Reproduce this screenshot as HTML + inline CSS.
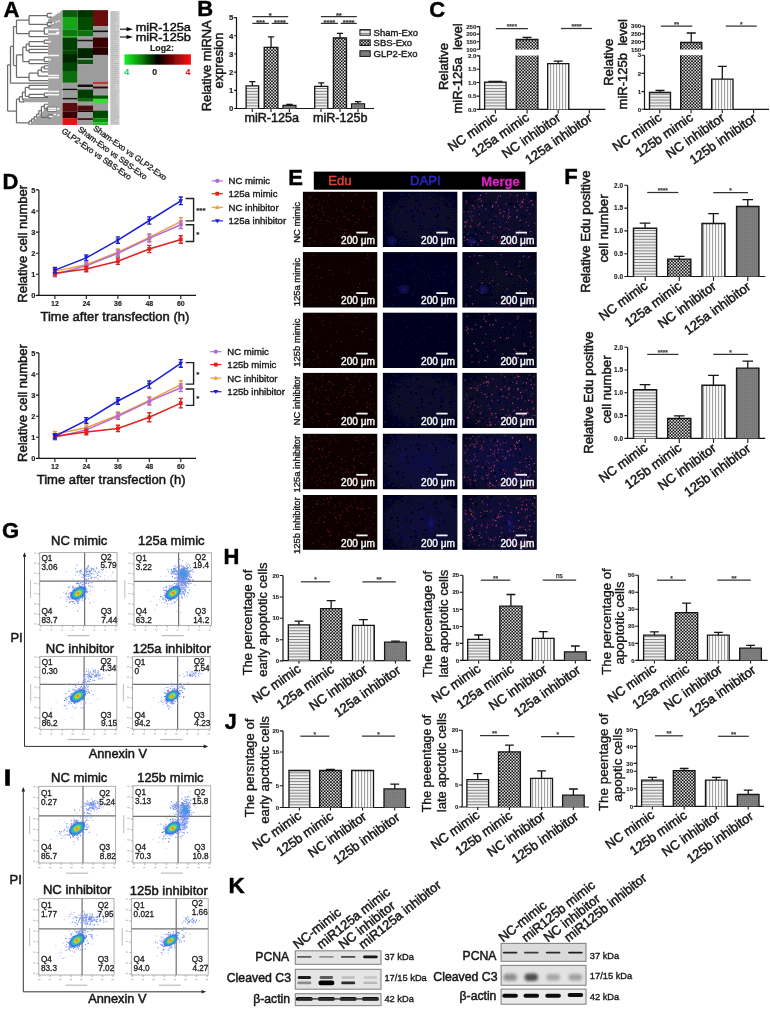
<!DOCTYPE html>
<html><head><meta charset="utf-8"><title>Figure</title>
<style>
html,body{margin:0;padding:0;background:#fff;}
body{width:770px;height:1011px;overflow:hidden;font-family:"Liberation Sans",sans-serif;}
svg{display:block;font-family:"Liberation Sans",sans-serif;}
</style></head><body>
<svg width="770" height="1011" viewBox="0 0 770 1011">
<defs><filter id="soft" x="0" y="0" width="100%" height="100%" filterUnits="userSpaceOnUse"><feGaussianBlur stdDeviation="0.38"/></filter></defs>
<rect width="770" height="1011" fill="#fff"/>
<g filter="url(#soft)">
<defs>
<pattern id="ph" width="4" height="2.9" patternUnits="userSpaceOnUse"><rect width="4" height="2.9" fill="#fafafa"/><rect y="0.9" width="4" height="1.15" fill="#828282"/></pattern>
<pattern id="pv" width="3" height="4" patternUnits="userSpaceOnUse"><rect width="3" height="4" fill="#fafafa"/><rect x="1" width="1.1" height="4" fill="#a2a2a2"/></pattern>
<pattern id="pc" width="3.1" height="3.1" patternUnits="userSpaceOnUse"><rect width="3.1" height="3.1" fill="#151515"/><rect width="1.45" height="1.45" fill="#f6f6f6"/><rect x="1.55" y="1.55" width="1.45" height="1.45" fill="#f6f6f6"/></pattern>
<pattern id="pg" width="2" height="2" patternUnits="userSpaceOnUse"><rect width="2" height="2" fill="#7b7b7b"/><rect width="1" height="1" fill="#747474"/><rect x="1" y="1" width="1" height="1" fill="#828282"/></pattern>
</defs>
<text x="3.6" y="16.5" font-size="22" text-anchor="start" font-weight="bold" fill="#000"  stroke="#000" stroke-width="0.44">A</text>
<path d="M62.5,10.5 L58,12.5 L55,15.5 L48.1,19 L48.1,98.3 L23,98.3 L23,102.2 L48.1,102.2 L48.1,105 L44.5,109.5 L41.5,113 L38,116.5 L35,119.5 L32,122 L29.5,125 L62.5,125 Z" fill="#a3a3a3" stroke="none" stroke-width="1" />
<path d="M7.6,64.9V111.1M7.6,64.9H10.5M7.6,111.1H16.5M10.5,46.4V83.2M10.5,46.4H13.5M10.5,83.2H48.1M13.5,26.5V65.5M13.5,26.5H16.5M13.5,65.5H16.5M16.5,20.0V33.7M16.5,20.0H29.1M16.5,33.7H29.1M29.1,15.5V24.4M29.1,15.5H47.3M29.1,24.4H47.3M47.3,13.4V17.2M47.3,13.4H52.0M47.3,17.2H52.0M47.3,22.3V26.1M47.3,22.3H52.0M47.3,26.1H51.0M29.1,31.2V36.6M29.1,31.2H44.3M29.1,36.6H48.1M44.3,27.8V34.1M44.3,27.8H48.1M44.3,34.1H48.1M16.5,54.8V77.3M16.5,54.8H22.8M16.5,77.3H29.1M22.8,47.2V61.5M22.8,47.2H26.2M22.8,61.5H29.1M26.2,44.2V50.6M26.2,44.2H29.1M26.2,50.6H29.1M29.1,41.7V46.4M29.1,41.7H44.3M29.1,46.4H48.1M44.3,40.0V43.4M44.3,40.0H48.1M44.3,43.4H48.1M29.1,49.3V52.7M29.1,49.3H48.1M29.1,52.7H48.1M29.1,59.9V63.6M29.1,59.9H44.3M29.1,63.6H48.1M44.3,57.3V61.5M44.3,57.3H48.1M44.3,61.5H48.1M29.1,73.1V80.7M29.1,73.1H38.0M29.1,80.7H48.1M38.0,70.1V76.0M38.0,70.1H41.4M38.0,76.0H48.1M41.4,67.2V71.8M41.4,67.2H44.3M41.4,71.8H48.1M44.3,65.9V68.9M44.3,65.9H48.1M44.3,68.9H48.1M16.5,99.2V122.9M16.5,99.2H19.4M16.5,122.9H29.1M19.4,96.7V101.8M19.4,96.7H22.4M19.4,101.8H24.0M22.4,92.1V99.7M22.4,92.1H25.3M22.4,99.7H24.0M25.3,87.4V96.3M25.3,87.4H29.1M25.3,96.3H29.1M29.1,85.3V89.1M29.1,85.3H48.1M29.1,89.1H48.1M29.1,94.2V97.7M29.1,94.4H44.3M29.1,97.7H48.1M44.3,93.2V96.3M44.3,93.2H48.1M44.3,96.3H48.1M29.1,120.9V124.9M29.1,120.9H31.6M31.6,118.8V122.8M31.6,118.8H34.2M34.2,116.6V120.6M34.2,116.6H36.7M36.7,114.1V118.1M36.7,114.1H38.8M38.8,110.7V114.7M38.8,110.7H41.4M41.4,106.4V117.4M41.4,106.4H44.3M41.4,117.4H48.1M44.3,104.3V108.9M44.3,104.3H48.1M44.3,108.9H47.3M47.3,107.3V111.1M47.3,107.3H56.5M47.3,111.1H56.5M48.1,114.9V118.2M48.1,114.9H53.0M48.1,118.2H51.0" fill="none" stroke="#6c6c6c" stroke-width="1.25" />
<path d="M48.2,15.3H51.5M52.5,14.5H54.5M56.0,13.4H57.5M58.5,12.6H60.0M48.2,24.2H51.0M52.0,23.1H54.0M55.5,22.1H57.0M58.0,21.2H59.5M48.2,29.5H59.0M48.2,34.1H59.0M56.0,32.4H59.5M48.2,41.7H51.0M48.2,55.6H59.0M48.2,59.4H51.0M48.2,75.4H59.0M48.2,77.7H59.0M48.2,91.6H59.0M48.2,94.4H51.0M48.2,94.8H59.0M48.2,108.3H56.0M48.2,110.2H56.0M57.0,108.8H59.5M53.5,114.4H56.0M57.5,115.3H59.5M48.8,116.5H52.5M44.9,105.6H47.6M44.9,94.6H47.6M44.9,41.7H47.6M44.9,59.4H47.6M44.9,67.4H47.6" fill="none" stroke="#f6f6f6" stroke-width="1.5" />
<defs><filter id="hb" x="0" y="-2%" width="100%" height="104%"><feGaussianBlur stdDeviation="0 0.7"/></filter><clipPath id="hc"><rect x="62.3" y="10.1" width="45.9" height="115"/></clipPath></defs><g clip-path="url(#hc)"><g filter="url(#hb)">
<rect x="62.3" y="10.13" width="15.3" height="6.9" fill="#0b5a0b" stroke="none" stroke-width="1" />
<rect x="62.3" y="16.88" width="15.3" height="12.81" fill="#12a512" stroke="none" stroke-width="1" />
<rect x="62.3" y="29.55" width="15.3" height="6.73" fill="#0a7a0a" stroke="none" stroke-width="1" />
<rect x="62.3" y="36.13" width="15.3" height="1.5" fill="#18b018" stroke="none" stroke-width="1" />
<rect x="62.3" y="37.48" width="15.3" height="13.32" fill="#063c06" stroke="none" stroke-width="1" />
<rect x="62.3" y="50.65" width="15.3" height="3.53" fill="#064406" stroke="none" stroke-width="1" />
<rect x="62.3" y="54.03" width="15.3" height="8.93" fill="#032803" stroke="none" stroke-width="1" />
<rect x="62.3" y="62.81" width="15.3" height="8.25" fill="#064406" stroke="none" stroke-width="1" />
<rect x="62.3" y="70.91" width="15.3" height="11.97" fill="#0a6c0a" stroke="none" stroke-width="1" />
<rect x="62.3" y="82.73" width="15.3" height="6.06" fill="#9c9c9c" stroke="none" stroke-width="1" />
<rect x="62.3" y="88.64" width="15.3" height="1.84" fill="#111" stroke="none" stroke-width="1" />
<rect x="62.3" y="90.33" width="15.3" height="7.75" fill="#9c9c9c" stroke="none" stroke-width="1" />
<rect x="62.3" y="97.92" width="15.3" height="1.84" fill="#181010" stroke="none" stroke-width="1" />
<rect x="62.3" y="99.61" width="15.3" height="3.53" fill="#9c9c9c" stroke="none" stroke-width="1" />
<rect x="62.3" y="102.99" width="15.3" height="8.59" fill="#5a0909" stroke="none" stroke-width="1" />
<rect x="62.3" y="111.43" width="15.3" height="6.9" fill="#3a0606" stroke="none" stroke-width="1" />
<rect x="62.3" y="118.18" width="15.3" height="6.9" fill="#e21414" stroke="none" stroke-width="1" />
<rect x="77.6" y="10.13" width="15.4" height="6.9" fill="#043004" stroke="none" stroke-width="1" />
<rect x="77.6" y="16.88" width="15.4" height="13.66" fill="#064c06" stroke="none" stroke-width="1" />
<rect x="77.6" y="30.39" width="15.4" height="6.23" fill="#087208" stroke="none" stroke-width="1" />
<rect x="77.6" y="36.47" width="15.4" height="3.36" fill="#9c9c9c" stroke="none" stroke-width="1" />
<rect x="77.6" y="39.68" width="15.4" height="2.01" fill="#141414" stroke="none" stroke-width="1" />
<rect x="77.6" y="41.53" width="15.4" height="6.73" fill="#9c9c9c" stroke="none" stroke-width="1" />
<rect x="77.6" y="48.12" width="15.4" height="10.28" fill="#032803" stroke="none" stroke-width="1" />
<rect x="77.6" y="58.25" width="15.4" height="1.84" fill="#7a907a" stroke="none" stroke-width="1" />
<rect x="77.6" y="59.94" width="15.4" height="4.37" fill="#075207" stroke="none" stroke-width="1" />
<rect x="77.6" y="64.16" width="15.4" height="20.41" fill="#9c9c9c" stroke="none" stroke-width="1" />
<rect x="77.6" y="84.42" width="15.4" height="2.85" fill="#120808" stroke="none" stroke-width="1" />
<rect x="77.6" y="87.12" width="15.4" height="2.51" fill="#9c9c9c" stroke="none" stroke-width="1" />
<rect x="77.6" y="89.48" width="15.4" height="8.59" fill="#043a04" stroke="none" stroke-width="1" />
<rect x="77.6" y="97.92" width="15.4" height="3.86" fill="#0a6a0a" stroke="none" stroke-width="1" />
<rect x="77.6" y="101.64" width="15.4" height="4.03" fill="#9c9c9c" stroke="none" stroke-width="1" />
<rect x="77.6" y="105.52" width="15.4" height="5.22" fill="#4c0707" stroke="none" stroke-width="1" />
<rect x="77.6" y="110.59" width="15.4" height="1.84" fill="#1c0505" stroke="none" stroke-width="1" />
<rect x="77.6" y="112.27" width="15.4" height="6.06" fill="#9c9c9c" stroke="none" stroke-width="1" />
<rect x="77.6" y="118.18" width="15.4" height="1.84" fill="#3a0606" stroke="none" stroke-width="1" />
<rect x="77.6" y="119.87" width="15.4" height="5.22" fill="#9c9c9c" stroke="none" stroke-width="1" />
<rect x="93" y="10.13" width="15.2" height="16.19" fill="#6c0b0b" stroke="none" stroke-width="1" />
<rect x="93" y="26.17" width="15.2" height="4.37" fill="#9c9c9c" stroke="none" stroke-width="1" />
<rect x="93" y="30.39" width="15.2" height="2.18" fill="#141010" stroke="none" stroke-width="1" />
<rect x="93" y="32.42" width="15.2" height="5.22" fill="#9c9c9c" stroke="none" stroke-width="1" />
<rect x="93" y="37.48" width="15.2" height="9.94" fill="#3c0606" stroke="none" stroke-width="1" />
<rect x="93" y="47.27" width="15.2" height="7.75" fill="#2c0404" stroke="none" stroke-width="1" />
<rect x="93" y="54.87" width="15.2" height="27.16" fill="#9c9c9c" stroke="none" stroke-width="1" />
<rect x="93" y="81.88" width="15.2" height="2.68" fill="#c43434" stroke="none" stroke-width="1" />
<rect x="93" y="84.42" width="15.2" height="2.18" fill="#9c9c9c" stroke="none" stroke-width="1" />
<rect x="93" y="86.44" width="15.2" height="2.34" fill="#200808" stroke="none" stroke-width="1" />
<rect x="93" y="88.64" width="15.2" height="6.9" fill="#9c9c9c" stroke="none" stroke-width="1" />
<rect x="93" y="95.39" width="15.2" height="3.53" fill="#085008" stroke="none" stroke-width="1" />
<rect x="93" y="98.77" width="15.2" height="4.37" fill="#34e034" stroke="none" stroke-width="1" />
<rect x="93" y="102.99" width="15.2" height="7.75" fill="#9c9c9c" stroke="none" stroke-width="1" />
<rect x="93" y="110.59" width="15.2" height="7.75" fill="#064a06" stroke="none" stroke-width="1" />
<rect x="93" y="118.18" width="15.2" height="4.37" fill="#109010" stroke="none" stroke-width="1" />
<rect x="93" y="122.4" width="15.2" height="2.68" fill="#20c020" stroke="none" stroke-width="1" />
</g></g>
<rect x="110.2" y="11" width="9.3" height="114" fill="#cdcdcd" stroke="none" stroke-width="1" />
<path d="M111,12.0h4.3M111,14.0h6.0M111,16.0h5.0M111,17.9h6.3M111,19.9h6.4M111,21.9h3.4M111,23.9h3.1M111,25.9h7.6M111,27.8h4.4M111,29.8h4.3M111,31.8h8.5M111,33.8h5.6M111,35.8h7.6M111,37.7h5.6M111,39.7h6.5M111,41.7h3.8M111,43.7h6.5M111,45.7h7.8M111,47.6h5.9M111,49.6h7.1M111,51.6h6.7M111,53.6h3.4M111,55.6h7.2M111,57.5h6.3M111,59.5h4.7M111,61.5h3.2M111,63.5h7.8M111,65.5h5.6M111,67.4h7.0M111,69.4h7.8M111,71.4h6.9M111,73.4h8.1M111,75.4h5.2M111,77.3h7.4M111,79.3h5.4M111,81.3h8.1M111,83.3h7.8M111,85.3h3.5M111,87.2h3.7M111,89.2h4.2M111,91.2h8.3M111,93.2h5.4M111,95.2h6.4M111,97.1h4.7M111,99.1h5.8M111,101.1h5.1M111,103.1h4.9M111,105.1h6.2M111,107.0h6.2M111,109.0h8.0M111,111.0h6.8M111,113.0h8.1M111,115.0h7.7M111,116.9h8.5M111,118.9h6.7M111,120.9h3.9M111,122.9h7.7" fill="none" stroke="#b4b4b4" stroke-width="0.9" />
<line x1="120" y1="29.2" x2="128" y2="29.2" stroke="#111" stroke-width="1.1" />
<path d="M126.5,27.099999999999998 L133,29.2 L126.5,31.3 Z" fill="#111" stroke="none" stroke-width="1" />
<line x1="120" y1="37" x2="128" y2="37" stroke="#111" stroke-width="1.1" />
<path d="M126.5,34.9 L133,37 L126.5,39.1 Z" fill="#111" stroke="none" stroke-width="1" />
<text x="135.7" y="31.4" font-size="11.6" text-anchor="start" font-weight="normal" fill="#111" textLength="55.2" lengthAdjust="spacingAndGlyphs" stroke="#111" stroke-width="0.44">miR-125a</text>
<text x="135.7" y="40.9" font-size="11.6" text-anchor="start" font-weight="normal" fill="#111" textLength="55.2" lengthAdjust="spacingAndGlyphs" stroke="#111" stroke-width="0.44">miR-125b</text>
<text x="150" y="51" font-size="8.8" text-anchor="start" font-weight="bold" fill="#222"  stroke="#222" stroke-width="0.18">Log2:</text>
<defs><linearGradient id="cb"><stop offset="0" stop-color="#18f028"/><stop offset="0.2" stop-color="#0aa00a"/><stop offset="0.5" stop-color="#000"/><stop offset="0.8" stop-color="#a00808"/><stop offset="1" stop-color="#ff1010"/></linearGradient></defs>
<rect x="124.4" y="54.3" width="66.5" height="10.4" fill="url(#cb)" stroke="none" stroke-width="1" />
<text x="126.8" y="75.3" font-size="8.8" text-anchor="middle" font-weight="bold" fill="#2fd85a"  stroke="#2fd85a" stroke-width="0.18">4</text>
<text x="154.8" y="75.3" font-size="8.8" text-anchor="middle" font-weight="bold" fill="#222"  stroke="#222" stroke-width="0.18">0</text>
<text x="188" y="75.3" font-size="8.8" text-anchor="middle" font-weight="bold" fill="#e0202a"  stroke="#e0202a" stroke-width="0.18">4</text>
<text x="61" y="132.2" font-size="8.15" text-anchor="start" font-weight="normal" fill="#1a1a1a" transform="rotate(35.3 61 132.2)"  stroke="#1a1a1a" stroke-width="0.31">GLP2-Exo vs SBS-Exo</text>
<text x="77.2" y="130.4" font-size="8.15" text-anchor="start" font-weight="normal" fill="#1a1a1a" transform="rotate(36.3 77.2 130.4)"  stroke="#1a1a1a" stroke-width="0.31">Sham-Exo vs SBS-Exo</text>
<text x="92.6" y="129.4" font-size="8.15" text-anchor="start" font-weight="normal" fill="#1a1a1a" transform="rotate(35.6 92.6 129.4)"  stroke="#1a1a1a" stroke-width="0.31">Sham-Exo vs GLP2-Exo</text>
<text x="197.3" y="15.6" font-size="22" text-anchor="start" font-weight="bold" fill="#000"  stroke="#000" stroke-width="0.44">B</text>
<path d="M236.5,17.3V108.5" fill="none" stroke="#161616" stroke-width="1.2" />
<path d="M235.9,108.5H374" fill="none" stroke="#161616" stroke-width="1.2" />
<text x="233.4" y="111.31" font-size="7.8" text-anchor="end" font-weight="bold" fill="#222"  stroke="#222" stroke-width="0.16">0</text>
<text x="233.4" y="93.14" font-size="7.8" text-anchor="end" font-weight="bold" fill="#222"  stroke="#222" stroke-width="0.16">1</text>
<text x="233.4" y="74.97" font-size="7.8" text-anchor="end" font-weight="bold" fill="#222"  stroke="#222" stroke-width="0.16">2</text>
<text x="233.4" y="56.8" font-size="7.8" text-anchor="end" font-weight="bold" fill="#222"  stroke="#222" stroke-width="0.16">3</text>
<text x="233.4" y="38.63" font-size="7.8" text-anchor="end" font-weight="bold" fill="#222"  stroke="#222" stroke-width="0.16">4</text>
<text x="233.4" y="20.46" font-size="7.8" text-anchor="end" font-weight="bold" fill="#222"  stroke="#222" stroke-width="0.16">5</text>
<path d="M234.1,108.5H236.5M234.1,90.33H236.5M234.1,72.16H236.5M234.1,53.99H236.5M234.1,35.82H236.5M234.1,17.65H236.5M252.30,108.5v3.4M271.00,108.5v3.4M289.40,108.5v3.4M321.00,108.5v3.4M340.00,108.5v3.4M358.00,108.5v3.4" fill="none" stroke="#161616" stroke-width="1.1" />
<rect x="246.1" y="85.9" width="12.5" height="22.6" fill="url(#ph)" stroke="none" stroke-width="1" />
<path d="M246.10,108.50V85.90H258.60V108.50" fill="none" stroke="#161616" stroke-width="1.3" />
<path d="M252.35,85.90V81.70M249.25,81.70H255.45" fill="none" stroke="#161616" stroke-width="1.3" />
<rect x="264.2" y="47.4" width="13.7" height="61.1" fill="url(#pc)" stroke="none" stroke-width="1" />
<path d="M264.20,108.50V47.40H277.90V108.50" fill="none" stroke="#161616" stroke-width="1.3" />
<path d="M271.05,47.40V36.80M267.95,36.80H274.15" fill="none" stroke="#161616" stroke-width="1.3" />
<rect x="282.9" y="105.4" width="13.1" height="3.1" fill="url(#pg)" stroke="none" stroke-width="1" />
<path d="M282.90,108.50V105.40H296.00V108.50" fill="none" stroke="#161616" stroke-width="1.1" />
<path d="M289.45,105.40V104.40M286.35,104.40H292.55" fill="none" stroke="#161616" stroke-width="1.3" />
<rect x="314.7" y="86.3" width="13.1" height="22.2" fill="url(#ph)" stroke="none" stroke-width="1" />
<path d="M314.70,108.50V86.30H327.80V108.50" fill="none" stroke="#161616" stroke-width="1.3" />
<path d="M321.25,86.30V82.90M318.15,82.90H324.35" fill="none" stroke="#161616" stroke-width="1.3" />
<rect x="333.4" y="38" width="13.1" height="70.5" fill="url(#pc)" stroke="none" stroke-width="1" />
<path d="M333.40,108.50V38.00H346.50V108.50" fill="none" stroke="#161616" stroke-width="1.3" />
<path d="M339.95,38.00V33.40M336.85,33.40H343.05" fill="none" stroke="#161616" stroke-width="1.3" />
<rect x="351.5" y="103.8" width="13.1" height="4.7" fill="url(#pg)" stroke="none" stroke-width="1" />
<path d="M351.50,108.50V103.80H364.60V108.50" fill="none" stroke="#161616" stroke-width="1.1" />
<path d="M358.05,103.80V101.60M354.95,101.60H361.15" fill="none" stroke="#161616" stroke-width="1.3" />
<line x1="252.3" y1="16.5" x2="288.2" y2="16.5" stroke="#333" stroke-width="1.25" />
<text x="270.25" y="18.1" font-size="7.5" text-anchor="middle" font-weight="bold" fill="#333"  stroke="#333" stroke-width="0.15">*</text>
<line x1="252.3" y1="23.4" x2="268.9" y2="23.4" stroke="#333" stroke-width="1.25" />
<text x="260.6" y="25.0" font-size="7.5" text-anchor="middle" font-weight="bold" fill="#333"  stroke="#333" stroke-width="0.15">***</text>
<line x1="271.7" y1="23.4" x2="288.2" y2="23.4" stroke="#333" stroke-width="1.25" />
<text x="279.95" y="25.0" font-size="7.5" text-anchor="middle" font-weight="bold" fill="#333"  stroke="#333" stroke-width="0.15">****</text>
<line x1="320.9" y1="16.5" x2="356.8" y2="16.5" stroke="#333" stroke-width="1.25" />
<text x="338.85" y="18.1" font-size="7.5" text-anchor="middle" font-weight="bold" fill="#333"  stroke="#333" stroke-width="0.15">**</text>
<line x1="320.9" y1="23.4" x2="338" y2="23.4" stroke="#333" stroke-width="1.25" />
<text x="329.45" y="25.0" font-size="7.5" text-anchor="middle" font-weight="bold" fill="#333"  stroke="#333" stroke-width="0.15">****</text>
<line x1="340.6" y1="23.4" x2="356.8" y2="23.4" stroke="#333" stroke-width="1.25" />
<text x="348.7" y="25.0" font-size="7.5" text-anchor="middle" font-weight="bold" fill="#333"  stroke="#333" stroke-width="0.15">****</text>
<text x="271.7" y="122.4" font-size="12.6" text-anchor="middle" font-weight="normal" fill="#161616"  stroke="#161616" stroke-width="0.48">miR-125a</text>
<text x="340.2" y="122.4" font-size="12.6" text-anchor="middle" font-weight="normal" fill="#161616"  stroke="#161616" stroke-width="0.48">miR-125b</text>
<text x="211.45" y="65.8" font-size="12.9" text-anchor="middle" font-weight="normal" fill="#161616" transform="rotate(-90 211.45 65.8)"  stroke="#161616" stroke-width="0.49">Relative miRNA</text>
<text x="223.15" y="60.5" font-size="12.9" text-anchor="middle" font-weight="normal" fill="#161616" transform="rotate(-90 223.15 60.5)"  stroke="#161616" stroke-width="0.49">expresion</text>
<rect x="359.9" y="29.6" width="10.3" height="5.6" fill="url(#ph)" stroke="#161616" stroke-width="1" />
<text x="373.6" y="36.0" font-size="9.5" text-anchor="start" font-weight="normal" fill="#161616"  stroke="#161616" stroke-width="0.36">Sham-Exo</text>
<rect x="359.9" y="39.9" width="10.3" height="5.6" fill="url(#pc)" stroke="#161616" stroke-width="1" />
<text x="373.6" y="46.3" font-size="9.5" text-anchor="start" font-weight="normal" fill="#161616"  stroke="#161616" stroke-width="0.36">SBS-Exo</text>
<rect x="359.9" y="50.8" width="10.3" height="5.6" fill="url(#pg)" stroke="#161616" stroke-width="1" />
<text x="373.6" y="57.199999999999996" font-size="9.5" text-anchor="start" font-weight="normal" fill="#161616"  stroke="#161616" stroke-width="0.36">GLP2-Exo</text>
<text x="429.3" y="17.2" font-size="22" text-anchor="start" font-weight="bold" fill="#000"  stroke="#000" stroke-width="0.44">C</text>
<path d="M479.7,26.2V49.6M479.7,55.6V109.4" fill="none" stroke="#161616" stroke-width="1.2" />
<path d="M479.09999999999997,109.4H605.5" fill="none" stroke="#161616" stroke-width="1.2" />
<text x="476.4" y="28.8" font-size="6.1" text-anchor="end" font-weight="bold" fill="#222"  stroke="#222" stroke-width="0.12">250</text>
<text x="476.4" y="36.3" font-size="6.1" text-anchor="end" font-weight="bold" fill="#222"  stroke="#222" stroke-width="0.12">200</text>
<text x="476.4" y="44.0" font-size="6.1" text-anchor="end" font-weight="bold" fill="#222"  stroke="#222" stroke-width="0.12">150</text>
<text x="476.4" y="51.5" font-size="6.1" text-anchor="end" font-weight="bold" fill="#222"  stroke="#222" stroke-width="0.12">100</text>
<text x="476.4" y="58.1" font-size="6.1" text-anchor="end" font-weight="bold" fill="#222"  stroke="#222" stroke-width="0.12">2.0</text>
<text x="476.4" y="71.4" font-size="6.1" text-anchor="end" font-weight="bold" fill="#222"  stroke="#222" stroke-width="0.12">1.5</text>
<text x="476.4" y="84.7" font-size="6.1" text-anchor="end" font-weight="bold" fill="#222"  stroke="#222" stroke-width="0.12">1.0</text>
<text x="476.4" y="98.3" font-size="6.1" text-anchor="end" font-weight="bold" fill="#222"  stroke="#222" stroke-width="0.12">0.5</text>
<text x="476.4" y="111.6" font-size="6.1" text-anchor="end" font-weight="bold" fill="#222"  stroke="#222" stroke-width="0.12">0.0</text>
<path d="M476.7,26.6H479.7M476.7,34.1H479.7M476.7,41.8H479.7M476.7,49.3H479.7M476.7,55.9H479.7M476.7,69.2H479.7M476.7,82.5H479.7M476.7,96.1H479.7M476.7,109.4H479.7M495.4,109.4v4M527.1,109.4v4M558.2,109.4v4M589.3,109.4v4" fill="none" stroke="#161616" stroke-width="1.1" />
<rect x="484.6" y="82.1" width="21.5" height="27.3" fill="url(#ph)" stroke="none" stroke-width="1" />
<path d="M484.60,109.40V82.10H506.10V109.40" fill="none" stroke="#161616" stroke-width="1.3" />
<path d="M495.35,82.10V81.40M488.35,81.40H502.35" fill="none" stroke="#161616" stroke-width="1.3" />
<rect x="516.2" y="55.6" width="21.7" height="53.8" fill="url(#pc)" stroke="none" stroke-width="1" />
<path d="M516.20,109.40V55.60M537.90,55.60V109.40" fill="none" stroke="#161616" stroke-width="1.3" />
<rect x="516.2" y="39.5" width="21.7" height="10.1" fill="url(#pc)" stroke="none" stroke-width="1" />
<path d="M516.20,49.60V39.50H537.90V49.60" fill="none" stroke="#161616" stroke-width="1.3" />
<path d="M527.05,39.50V37.40M522.55,37.40H531.55" fill="none" stroke="#161616" stroke-width="1.3" />
<rect x="547.7" y="63.6" width="21.1" height="45.8" fill="url(#pv)" stroke="none" stroke-width="1" />
<path d="M547.70,109.40V63.60H568.80V109.40" fill="none" stroke="#161616" stroke-width="1.3" />
<path d="M558.25,63.60V61.20M553.75,61.20H562.75" fill="none" stroke="#161616" stroke-width="1.3" />
<line x1="495.8" y1="28.5" x2="527.9" y2="28.5" stroke="#333" stroke-width="1.25" />
<text x="511.85" y="29.1" font-size="6.6" text-anchor="middle" font-weight="bold" fill="#333"  stroke="#333" stroke-width="0.13">****</text>
<line x1="561" y1="28.5" x2="592.1" y2="28.5" stroke="#333" stroke-width="1.25" />
<text x="576.55" y="29.1" font-size="6.6" text-anchor="middle" font-weight="bold" fill="#333"  stroke="#333" stroke-width="0.13">****</text>
<text x="498" y="119.5" font-size="13" text-anchor="end" font-weight="normal" fill="#161616" transform="rotate(-35 498 119.5)"  stroke="#161616" stroke-width="0.49">NC mimic</text>
<text x="530" y="119.5" font-size="13" text-anchor="end" font-weight="normal" fill="#161616" transform="rotate(-35 530 119.5)"  stroke="#161616" stroke-width="0.49">125a mimic</text>
<text x="561.5" y="119.8" font-size="13" text-anchor="end" font-weight="normal" fill="#161616" transform="rotate(-35 561.5 119.8)"  stroke="#161616" stroke-width="0.49">NC inhibitor</text>
<text x="593" y="120" font-size="13" text-anchor="end" font-weight="normal" fill="#161616" transform="rotate(-35 593 120)"  stroke="#161616" stroke-width="0.49">125a inhibitor</text>
<text x="447.99" y="66.6" font-size="13" text-anchor="middle" font-weight="normal" fill="#161616" transform="rotate(-90 447.99 66.6)"  stroke="#161616" stroke-width="0.49">Relative</text>
<text x="461.99" y="68.4" font-size="13" text-anchor="middle" font-weight="normal" fill="#161616" transform="rotate(-90 461.99 68.4)"  stroke="#161616" stroke-width="0.49">miR-125a  level</text>
<path d="M644.5,26.1V49.5M644.5,55.2V109.3" fill="none" stroke="#161616" stroke-width="1.2" />
<path d="M643.9,109.3H769" fill="none" stroke="#161616" stroke-width="1.2" />
<text x="641.2" y="28.3" font-size="6.1" text-anchor="end" font-weight="bold" fill="#222"  stroke="#222" stroke-width="0.12">300</text>
<text x="641.2" y="36.1" font-size="6.1" text-anchor="end" font-weight="bold" fill="#222"  stroke="#222" stroke-width="0.12">250</text>
<text x="641.2" y="43.8" font-size="6.1" text-anchor="end" font-weight="bold" fill="#222"  stroke="#222" stroke-width="0.12">200</text>
<text x="641.2" y="51.5" font-size="6.1" text-anchor="end" font-weight="bold" fill="#222"  stroke="#222" stroke-width="0.12">150</text>
<text x="641.2" y="57.4" font-size="6.1" text-anchor="end" font-weight="bold" fill="#222"  stroke="#222" stroke-width="0.12">3</text>
<text x="641.2" y="75.6" font-size="6.1" text-anchor="end" font-weight="bold" fill="#222"  stroke="#222" stroke-width="0.12">2</text>
<text x="641.2" y="93.8" font-size="6.1" text-anchor="end" font-weight="bold" fill="#222"  stroke="#222" stroke-width="0.12">1</text>
<text x="641.2" y="111.5" font-size="6.1" text-anchor="end" font-weight="bold" fill="#222"  stroke="#222" stroke-width="0.12">0</text>
<path d="M641.5,26.1H644.5M641.5,33.9H644.5M641.5,41.6H644.5M641.5,49.3H644.5M641.5,55.2H644.5M641.5,73.4H644.5M641.5,91.6H644.5M641.5,109.3H644.5M659.8,109.3v4M691.1,109.3v4M722.3,109.3v4M753.6,109.3v4" fill="none" stroke="#161616" stroke-width="1.1" />
<rect x="649.5" y="92.5" width="21.0" height="16.8" fill="url(#ph)" stroke="none" stroke-width="1" />
<path d="M649.50,109.30V92.50H670.50V109.30" fill="none" stroke="#161616" stroke-width="1.3" />
<path d="M660.00,92.50V90.50M655.50,90.50H664.50" fill="none" stroke="#161616" stroke-width="1.3" />
<rect x="680.7" y="55.2" width="21.1" height="54.1" fill="url(#pc)" stroke="none" stroke-width="1" />
<path d="M680.70,109.30V55.20M701.80,55.20V109.30" fill="none" stroke="#161616" stroke-width="1.3" />
<rect x="680.7" y="42.5" width="21.1" height="7.0" fill="url(#pc)" stroke="none" stroke-width="1" />
<path d="M680.70,49.50V42.50H701.80V49.50" fill="none" stroke="#161616" stroke-width="1.3" />
<path d="M691.25,42.50V33.00M686.75,33.00H695.75" fill="none" stroke="#161616" stroke-width="1.3" />
<rect x="711.6" y="79.1" width="21.4" height="30.2" fill="url(#pv)" stroke="none" stroke-width="1" />
<path d="M711.60,109.30V79.10H733.00V109.30" fill="none" stroke="#161616" stroke-width="1.3" />
<path d="M722.30,79.10V66.40M717.80,66.40H726.80" fill="none" stroke="#161616" stroke-width="1.3" />
<line x1="660.9" y1="26.1" x2="692.3" y2="26.1" stroke="#333" stroke-width="1.25" />
<text x="676.6" y="26.7" font-size="6.6" text-anchor="middle" font-weight="bold" fill="#333"  stroke="#333" stroke-width="0.13">**</text>
<line x1="725.7" y1="26.1" x2="756.8" y2="26.1" stroke="#333" stroke-width="1.25" />
<text x="741.25" y="26.7" font-size="6.6" text-anchor="middle" font-weight="bold" fill="#333"  stroke="#333" stroke-width="0.13">*</text>
<text x="662.5" y="119.5" font-size="13" text-anchor="end" font-weight="normal" fill="#161616" transform="rotate(-35 662.5 119.5)"  stroke="#161616" stroke-width="0.49">NC mimic</text>
<text x="694" y="119.5" font-size="13" text-anchor="end" font-weight="normal" fill="#161616" transform="rotate(-35 694 119.5)"  stroke="#161616" stroke-width="0.49">125b mimic</text>
<text x="725.5" y="119.8" font-size="13" text-anchor="end" font-weight="normal" fill="#161616" transform="rotate(-35 725.5 119.8)"  stroke="#161616" stroke-width="0.49">NC inhibitor</text>
<text x="757.5" y="120" font-size="13" text-anchor="end" font-weight="normal" fill="#161616" transform="rotate(-35 757.5 120)"  stroke="#161616" stroke-width="0.49">125b inhibitor</text>
<text x="613.38" y="62.3" font-size="13" text-anchor="middle" font-weight="normal" fill="#161616" transform="rotate(-90 613.38 62.3)"  stroke="#161616" stroke-width="0.49">Relative</text>
<text x="627.38" y="64.2" font-size="13" text-anchor="middle" font-weight="normal" fill="#161616" transform="rotate(-90 627.38 64.2)"  stroke="#161616" stroke-width="0.49">miR-125b  level</text>
<text x="2.4" y="188.8" font-size="22" text-anchor="start" font-weight="bold" fill="#000"  stroke="#000" stroke-width="0.44">D</text>
<path d="M38.9,189.9V295.4" fill="none" stroke="#161616" stroke-width="1.2" />
<path d="M38.3,295.4H196" fill="none" stroke="#161616" stroke-width="1.2" />
<text x="35.3" y="298.06" font-size="7.4" text-anchor="end" font-weight="bold" fill="#222"  stroke="#222" stroke-width="0.15">0</text>
<text x="35.3" y="276.96" font-size="7.4" text-anchor="end" font-weight="bold" fill="#222"  stroke="#222" stroke-width="0.15">1</text>
<text x="35.3" y="255.86" font-size="7.4" text-anchor="end" font-weight="bold" fill="#222"  stroke="#222" stroke-width="0.15">2</text>
<text x="35.3" y="234.76" font-size="7.4" text-anchor="end" font-weight="bold" fill="#222"  stroke="#222" stroke-width="0.15">3</text>
<text x="35.3" y="213.66" font-size="7.4" text-anchor="end" font-weight="bold" fill="#222"  stroke="#222" stroke-width="0.15">4</text>
<text x="35.3" y="192.56" font-size="7.4" text-anchor="end" font-weight="bold" fill="#222"  stroke="#222" stroke-width="0.15">5</text>
<path d="M35.9,295.4H38.9M35.9,274.3H38.9M35.9,253.2H38.9M35.9,232.1H38.9M35.9,211.0H38.9M35.9,189.9H38.9M54.90,295.4v3.6M86.30,295.4v3.6M117.90,295.4v3.6M149.30,295.4v3.6M180.80,295.4v3.6" fill="none" stroke="#161616" stroke-width="1.1" />
<text x="54.9" y="306.4" font-size="7.0" text-anchor="middle" font-weight="bold" fill="#222"  stroke="#222" stroke-width="0.14">12</text>
<text x="86.3" y="306.4" font-size="7.0" text-anchor="middle" font-weight="bold" fill="#222"  stroke="#222" stroke-width="0.14">24</text>
<text x="117.9" y="306.4" font-size="7.0" text-anchor="middle" font-weight="bold" fill="#222"  stroke="#222" stroke-width="0.14">36</text>
<text x="149.3" y="306.4" font-size="7.0" text-anchor="middle" font-weight="bold" fill="#222"  stroke="#222" stroke-width="0.14">48</text>
<text x="180.8" y="306.4" font-size="7.0" text-anchor="middle" font-weight="bold" fill="#222"  stroke="#222" stroke-width="0.14">60</text>
<path d="M54.9,271.13L86.3,264.8L117.9,252.14L149.3,237.37L180.8,221.55" fill="none" stroke="#e9a13a" stroke-width="1.5" />
<path d="M54.9,268.53V273.73M52.8,268.53h4.2M52.8,273.73h4.2M86.3,262.00V267.60M84.2,262.00h4.2M84.2,267.60h4.2M117.9,248.94V255.34M115.80000000000001,248.94h4.2M115.80000000000001,255.34h4.2M149.3,233.77V240.97M147.20000000000002,233.77h4.2M147.20000000000002,240.97h4.2M180.8,217.75V225.35M178.70000000000002,217.75h4.2M178.70000000000002,225.35h4.2" fill="none" stroke="#e9a13a" stroke-width="1.4" />
<path d="M52.50,272.83L57.30,272.83L54.9,268.73Z" fill="#e9a13a" stroke="none" stroke-width="1" />
<path d="M83.90,266.50L88.70,266.50L86.3,262.40Z" fill="#e9a13a" stroke="none" stroke-width="1" />
<path d="M115.50,253.84L120.30,253.84L117.9,249.74Z" fill="#e9a13a" stroke="none" stroke-width="1" />
<path d="M146.90,239.07L151.70,239.07L149.3,234.97Z" fill="#e9a13a" stroke="none" stroke-width="1" />
<path d="M178.40,223.25L183.20,223.25L180.8,219.15Z" fill="#e9a13a" stroke="none" stroke-width="1" />
<path d="M54.9,274.3L86.3,265.86L117.9,253.2L149.3,238.43L180.8,224.71" fill="none" stroke="#b56ad6" stroke-width="1.5" />
<path d="M54.9,271.70V276.90M52.8,271.70h4.2M52.8,276.90h4.2M86.3,263.06V268.66M84.2,263.06h4.2M84.2,268.66h4.2M117.9,250.00V256.40M115.80000000000001,250.00h4.2M115.80000000000001,256.40h4.2M149.3,234.83V242.03M147.20000000000002,234.83h4.2M147.20000000000002,242.03h4.2M180.8,220.91V228.51M178.70000000000002,220.91h4.2M178.70000000000002,228.51h4.2" fill="none" stroke="#b56ad6" stroke-width="1.4" />
<circle cx="54.9" cy="274.3" r="2.1" fill="#b56ad6" />
<circle cx="86.3" cy="265.86" r="2.1" fill="#b56ad6" />
<circle cx="117.9" cy="253.2" r="2.1" fill="#b56ad6" />
<circle cx="149.3" cy="238.43" r="2.1" fill="#b56ad6" />
<circle cx="180.8" cy="224.71" r="2.1" fill="#b56ad6" />
<path d="M54.9,273.25L86.3,269.02L117.9,261.22L149.3,248.98L180.8,239.48" fill="none" stroke="#e0221e" stroke-width="1.5" />
<path d="M54.9,270.65V275.85M52.8,270.65h4.2M52.8,275.85h4.2M86.3,266.22V271.82M84.2,266.22h4.2M84.2,271.82h4.2M117.9,258.02V264.42M115.80000000000001,258.02h4.2M115.80000000000001,264.42h4.2M149.3,245.38V252.58M147.20000000000002,245.38h4.2M147.20000000000002,252.58h4.2M180.8,235.68V243.28M178.70000000000002,235.68h4.2M178.70000000000002,243.28h4.2" fill="none" stroke="#e0221e" stroke-width="1.4" />
<rect x="53.0" y="271.35" width="3.8" height="3.8" fill="#e0221e" stroke="none" stroke-width="1" />
<rect x="84.4" y="267.12" width="3.8" height="3.8" fill="#e0221e" stroke="none" stroke-width="1" />
<rect x="116.0" y="259.32" width="3.8" height="3.8" fill="#e0221e" stroke="none" stroke-width="1" />
<rect x="147.4" y="247.08" width="3.8" height="3.8" fill="#e0221e" stroke="none" stroke-width="1" />
<rect x="178.9" y="237.58" width="3.8" height="3.8" fill="#e0221e" stroke="none" stroke-width="1" />
<path d="M54.9,270.08L86.3,257.84L117.9,240.12L149.3,220.49L180.8,200.87" fill="none" stroke="#1a1fd0" stroke-width="1.5" />
<path d="M54.9,267.48V272.68M52.8,267.48h4.2M52.8,272.68h4.2M86.3,255.04V260.64M84.2,255.04h4.2M84.2,260.64h4.2M117.9,236.92V243.32M115.80000000000001,236.92h4.2M115.80000000000001,243.32h4.2M149.3,216.89V224.09M147.20000000000002,216.89h4.2M147.20000000000002,224.09h4.2M180.8,197.07V204.67M178.70000000000002,197.07h4.2M178.70000000000002,204.67h4.2" fill="none" stroke="#1a1fd0" stroke-width="1.4" />
<path d="M52.50,268.38L57.30,268.38L54.9,272.48Z" fill="#1a1fd0" stroke="none" stroke-width="1" />
<path d="M83.90,256.14L88.70,256.14L86.3,260.24Z" fill="#1a1fd0" stroke="none" stroke-width="1" />
<path d="M115.50,238.42L120.30,238.42L117.9,242.52Z" fill="#1a1fd0" stroke="none" stroke-width="1" />
<path d="M146.90,218.79L151.70,218.79L149.3,222.89Z" fill="#1a1fd0" stroke="none" stroke-width="1" />
<path d="M178.40,199.17L183.20,199.17L180.8,203.27Z" fill="#1a1fd0" stroke="none" stroke-width="1" />
<line x1="211.70000000000002" y1="180.9" x2="222.9" y2="180.9" stroke="#b56ad6" stroke-width="1.2" />
<circle cx="217.3" cy="180.9" r="2.1" fill="#b56ad6" />
<text x="228.5" y="184.4" font-size="9.6" text-anchor="start" font-weight="normal" fill="#161616"  stroke="#161616" stroke-width="0.36">NC mimic</text>
<line x1="211.70000000000002" y1="193.7" x2="222.9" y2="193.7" stroke="#e0221e" stroke-width="1.2" />
<rect x="215.4" y="191.8" width="3.8" height="3.8" fill="#e0221e" stroke="none" stroke-width="1" />
<text x="228.5" y="197.2" font-size="9.6" text-anchor="start" font-weight="normal" fill="#161616"  stroke="#161616" stroke-width="0.36">125a mimic</text>
<line x1="211.70000000000002" y1="207.3" x2="222.9" y2="207.3" stroke="#e9a13a" stroke-width="1.2" />
<path d="M214.90,209.00L219.70,209.00L217.3,204.90Z" fill="#e9a13a" stroke="none" stroke-width="1" />
<text x="228.5" y="210.8" font-size="9.6" text-anchor="start" font-weight="normal" fill="#161616"  stroke="#161616" stroke-width="0.36">NC inhibitor</text>
<line x1="211.70000000000002" y1="220.9" x2="222.9" y2="220.9" stroke="#1a1fd0" stroke-width="1.2" />
<path d="M214.90,219.20L219.70,219.20L217.3,223.30Z" fill="#1a1fd0" stroke="none" stroke-width="1" />
<text x="228.5" y="224.4" font-size="9.6" text-anchor="start" font-weight="normal" fill="#161616"  stroke="#161616" stroke-width="0.36">125a inhibitor</text>
<path d="M185.6,198.5H193.6V220.9H185.6" fill="none" stroke="#222" stroke-width="1.4" />
<text x="196.2" y="212.8" font-size="8" text-anchor="start" font-weight="bold" fill="#222"  stroke="#222" stroke-width="0.16">***</text>
<path d="M185.6,224.8H193.6V241.5H185.6" fill="none" stroke="#222" stroke-width="1.4" />
<text x="196.2" y="236.8" font-size="8" text-anchor="start" font-weight="bold" fill="#222"  stroke="#222" stroke-width="0.16">*</text>
<text x="114.9" y="320.7" font-size="13.05" text-anchor="middle" font-weight="normal" fill="#161616"  stroke="#161616" stroke-width="0.50">Time after transfection (h)</text>
<text x="26.68" y="243.8" font-size="13" text-anchor="middle" font-weight="normal" fill="#161616" transform="rotate(-90 26.68 243.8)"  stroke="#161616" stroke-width="0.49">Relative cell number</text>
<path d="M38.9,352.9V458.4" fill="none" stroke="#161616" stroke-width="1.2" />
<path d="M38.3,458.4H196" fill="none" stroke="#161616" stroke-width="1.2" />
<text x="35.3" y="461.06" font-size="7.4" text-anchor="end" font-weight="bold" fill="#222"  stroke="#222" stroke-width="0.15">0</text>
<text x="35.3" y="439.96" font-size="7.4" text-anchor="end" font-weight="bold" fill="#222"  stroke="#222" stroke-width="0.15">1</text>
<text x="35.3" y="418.86" font-size="7.4" text-anchor="end" font-weight="bold" fill="#222"  stroke="#222" stroke-width="0.15">2</text>
<text x="35.3" y="397.76" font-size="7.4" text-anchor="end" font-weight="bold" fill="#222"  stroke="#222" stroke-width="0.15">3</text>
<text x="35.3" y="376.66" font-size="7.4" text-anchor="end" font-weight="bold" fill="#222"  stroke="#222" stroke-width="0.15">4</text>
<text x="35.3" y="355.56" font-size="7.4" text-anchor="end" font-weight="bold" fill="#222"  stroke="#222" stroke-width="0.15">5</text>
<path d="M35.9,458.4H38.9M35.9,437.3H38.9M35.9,416.2H38.9M35.9,395.1H38.9M35.9,374.0H38.9M35.9,352.9H38.9M54.90,458.4v3.6M86.30,458.4v3.6M117.90,458.4v3.6M149.30,458.4v3.6M180.80,458.4v3.6" fill="none" stroke="#161616" stroke-width="1.1" />
<text x="54.9" y="469.4" font-size="7.0" text-anchor="middle" font-weight="bold" fill="#222"  stroke="#222" stroke-width="0.14">12</text>
<text x="86.3" y="469.4" font-size="7.0" text-anchor="middle" font-weight="bold" fill="#222"  stroke="#222" stroke-width="0.14">24</text>
<text x="117.9" y="469.4" font-size="7.0" text-anchor="middle" font-weight="bold" fill="#222"  stroke="#222" stroke-width="0.14">36</text>
<text x="149.3" y="469.4" font-size="7.0" text-anchor="middle" font-weight="bold" fill="#222"  stroke="#222" stroke-width="0.14">48</text>
<text x="180.8" y="469.4" font-size="7.0" text-anchor="middle" font-weight="bold" fill="#222"  stroke="#222" stroke-width="0.14">60</text>
<path d="M54.9,434.13L86.3,427.8L117.9,415.14L149.3,400.38L180.8,384.55" fill="none" stroke="#e9a13a" stroke-width="1.5" />
<path d="M54.9,431.53V436.73M52.8,431.53h4.2M52.8,436.73h4.2M86.3,425.00V430.60M84.2,425.00h4.2M84.2,430.60h4.2M117.9,411.94V418.34M115.80000000000001,411.94h4.2M115.80000000000001,418.34h4.2M149.3,396.78V403.98M147.20000000000002,396.78h4.2M147.20000000000002,403.98h4.2M180.8,380.75V388.35M178.70000000000002,380.75h4.2M178.70000000000002,388.35h4.2" fill="none" stroke="#e9a13a" stroke-width="1.4" />
<path d="M52.50,435.83L57.30,435.83L54.9,431.73Z" fill="#e9a13a" stroke="none" stroke-width="1" />
<path d="M83.90,429.50L88.70,429.50L86.3,425.40Z" fill="#e9a13a" stroke="none" stroke-width="1" />
<path d="M115.50,416.84L120.30,416.84L117.9,412.74Z" fill="#e9a13a" stroke="none" stroke-width="1" />
<path d="M146.90,402.08L151.70,402.08L149.3,397.98Z" fill="#e9a13a" stroke="none" stroke-width="1" />
<path d="M178.40,386.25L183.20,386.25L180.8,382.15Z" fill="#e9a13a" stroke="none" stroke-width="1" />
<path d="M54.9,437.3L86.3,429.91L117.9,416.2L149.3,401.43L180.8,387.71" fill="none" stroke="#b56ad6" stroke-width="1.5" />
<path d="M54.9,434.70V439.90M52.8,434.70h4.2M52.8,439.90h4.2M86.3,427.11V432.71M84.2,427.11h4.2M84.2,432.71h4.2M117.9,413.00V419.40M115.80000000000001,413.00h4.2M115.80000000000001,419.40h4.2M149.3,397.83V405.03M147.20000000000002,397.83h4.2M147.20000000000002,405.03h4.2M180.8,383.91V391.51M178.70000000000002,383.91h4.2M178.70000000000002,391.51h4.2" fill="none" stroke="#b56ad6" stroke-width="1.4" />
<circle cx="54.9" cy="437.3" r="2.1" fill="#b56ad6" />
<circle cx="86.3" cy="429.91" r="2.1" fill="#b56ad6" />
<circle cx="117.9" cy="416.2" r="2.1" fill="#b56ad6" />
<circle cx="149.3" cy="401.43" r="2.1" fill="#b56ad6" />
<circle cx="180.8" cy="387.71" r="2.1" fill="#b56ad6" />
<path d="M54.9,436.25L86.3,432.02L117.9,428.44L149.3,417.25L180.8,403.12" fill="none" stroke="#e0221e" stroke-width="1.5" />
<path d="M54.9,433.65V438.85M52.8,433.65h4.2M52.8,438.85h4.2M86.3,429.22V434.82M84.2,429.22h4.2M84.2,434.82h4.2M117.9,425.24V431.64M115.80000000000001,425.24h4.2M115.80000000000001,431.64h4.2M149.3,412.75V421.75M147.20000000000002,412.75h4.2M147.20000000000002,421.75h4.2M180.8,398.37V407.87M178.70000000000002,398.37h4.2M178.70000000000002,407.87h4.2" fill="none" stroke="#e0221e" stroke-width="1.4" />
<rect x="53.0" y="434.35" width="3.8" height="3.8" fill="#e0221e" stroke="none" stroke-width="1" />
<rect x="84.4" y="430.12" width="3.8" height="3.8" fill="#e0221e" stroke="none" stroke-width="1" />
<rect x="116.0" y="426.54" width="3.8" height="3.8" fill="#e0221e" stroke="none" stroke-width="1" />
<rect x="147.4" y="415.35" width="3.8" height="3.8" fill="#e0221e" stroke="none" stroke-width="1" />
<rect x="178.9" y="401.22" width="3.8" height="3.8" fill="#e0221e" stroke="none" stroke-width="1" />
<path d="M54.9,436.25L86.3,420.42L117.9,401.01L149.3,384.55L180.8,363.45" fill="none" stroke="#1a1fd0" stroke-width="1.5" />
<path d="M54.9,433.65V438.85M52.8,433.65h4.2M52.8,438.85h4.2M86.3,417.62V423.22M84.2,417.62h4.2M84.2,423.22h4.2M117.9,397.81V404.21M115.80000000000001,397.81h4.2M115.80000000000001,404.21h4.2M149.3,380.95V388.15M147.20000000000002,380.95h4.2M147.20000000000002,388.15h4.2M180.8,359.65V367.25M178.70000000000002,359.65h4.2M178.70000000000002,367.25h4.2" fill="none" stroke="#1a1fd0" stroke-width="1.4" />
<path d="M52.50,434.55L57.30,434.55L54.9,438.65Z" fill="#1a1fd0" stroke="none" stroke-width="1" />
<path d="M83.90,418.72L88.70,418.72L86.3,422.82Z" fill="#1a1fd0" stroke="none" stroke-width="1" />
<path d="M115.50,399.31L120.30,399.31L117.9,403.41Z" fill="#1a1fd0" stroke="none" stroke-width="1" />
<path d="M146.90,382.85L151.70,382.85L149.3,386.95Z" fill="#1a1fd0" stroke="none" stroke-width="1" />
<path d="M178.40,361.75L183.20,361.75L180.8,365.85Z" fill="#1a1fd0" stroke="none" stroke-width="1" />
<line x1="210.20000000000002" y1="351.7" x2="221.4" y2="351.7" stroke="#b56ad6" stroke-width="1.2" />
<circle cx="215.8" cy="351.7" r="2.1" fill="#b56ad6" />
<text x="227.3" y="355.2" font-size="9.6" text-anchor="start" font-weight="normal" fill="#161616"  stroke="#161616" stroke-width="0.36">NC mimic</text>
<line x1="210.20000000000002" y1="364.6" x2="221.4" y2="364.6" stroke="#e0221e" stroke-width="1.2" />
<rect x="213.9" y="362.7" width="3.8" height="3.8" fill="#e0221e" stroke="none" stroke-width="1" />
<text x="227.3" y="368.1" font-size="9.6" text-anchor="start" font-weight="normal" fill="#161616"  stroke="#161616" stroke-width="0.36">125b mimic</text>
<line x1="210.20000000000002" y1="378.1" x2="221.4" y2="378.1" stroke="#e9a13a" stroke-width="1.2" />
<path d="M213.40,379.80L218.20,379.80L215.8,375.70Z" fill="#e9a13a" stroke="none" stroke-width="1" />
<text x="227.3" y="381.6" font-size="9.6" text-anchor="start" font-weight="normal" fill="#161616"  stroke="#161616" stroke-width="0.36">NC inhibitor</text>
<line x1="210.20000000000002" y1="391.7" x2="221.4" y2="391.7" stroke="#1a1fd0" stroke-width="1.2" />
<path d="M213.40,390.00L218.20,390.00L215.8,394.10Z" fill="#1a1fd0" stroke="none" stroke-width="1" />
<text x="227.3" y="395.2" font-size="9.6" text-anchor="start" font-weight="normal" fill="#161616"  stroke="#161616" stroke-width="0.36">125b inhibitor</text>
<path d="M185.6,362.6H193.6V384.1H185.6" fill="none" stroke="#222" stroke-width="1.4" />
<text x="196.2" y="376.9" font-size="8" text-anchor="start" font-weight="bold" fill="#222"  stroke="#222" stroke-width="0.16">*</text>
<path d="M185.6,389H193.6V405.4H185.6" fill="none" stroke="#222" stroke-width="1.4" />
<text x="196.2" y="400.8" font-size="8" text-anchor="start" font-weight="bold" fill="#222"  stroke="#222" stroke-width="0.16">*</text>
<text x="111.1" y="483.7" font-size="13.05" text-anchor="middle" font-weight="normal" fill="#161616"  stroke="#161616" stroke-width="0.50">Time after transfection (h)</text>
<text x="26.68" y="403.0" font-size="13" text-anchor="middle" font-weight="normal" fill="#161616" transform="rotate(-90 26.68 403.0)"  stroke="#161616" stroke-width="0.49">Relative cell number</text>
<text x="288.3" y="184.8" font-size="22" text-anchor="start" font-weight="bold" fill="#000"  stroke="#000" stroke-width="0.44">E</text>
<rect x="313.8" y="171.6" width="211.6" height="18.1" fill="#050505" stroke="none" stroke-width="1" />
<text x="340" y="185.4" font-size="13.1" text-anchor="middle" font-weight="normal" fill="#df4032"  stroke="#df4032" stroke-width="0.50">Edu</text>
<text x="425.3" y="185.4" font-size="13.1" text-anchor="middle" font-weight="normal" fill="#2528c8"  stroke="#2528c8" stroke-width="0.50">DAPI</text>
<text x="500.5" y="185.6" font-size="13" text-anchor="middle" font-weight="bold" fill="#e022c4"  stroke="#e022c4" stroke-width="0.26">Merge</text>
<defs><filter id="bl" x="-5%" y="-5%" width="110%" height="110%"><feGaussianBlur stdDeviation="0.45"/></filter><radialGradient id="bg2" cx="0.55" cy="0.5" r="0.75"><stop offset="0" stop-color="#0b0b42" stop-opacity="0.95"/><stop offset="0.6" stop-color="#0a0a3c" stop-opacity="0.7"/><stop offset="1" stop-color="#050520" stop-opacity="0.2"/></radialGradient><filter id="bl4" x="-50%" y="-50%" width="200%" height="200%"><feGaussianBlur stdDeviation="1.6"/></filter></defs>
<rect x="302.9" y="191.8" width="74.4" height="55.2" fill="#070305" stroke="none" stroke-width="1" />
<g filter="url(#bl)">
<path d="M327.5,201.2h0M350.9,197.1h0M342.7,212.4h0M308.5,219.8h0M307.1,215.9h0M309.4,198.0h0M334.7,236.5h0M313.2,205.0h0M349.2,242.8h0M345.6,214.0h0M374.1,195.7h0M365.7,208.4h0M314.7,199.4h0M326.4,235.9h0M317.3,223.7h0M350.0,212.7h0M343.5,196.6h0M308.7,204.1h0M353.0,215.6h0M326.8,223.9h0M336.8,208.9h0M361.1,229.8h0M321.8,223.3h0M341.9,239.0h0M356.5,208.3h0M374.4,199.5h0M334.3,232.8h0M315.3,218.8h0M307.2,228.2h0M359.0,223.2h0M366.9,209.7h0M354.0,224.3h0M345.8,217.1h0M364.4,242.6h0M338.3,228.0h0M308.7,229.9h0M350.6,245.1h0M363.1,208.2h0M331.9,228.2h0M306.0,217.4h0M316.4,199.4h0M308.6,233.4h0M313.6,206.2h0M332.3,238.8h0M310.2,216.7h0M343.6,239.4h0M362.9,238.4h0M324.3,215.0h0M330.0,239.5h0M372.8,201.2h0M317.0,205.4h0M321.1,218.6h0M346.5,207.0h0M304.7,215.2h0M330.8,222.9h0M372.5,229.3h0M341.2,225.5h0M352.7,196.1h0M368.6,234.0h0M366.8,234.9h0M332.4,214.1h0M311.8,226.4h0M308.8,196.8h0M319.3,201.8h0M328.7,196.0h0M304.4,201.2h0M311.6,212.3h0M306.2,238.9h0M348.2,201.1h0M322.4,211.4h0M330.4,199.7h0M365.0,245.1h0M337.7,218.6h0M310.5,198.6h0M328.9,207.1h0M363.6,201.7h0M306.0,242.9h0M342.1,201.0h0M343.2,194.7h0M342.1,244.4h0M366.0,229.6h0M323.0,212.4h0M316.3,233.6h0M342.4,234.0h0M327.9,204.9h0M362.3,244.7h0M365.3,235.4h0M362.8,231.9h0M320.6,220.3h0M329.8,194.8h0M306.4,207.9h0M322.9,229.4h0M372.7,216.6h0M371.3,244.9h0M372.6,212.3h0M320.1,205.1h0M318.4,204.0h0M349.0,240.3h0M364.4,218.3h0M351.0,235.0h0M310.5,227.8h0M369.4,234.1h0M358.0,218.3h0M317.1,234.5h0M328.1,235.1h0M373.8,214.0h0M333.1,242.7h0M356.2,202.2h0M313.5,201.2h0M369.0,235.4h0M314.8,236.4h0M374.4,227.6h0M329.4,221.9h0M313.8,194.0h0M373.7,227.2h0M342.0,242.0h0M335.4,238.8h0M363.4,204.3h0M322.4,208.6h0M321.6,223.9h0M322.9,215.2h0M313.8,240.8h0M329.7,217.2h0M346.1,240.5h0M334.4,241.2h0M340.2,221.1h0M341.8,194.3h0M335.8,202.9h0M304.7,235.0h0M316.7,218.0h0" stroke="#330b0d" stroke-width="1.3" stroke-linecap="square" fill="none"/>
<path d="M356.2,222.3h0M327.7,220.4h0M344.1,234.2h0M312.0,222.5h0M322.1,207.8h0M359.5,219.8h0M344.5,233.0h0M369.6,216.4h0M348.1,219.7h0M341.0,229.5h0M336.7,221.1h0M338.5,242.4h0M354.3,239.1h0M371.7,206.9h0M344.3,242.5h0M364.4,200.5h0M313.1,216.4h0M309.6,205.9h0M309.6,228.2h0M360.4,240.1h0M315.4,230.7h0M351.5,200.8h0M367.4,243.8h0M320.1,243.0h0M332.8,218.7h0M375.1,236.8h0M315.9,215.8h0M341.2,211.0h0M318.4,209.9h0M356.0,194.3h0M344.0,216.3h0M305.7,210.6h0M348.9,220.0h0M309.0,244.7h0M360.7,244.0h0M311.9,207.2h0M307.2,234.0h0M323.7,200.1h0M334.5,240.9h0M362.9,206.8h0M315.1,241.3h0M345.1,229.9h0M310.8,196.3h0M353.5,215.5h0M309.6,242.3h0M349.7,235.1h0M310.4,238.0h0M309.2,238.3h0M336.8,211.0h0M343.9,241.7h0" stroke="#5e1517" stroke-width="1.2" stroke-linecap="square" fill="none"/>
</g>
<rect x="356.3" y="231.7" width="11.3" height="1.8" fill="#f2f2f2" stroke="none" stroke-width="1" />
<text x="374.9" y="243.7" font-size="10.1" text-anchor="end" font-weight="normal" fill="#f4f4f4" stroke="#f4f4f4" stroke-width="0.45">200 μm</text>
<rect x="382.9" y="191.8" width="74.4" height="55.2" fill="#05051b" stroke="none" stroke-width="1" />
<rect x="382.9" y="191.8" width="74.4" height="55.2" fill="url(#bg2)" stroke="none" stroke-width="1" opacity="0.5"/>
<g filter="url(#bl)">
<path d="M403.5,200.0h0M422.0,205.7h0M392.2,201.7h0M388.0,203.8h0M406.7,209.2h0M438.6,208.4h0M420.1,202.6h0M409.2,194.2h0M402.3,194.1h0M436.7,222.1h0M397.9,218.1h0M451.1,198.8h0M442.9,215.9h0M419.7,236.9h0M412.5,219.7h0M433.5,244.6h0M408.9,236.7h0M434.9,226.5h0M413.3,211.4h0M388.3,200.1h0M389.4,232.0h0M402.6,201.8h0M390.4,237.2h0M446.6,228.3h0M404.5,205.9h0M405.3,217.3h0M395.6,216.6h0M403.2,243.5h0M453.8,221.9h0M401.9,243.7h0M406.5,211.9h0M384.5,213.2h0M418.3,219.5h0M398.7,219.6h0M384.8,207.1h0M390.8,214.2h0M387.4,194.5h0M406.1,205.5h0M426.2,220.9h0M438.0,227.6h0M435.5,239.2h0M412.2,210.3h0M454.7,201.1h0M436.1,226.9h0M387.5,236.9h0M448.1,226.0h0M436.8,235.7h0M394.3,220.6h0M420.4,236.9h0M441.9,236.4h0M426.1,239.9h0M433.2,229.5h0M400.8,194.9h0M393.9,212.1h0M391.9,236.9h0M424.3,226.1h0M429.1,228.8h0M419.3,193.5h0M441.4,232.4h0M420.3,221.2h0M431.5,196.7h0M437.0,206.5h0M389.7,207.2h0M436.5,204.0h0M437.2,244.2h0M419.7,213.3h0M418.6,229.0h0M439.2,225.5h0M430.3,197.3h0M394.9,206.6h0M437.5,209.2h0M424.9,194.0h0M388.7,207.3h0M432.4,229.4h0M432.6,208.5h0M421.3,217.6h0M417.7,199.5h0M448.2,203.7h0M454.2,242.2h0M385.6,217.3h0M442.9,243.8h0M416.5,207.3h0M399.4,242.7h0M399.4,223.7h0M394.5,220.7h0M452.4,200.2h0M443.0,219.9h0M447.7,230.0h0M400.9,240.2h0M419.1,194.6h0M384.7,219.0h0M416.6,209.1h0M394.4,211.3h0M407.0,237.2h0M384.5,232.5h0M444.3,199.6h0M450.5,230.5h0M448.8,208.4h0M411.0,213.8h0M455.7,224.1h0M410.2,215.6h0M404.0,195.8h0M391.7,236.9h0M404.8,242.1h0M402.2,207.2h0M420.9,203.2h0M411.1,243.2h0M447.5,235.7h0M429.4,241.0h0M451.6,222.0h0" stroke="#101048" stroke-width="1.5" stroke-linecap="square" fill="none"/>
<path d="M435.8,195.9h0M436.7,216.8h0M438.1,226.9h0M404.8,195.9h0M450.6,199.9h0M418.1,211.2h0M405.7,231.9h0M454.1,206.9h0M431.2,209.0h0M424.2,213.9h0M396.3,201.7h0M399.2,240.6h0M419.9,204.8h0M449.1,245.3h0M416.5,200.6h0M398.1,198.0h0M408.8,198.1h0M401.5,206.8h0M425.1,239.6h0M437.9,214.8h0M414.0,220.7h0M411.3,211.0h0M388.8,207.8h0M453.5,199.9h0M420.3,226.2h0M446.0,204.6h0M403.8,206.3h0M412.9,216.6h0M452.5,237.6h0M446.7,194.4h0M386.7,230.3h0M448.4,218.0h0M426.3,193.3h0M412.4,241.7h0M443.3,238.0h0M453.8,206.3h0M392.2,201.4h0M421.7,228.9h0M451.6,231.0h0M430.6,233.2h0" stroke="#030314" stroke-width="1.6" stroke-linecap="square" fill="none"/>
</g>
<ellipse cx="391.9" cy="241.0" rx="4" ry="3.5" fill="#1c1c90" opacity="0.55" filter="url(#bl4)"/>
<rect x="436.3" y="231.7" width="11.3" height="1.8" fill="#f2f2f2" stroke="none" stroke-width="1" />
<text x="454.9" y="243.7" font-size="10.1" text-anchor="end" font-weight="normal" fill="#f4f4f4" stroke="#f4f4f4" stroke-width="0.45">200 μm</text>
<rect x="462.4" y="191.8" width="74.3" height="55.2" fill="#06061d" stroke="none" stroke-width="1" />
<rect x="462.4" y="191.8" width="74.3" height="55.2" fill="url(#bg2)" stroke="none" stroke-width="1" opacity="0.5"/>
<g filter="url(#bl)">
<path d="M496.5,222.1h0M466.7,234.1h0M480.5,241.3h0M509.9,209.2h0M473.0,206.4h0M509.3,229.8h0M471.9,197.0h0M501.3,223.7h0M491.6,205.0h0M506.8,193.8h0M485.4,217.3h0M532.3,226.9h0M526.9,218.1h0M480.6,206.2h0M532.4,230.1h0M485.8,194.4h0M499.4,228.5h0M493.8,206.7h0M511.5,241.6h0M480.1,195.1h0M488.0,215.3h0M512.6,203.6h0M520.7,231.9h0M499.9,204.0h0M533.1,209.6h0M522.4,205.3h0M479.7,233.0h0M484.9,243.0h0M499.2,203.1h0M479.8,215.1h0M511.3,242.8h0M474.3,213.8h0M479.1,244.1h0M474.0,196.0h0M468.2,213.8h0M527.9,239.4h0M516.1,245.4h0M530.3,210.5h0M477.1,242.2h0M517.1,195.0h0M511.3,213.1h0M490.6,210.6h0M476.0,193.4h0M483.9,211.6h0M532.0,199.8h0M532.7,204.1h0M489.3,236.2h0M522.5,215.9h0M467.4,218.0h0M490.5,241.3h0M477.7,212.3h0M527.9,194.9h0M493.2,235.7h0M518.6,195.4h0M466.4,196.6h0M529.5,206.7h0M517.2,240.2h0M488.1,207.5h0M532.2,225.5h0M482.6,230.7h0M486.5,207.7h0M464.2,232.7h0M529.2,226.4h0M531.2,194.6h0M480.6,218.1h0M532.1,243.1h0M491.5,206.4h0M494.6,219.1h0M530.1,202.8h0M521.1,231.8h0M522.6,233.6h0M507.2,210.4h0M486.7,212.2h0M519.7,197.4h0M478.0,232.6h0M481.5,196.7h0M466.3,222.1h0M487.1,244.5h0M526.9,244.9h0M482.8,197.7h0M470.8,219.3h0M514.5,216.6h0M480.6,215.1h0M508.1,228.5h0M517.2,237.5h0M511.3,199.6h0M523.9,208.6h0M504.3,212.8h0M516.5,203.7h0M481.5,206.1h0" stroke="#101048" stroke-width="1.5" stroke-linecap="square" fill="none"/>
<path d="M474.8,239.5h0M505.1,210.3h0M492.1,245.1h0M500.1,205.4h0M521.5,227.4h0M534.6,198.6h0M497.8,236.1h0M523.8,241.0h0M466.8,208.6h0M472.4,203.2h0M533.3,223.7h0M530.2,212.7h0M525.7,216.7h0M482.4,233.9h0M531.3,198.8h0M506.4,225.7h0M479.4,212.5h0M474.0,203.9h0M482.1,224.6h0M510.4,203.9h0M464.7,210.4h0M512.3,203.0h0M486.2,203.9h0M520.6,221.9h0M468.4,198.6h0M492.1,222.0h0M509.5,198.1h0M475.6,229.6h0M493.1,208.1h0M485.8,243.1h0M486.2,222.9h0M489.4,215.0h0M525.5,245.3h0M489.8,203.6h0M515.8,203.9h0" stroke="#030314" stroke-width="1.6" stroke-linecap="square" fill="none"/>
<path d="M464.3,240.4h0M494.1,236.1h0M492.9,239.4h0M496.8,201.8h0M465.0,222.1h0M509.6,240.8h0M470.2,225.8h0M490.3,219.6h0M474.3,208.1h0M501.1,241.6h0M471.7,218.9h0M521.3,243.8h0M478.0,199.9h0M531.1,244.2h0M498.3,196.1h0M529.9,213.5h0M528.4,225.7h0M522.7,201.7h0M519.9,204.9h0M492.7,237.5h0M523.0,202.9h0M479.5,214.2h0M500.8,213.3h0M472.7,206.2h0M515.6,240.1h0M466.8,222.7h0M517.9,195.3h0M523.7,199.4h0M506.6,222.0h0M508.6,209.3h0M493.9,223.7h0M494.3,227.7h0M495.8,216.2h0M465.6,225.6h0M498.8,205.6h0M518.3,234.0h0M496.6,202.7h0M497.6,198.9h0M473.1,215.8h0M470.4,216.4h0M500.3,195.4h0M509.3,197.6h0M516.2,233.9h0M500.4,196.1h0M499.8,213.0h0M531.7,200.4h0M525.0,245.3h0M516.1,235.8h0M477.7,244.5h0M499.0,243.2h0M529.2,201.9h0M520.1,241.9h0M468.6,211.6h0M517.8,201.6h0M527.8,207.7h0M522.1,200.8h0M499.7,241.3h0M478.8,207.0h0M500.0,210.0h0M466.5,202.8h0M475.4,242.2h0M512.4,240.0h0M475.9,234.3h0M472.1,221.0h0M509.3,212.1h0M526.1,222.3h0M505.3,239.4h0M471.4,245.1h0M508.8,213.9h0M520.8,207.1h0M534.5,223.4h0M489.6,233.2h0M495.4,202.5h0M516.9,195.8h0M522.4,206.5h0M509.5,244.7h0M505.7,227.9h0M486.2,193.4h0M466.3,201.1h0M507.8,215.9h0M500.5,240.0h0M473.3,205.2h0M510.5,194.5h0M464.1,211.8h0M471.5,211.9h0" stroke="#7a2456" stroke-width="1.3" stroke-linecap="square" fill="none"/>
<path d="M479.9,223.8h0M505.9,204.0h0M508.4,218.1h0M473.5,242.2h0M481.3,201.1h0M470.7,226.6h0M526.0,234.1h0M492.6,207.1h0M464.7,227.0h0M504.0,211.6h0M509.9,216.5h0M530.7,231.6h0M481.6,240.5h0M467.0,221.0h0M492.8,205.7h0M468.1,234.0h0M464.8,222.1h0M531.0,200.7h0M478.1,225.0h0M500.0,226.8h0M521.9,202.4h0M486.0,209.0h0M467.4,239.7h0M519.7,230.6h0M464.4,237.4h0M517.0,217.6h0M516.8,216.9h0M480.0,198.8h0M480.5,195.3h0M487.8,232.4h0M513.5,237.4h0M514.6,207.2h0M503.4,216.1h0M520.1,220.6h0M482.8,226.8h0M532.7,204.6h0M526.6,194.1h0M482.5,205.6h0M516.9,242.6h0M517.1,210.4h0M526.7,210.5h0M481.0,240.7h0M508.9,229.5h0M511.3,244.4h0M497.4,237.1h0" stroke="#b44062" stroke-width="1.2" stroke-linecap="square" fill="none"/>
</g>
<ellipse cx="471.4" cy="241.0" rx="4" ry="3.5" fill="#1c1c90" opacity="0.55" filter="url(#bl4)"/>
<rect x="515.7" y="231.7" width="11.3" height="1.8" fill="#f2f2f2" stroke="none" stroke-width="1" />
<text x="534.3" y="243.7" font-size="10.1" text-anchor="end" font-weight="normal" fill="#f4f4f4" stroke="#f4f4f4" stroke-width="0.45">200 μm</text>
<text x="300.4" y="222.4" font-size="9.45" text-anchor="middle" font-weight="normal" fill="#161616" transform="rotate(-90 300.4 222.4)"  stroke="#161616" stroke-width="0.36">NC mimic</text>
<rect x="302.9" y="252.1" width="74.4" height="55.4" fill="#070305" stroke="none" stroke-width="1" />
<g filter="url(#bl)">
<path d="M354.2,298.5h0M335.6,291.6h0M345.1,269.7h0M319.5,286.2h0M310.0,301.3h0M314.7,255.0h0M312.0,302.3h0M329.0,261.0h0M306.5,255.8h0M353.9,286.8h0M354.2,292.2h0M309.1,284.5h0M330.3,296.4h0M362.9,300.3h0M309.1,299.1h0M369.7,303.1h0M312.0,264.4h0M312.4,255.4h0M364.9,296.1h0M349.7,296.8h0M349.5,268.7h0M311.5,258.7h0M358.5,264.3h0M327.2,275.8h0M305.9,267.1h0M324.6,291.1h0M330.7,270.4h0M373.2,280.0h0M365.2,286.0h0M306.6,275.2h0M335.6,294.1h0M329.2,290.5h0M342.8,264.9h0M366.0,258.4h0M362.9,262.5h0M304.5,264.2h0M358.8,304.8h0M304.7,279.3h0M339.5,295.4h0M317.6,279.5h0M329.2,297.2h0M323.0,303.1h0M324.7,264.9h0M354.3,279.7h0M312.2,287.0h0" stroke="#330b0d" stroke-width="1.3" stroke-linecap="square" fill="none"/>
<path d="M310.2,294.9h0M354.2,294.8h0M349.2,272.2h0M333.1,274.3h0M368.0,258.1h0M367.8,254.9h0M319.1,267.4h0M368.7,279.9h0M331.5,299.9h0M321.1,277.8h0M342.4,293.1h0M358.2,287.5h0M329.3,270.7h0M315.5,297.8h0M351.7,292.5h0M316.5,276.6h0M359.6,283.9h0" stroke="#5e1517" stroke-width="1.2" stroke-linecap="square" fill="none"/>
</g>
<rect x="356.3" y="292.2" width="11.3" height="1.8" fill="#f2f2f2" stroke="none" stroke-width="1" />
<text x="374.9" y="304.2" font-size="10.1" text-anchor="end" font-weight="normal" fill="#f4f4f4" stroke="#f4f4f4" stroke-width="0.45">200 μm</text>
<rect x="382.9" y="252.1" width="74.4" height="55.4" fill="#05051b" stroke="none" stroke-width="1" />
<rect x="382.9" y="252.1" width="74.4" height="55.4" fill="url(#bg2)" stroke="none" stroke-width="1" opacity="0.22"/>
<g filter="url(#bl)">
<path d="M393.4,277.8h0M447.6,266.1h0M398.1,269.4h0M434.6,297.8h0M395.4,261.8h0M402.1,270.7h0M421.7,262.0h0M407.8,263.5h0M454.0,291.8h0M391.7,304.0h0M391.7,273.7h0M454.6,295.3h0M436.8,276.4h0M398.4,287.0h0M392.0,264.4h0M412.1,255.4h0M412.9,295.0h0M433.9,279.8h0M429.6,277.9h0M394.5,285.2h0M413.3,292.4h0M449.2,276.1h0M425.4,292.9h0M414.5,265.6h0M436.0,299.7h0M439.7,290.3h0M445.3,289.2h0M430.2,277.4h0M406.7,286.5h0M391.4,275.6h0M440.3,291.0h0M429.4,266.7h0M414.6,277.5h0M428.8,275.0h0M432.6,302.3h0M397.5,287.9h0M440.0,274.0h0M419.4,304.7h0M387.1,282.1h0M395.9,294.6h0M451.6,280.8h0M391.6,283.7h0M423.0,291.2h0M421.0,287.1h0M443.6,280.9h0M413.7,303.3h0M399.4,289.5h0M412.4,293.6h0M393.1,305.2h0M409.8,256.6h0M404.0,274.5h0M385.4,275.5h0M414.4,290.2h0M409.5,267.5h0M400.4,292.5h0M451.5,281.2h0M400.0,295.6h0M412.4,264.7h0M393.6,294.3h0M442.2,286.8h0M417.9,283.1h0M400.5,304.1h0M409.6,287.1h0M442.9,296.4h0M417.8,269.0h0M423.5,260.2h0M443.9,272.2h0M445.1,267.6h0M411.3,266.9h0M414.8,263.3h0M384.6,291.4h0M404.5,266.4h0M405.9,278.7h0M415.0,287.0h0M431.5,272.6h0M450.7,298.4h0M388.5,297.0h0M449.1,294.7h0M394.4,297.2h0M429.6,254.4h0M385.2,303.5h0" stroke="#0c0c3a" stroke-width="1.5" stroke-linecap="square" fill="none"/>
<path d="M431.2,266.7h0M391.6,261.1h0M401.1,294.3h0M409.1,261.6h0M449.0,295.1h0M396.4,300.3h0M427.8,294.5h0M432.1,300.4h0M440.7,297.6h0M398.5,289.9h0M422.3,292.5h0M415.7,299.9h0M424.0,267.5h0M401.1,260.9h0M419.6,256.7h0M417.8,261.2h0M419.5,279.7h0M422.9,298.8h0M384.9,297.7h0M417.8,283.1h0M431.9,297.6h0M411.2,275.5h0M453.0,257.6h0M429.9,286.9h0M386.4,285.5h0M433.1,302.4h0M408.0,305.0h0M420.9,279.0h0M448.5,255.4h0" stroke="#030314" stroke-width="1.6" stroke-linecap="square" fill="none"/>
</g>
<ellipse cx="403.9" cy="289.5" rx="4" ry="3.5" fill="#1c1c90" opacity="0.55" filter="url(#bl4)"/>
<rect x="436.3" y="292.2" width="11.3" height="1.8" fill="#f2f2f2" stroke="none" stroke-width="1" />
<text x="454.9" y="304.2" font-size="10.1" text-anchor="end" font-weight="normal" fill="#f4f4f4" stroke="#f4f4f4" stroke-width="0.45">200 μm</text>
<rect x="462.4" y="252.1" width="74.3" height="55.4" fill="#06061d" stroke="none" stroke-width="1" />
<rect x="462.4" y="252.1" width="74.3" height="55.4" fill="url(#bg2)" stroke="none" stroke-width="1" opacity="0.22"/>
<g filter="url(#bl)">
<path d="M515.1,286.4h0M488.0,298.8h0M490.0,278.5h0M501.4,294.0h0M478.9,276.4h0M494.0,282.6h0M522.8,268.9h0M522.9,274.8h0M499.8,267.8h0M500.0,304.7h0M510.6,295.1h0M487.5,270.2h0M485.2,284.3h0M509.2,294.7h0M466.8,291.5h0M527.0,282.2h0M467.4,269.3h0M464.3,263.6h0M529.6,285.5h0M510.8,294.9h0M528.8,285.7h0M507.9,286.4h0M513.6,284.8h0M512.5,264.7h0M511.5,277.6h0M518.3,258.9h0M476.8,255.5h0M519.1,301.5h0M510.7,272.9h0M522.6,294.8h0M504.0,267.1h0M485.4,275.7h0M486.6,276.2h0M509.7,302.5h0M467.8,283.3h0M466.7,259.8h0M521.7,283.7h0M529.4,277.0h0M464.9,273.9h0M506.1,302.7h0M533.8,278.5h0M493.3,258.9h0M509.9,264.7h0M474.7,254.4h0M464.2,289.4h0M472.6,304.2h0M470.2,299.2h0M473.1,254.5h0M515.2,266.3h0M516.2,263.4h0M467.5,294.2h0M514.8,298.4h0M515.9,258.0h0M508.7,290.8h0M496.7,302.5h0M482.0,304.1h0M515.0,254.2h0M465.0,287.7h0M522.2,257.8h0M486.1,291.8h0M475.7,298.7h0M498.6,256.7h0M490.1,283.7h0M495.2,289.1h0M474.2,295.4h0M489.8,287.4h0" stroke="#0c0c3a" stroke-width="1.5" stroke-linecap="square" fill="none"/>
<path d="M508.8,275.5h0M491.4,294.8h0M531.3,294.7h0M504.3,268.9h0M468.2,304.6h0M514.0,297.0h0M487.6,285.3h0M533.6,297.2h0M506.8,269.8h0M494.5,300.1h0M490.8,289.5h0M506.8,300.6h0M521.5,268.4h0M464.0,267.4h0M494.0,284.3h0M522.1,300.1h0M466.9,297.3h0M521.8,299.0h0M504.7,267.9h0M524.6,295.9h0M512.7,301.5h0M488.6,258.1h0M503.4,295.4h0M478.2,292.9h0M530.3,265.9h0" stroke="#030314" stroke-width="1.6" stroke-linecap="square" fill="none"/>
<path d="M507.2,289.1h0M497.1,264.4h0M482.1,293.0h0M520.3,277.7h0M470.2,295.9h0M519.0,265.8h0M505.2,300.6h0M527.0,280.9h0M497.9,284.5h0M477.4,263.7h0M476.8,290.3h0M489.8,283.2h0M492.6,280.7h0M474.5,255.9h0M535.0,273.2h0M471.5,286.8h0M520.0,261.8h0M506.5,271.7h0M500.9,254.7h0M466.3,305.5h0M525.7,279.1h0M504.3,267.3h0M519.5,275.9h0M531.4,293.8h0M522.3,304.1h0M482.0,255.6h0M478.2,263.1h0M469.9,256.3h0M503.6,299.2h0" stroke="#7a2456" stroke-width="1.3" stroke-linecap="square" fill="none"/>
<path d="M496.6,303.2h0M528.8,257.0h0M506.5,274.4h0M472.5,303.9h0M482.2,283.2h0M509.6,303.7h0M511.7,274.2h0M495.9,262.0h0M532.8,305.6h0M479.7,255.6h0M482.1,272.0h0M528.3,301.0h0M523.6,256.1h0M520.0,290.8h0M510.0,305.2h0" stroke="#b44062" stroke-width="1.2" stroke-linecap="square" fill="none"/>
</g>
<ellipse cx="483.4" cy="289.5" rx="4" ry="3.5" fill="#1c1c90" opacity="0.55" filter="url(#bl4)"/>
<rect x="515.7" y="292.2" width="11.3" height="1.8" fill="#f2f2f2" stroke="none" stroke-width="1" />
<text x="534.3" y="304.2" font-size="10.1" text-anchor="end" font-weight="normal" fill="#f4f4f4" stroke="#f4f4f4" stroke-width="0.45">200 μm</text>
<text x="300.4" y="282.2" font-size="9.45" text-anchor="middle" font-weight="normal" fill="#161616" transform="rotate(-90 300.4 282.2)"  stroke="#161616" stroke-width="0.36">125a mimic</text>
<rect x="302.9" y="312.7" width="74.4" height="55.3" fill="#070305" stroke="none" stroke-width="1" />
<g filter="url(#bl)">
<path d="M308.4,321.8h0M358.3,363.3h0M352.7,329.8h0M346.6,353.8h0M311.9,331.1h0M322.8,320.7h0M338.8,323.0h0M321.4,321.7h0M352.8,314.9h0M355.6,324.4h0M307.0,362.7h0M320.1,363.0h0M366.3,360.7h0M314.4,337.6h0M311.3,362.8h0M364.5,347.1h0M336.7,332.0h0M363.2,339.2h0M349.3,321.7h0M320.2,317.2h0M355.4,343.1h0M314.7,359.7h0M323.4,335.7h0M315.5,328.4h0M364.3,331.7h0M316.4,339.9h0M327.1,361.4h0M312.6,365.4h0M308.5,361.0h0M352.1,325.2h0M338.5,329.2h0M322.8,324.7h0M330.4,366.0h0M375.7,362.6h0M311.4,329.3h0M368.4,317.2h0M356.3,329.6h0M374.3,315.0h0M362.0,332.0h0M314.4,314.3h0M363.8,341.7h0M317.7,337.0h0M369.5,325.6h0M345.2,321.4h0M317.3,354.5h0M355.2,324.5h0M310.1,318.8h0M347.9,340.1h0M324.0,325.0h0M348.1,351.2h0M362.3,344.7h0M318.8,317.6h0" stroke="#330b0d" stroke-width="1.3" stroke-linecap="square" fill="none"/>
<path d="M356.7,335.5h0M355.9,317.1h0M362.3,331.7h0M364.5,359.4h0M339.6,315.0h0M369.4,339.1h0M366.7,328.1h0M317.7,357.7h0M330.6,322.8h0M330.9,345.3h0M304.7,341.4h0M336.2,341.2h0M313.0,351.6h0M362.7,359.5h0M327.3,351.4h0M331.6,353.5h0M308.8,359.8h0M372.5,340.1h0M341.1,341.9h0M342.8,315.3h0" stroke="#5e1517" stroke-width="1.2" stroke-linecap="square" fill="none"/>
</g>
<rect x="356.3" y="352.7" width="11.3" height="1.8" fill="#f2f2f2" stroke="none" stroke-width="1" />
<text x="374.9" y="364.7" font-size="10.1" text-anchor="end" font-weight="normal" fill="#f4f4f4" stroke="#f4f4f4" stroke-width="0.45">200 μm</text>
<rect x="382.9" y="312.7" width="74.4" height="55.3" fill="#05051b" stroke="none" stroke-width="1" />
<rect x="382.9" y="312.7" width="74.4" height="55.3" fill="url(#bg2)" stroke="none" stroke-width="1" opacity="0.12"/>
<g filter="url(#bl)">
<path d="M453.5,325.9h0M397.4,319.6h0M402.3,356.9h0M386.5,319.2h0M434.3,324.4h0M385.7,345.5h0M425.6,341.5h0M434.6,319.6h0M446.5,351.7h0M387.6,320.6h0M419.6,340.4h0M404.4,320.6h0M413.4,321.4h0M426.7,359.2h0M394.9,344.2h0M437.7,322.8h0M443.4,363.2h0M412.2,336.2h0M444.4,341.7h0M412.6,363.4h0M439.9,331.9h0M401.6,331.7h0M415.5,365.5h0M441.8,361.9h0M442.6,358.5h0M388.2,341.3h0M452.8,363.1h0M402.2,336.3h0M429.6,333.3h0M422.3,317.8h0M415.3,340.6h0M385.9,321.5h0M453.6,354.8h0M451.3,347.3h0M442.2,360.5h0M447.6,316.0h0M430.2,328.1h0M432.8,328.5h0M423.1,362.5h0M428.8,327.3h0M421.5,336.9h0M452.3,329.2h0M406.2,348.1h0M393.0,345.3h0M452.7,341.1h0M403.6,338.6h0M422.5,322.0h0M393.2,321.1h0M405.4,335.5h0M405.0,326.9h0M390.7,342.8h0M444.4,346.1h0M425.1,348.2h0M398.8,351.4h0M417.3,342.9h0M428.2,338.7h0M406.6,326.9h0M400.2,341.0h0M411.8,344.8h0M385.2,332.6h0M445.9,326.7h0M424.1,339.9h0M404.7,365.8h0M405.5,354.6h0M395.7,317.7h0M446.6,337.2h0M388.8,334.5h0M415.8,352.7h0M392.2,326.0h0M452.9,352.8h0M395.4,331.8h0M409.6,349.5h0M428.4,358.7h0M443.0,341.3h0M437.1,353.1h0M438.6,339.1h0M440.4,351.3h0M449.7,320.9h0M446.6,314.4h0M439.1,344.8h0M419.9,364.6h0M425.2,336.1h0M440.4,359.8h0" stroke="#0a0a30" stroke-width="1.5" stroke-linecap="square" fill="none"/>
<path d="M427.8,334.1h0M416.7,338.1h0M436.0,329.5h0M412.3,343.2h0M411.9,331.0h0M440.6,358.6h0M420.1,337.4h0M397.6,330.1h0M394.8,344.3h0M425.9,318.8h0M450.1,331.1h0M444.6,358.0h0M452.9,324.9h0M414.8,361.8h0M385.2,316.7h0M424.7,340.2h0M450.1,354.7h0M422.8,366.4h0M421.3,341.3h0M433.3,334.6h0M409.9,345.3h0M409.5,363.8h0M432.7,341.7h0M391.5,333.8h0M413.0,343.6h0M425.4,360.2h0M453.3,339.7h0M415.8,346.9h0M455.5,332.2h0M422.3,356.9h0" stroke="#030314" stroke-width="1.6" stroke-linecap="square" fill="none"/>
</g>
<rect x="436.3" y="352.7" width="11.3" height="1.8" fill="#f2f2f2" stroke="none" stroke-width="1" />
<text x="454.9" y="364.7" font-size="10.1" text-anchor="end" font-weight="normal" fill="#f4f4f4" stroke="#f4f4f4" stroke-width="0.45">200 μm</text>
<rect x="462.4" y="312.7" width="74.3" height="55.3" fill="#06061d" stroke="none" stroke-width="1" />
<rect x="462.4" y="312.7" width="74.3" height="55.3" fill="url(#bg2)" stroke="none" stroke-width="1" opacity="0.12"/>
<g filter="url(#bl)">
<path d="M476.1,330.8h0M533.7,357.4h0M500.4,320.0h0M527.7,350.3h0M522.4,366.0h0M527.2,336.2h0M475.1,329.4h0M500.4,340.6h0M477.3,323.7h0M508.8,345.7h0M489.1,366.2h0M509.3,316.4h0M493.2,355.4h0M485.8,350.3h0M464.2,330.1h0M523.9,344.9h0M511.5,324.5h0M499.4,343.1h0M482.9,348.0h0M501.8,366.3h0M504.9,335.7h0M472.6,322.4h0M518.1,319.8h0M471.0,323.1h0M501.2,357.3h0M507.6,356.4h0M468.3,314.9h0M518.8,331.1h0M514.9,332.7h0M476.0,328.1h0M471.0,361.5h0M505.4,332.4h0M496.0,334.4h0M467.8,360.8h0M505.4,364.4h0M495.2,346.6h0M481.7,316.5h0M530.3,358.9h0M486.3,361.2h0M522.1,330.1h0M506.9,364.4h0M499.2,363.9h0M481.2,334.6h0M515.1,325.8h0M485.9,360.0h0M498.4,355.7h0M481.3,323.3h0M489.5,324.0h0M533.2,329.4h0M503.9,320.2h0M502.0,334.4h0M492.6,317.6h0M472.7,357.4h0M488.9,327.0h0M477.5,329.0h0M480.8,316.0h0M511.3,332.1h0M475.0,351.1h0M470.5,328.3h0M523.4,320.9h0M495.5,357.9h0M521.3,322.5h0M489.1,352.0h0M490.8,364.3h0M478.7,363.9h0M499.9,326.1h0M496.2,321.0h0M514.3,327.8h0" stroke="#0a0a30" stroke-width="1.5" stroke-linecap="square" fill="none"/>
<path d="M528.0,344.9h0M490.1,327.1h0M507.3,325.3h0M526.1,320.6h0M500.5,342.6h0M483.2,354.6h0M491.3,348.6h0M504.4,330.5h0M491.7,318.7h0M476.5,358.7h0M486.8,348.9h0M471.7,343.6h0M489.7,340.4h0M485.1,317.6h0M486.1,326.0h0M472.9,351.7h0M484.0,335.3h0M528.7,354.7h0M526.8,359.2h0M473.3,328.7h0M466.0,349.7h0M511.2,332.6h0M493.3,348.7h0M513.8,327.2h0M524.3,332.6h0M508.7,323.7h0" stroke="#030314" stroke-width="1.6" stroke-linecap="square" fill="none"/>
<path d="M472.1,361.9h0M516.2,351.5h0M466.8,316.3h0M475.5,324.6h0M485.5,334.1h0M466.7,330.5h0M509.4,323.6h0M523.8,344.0h0M515.0,327.5h0M494.9,350.0h0M488.8,314.3h0M523.4,354.8h0M484.3,316.4h0M524.8,346.0h0M467.3,327.0h0M471.8,355.6h0M478.9,362.0h0M517.3,318.7h0M513.4,334.8h0M517.2,357.5h0M483.9,318.9h0M531.4,336.4h0M530.2,350.4h0M516.6,357.6h0M508.7,337.9h0M467.8,350.7h0M494.4,341.0h0M530.1,320.9h0M518.2,316.5h0M514.0,356.3h0M482.5,342.8h0M533.0,347.5h0M502.7,327.3h0M468.1,332.9h0" stroke="#7a2456" stroke-width="1.3" stroke-linecap="square" fill="none"/>
<path d="M493.2,324.7h0M486.0,321.3h0M514.3,349.3h0M480.9,326.8h0M500.6,337.5h0M530.6,332.6h0M485.2,360.5h0M474.0,343.7h0M487.7,356.8h0M503.0,354.0h0M476.0,349.1h0M506.6,338.3h0M518.5,357.7h0M472.1,329.3h0M489.6,325.0h0M468.2,328.9h0M478.0,350.9h0M495.8,320.1h0" stroke="#b44062" stroke-width="1.2" stroke-linecap="square" fill="none"/>
</g>
<rect x="515.7" y="352.7" width="11.3" height="1.8" fill="#f2f2f2" stroke="none" stroke-width="1" />
<text x="534.3" y="364.7" font-size="10.1" text-anchor="end" font-weight="normal" fill="#f4f4f4" stroke="#f4f4f4" stroke-width="0.45">200 μm</text>
<text x="300.4" y="342.7" font-size="9.45" text-anchor="middle" font-weight="normal" fill="#161616" transform="rotate(-90 300.4 342.7)"  stroke="#161616" stroke-width="0.36">125b mimic</text>
<rect x="302.9" y="372.9" width="74.4" height="55.1" fill="#070305" stroke="none" stroke-width="1" />
<g filter="url(#bl)">
<path d="M327.6,398.8h0M330.3,383.2h0M309.5,375.0h0M375.2,413.5h0M310.4,411.8h0M374.4,403.8h0M312.2,399.9h0M335.4,384.3h0M343.2,374.8h0M370.1,408.0h0M349.2,423.1h0M351.0,387.5h0M322.0,381.6h0M306.4,414.7h0M364.3,389.8h0M317.7,407.6h0M364.8,422.7h0M316.4,415.3h0M363.7,413.1h0M327.7,384.0h0M363.3,391.1h0M330.7,403.1h0M330.8,417.7h0M321.5,376.5h0M344.9,407.1h0M362.9,411.2h0M369.0,423.6h0M339.7,400.4h0M315.6,390.0h0M345.9,378.6h0M353.5,382.9h0M336.0,424.9h0M310.8,376.5h0M335.8,384.3h0M356.0,374.5h0M364.4,419.0h0M360.6,396.6h0M324.6,408.9h0M341.1,396.3h0M328.6,397.3h0M352.0,417.4h0M368.9,383.0h0M325.5,397.5h0M344.6,392.5h0M318.4,378.8h0M327.5,398.4h0M373.8,421.7h0M366.2,425.2h0M373.1,406.7h0M362.3,377.5h0M352.7,406.1h0M325.6,404.2h0M372.4,399.4h0M350.6,390.0h0M328.9,420.5h0M306.4,384.2h0M352.9,397.7h0M310.5,408.8h0M331.0,404.7h0M334.1,402.0h0M344.7,395.0h0M312.6,383.8h0M367.9,403.0h0M312.4,419.3h0M322.5,379.3h0M342.3,387.5h0M339.3,403.3h0M320.6,404.2h0M312.5,401.1h0M346.4,378.6h0M333.5,378.2h0M335.8,419.4h0M343.7,411.6h0M358.4,380.4h0M375.1,412.0h0M311.7,417.7h0M332.4,383.3h0M372.9,403.7h0M359.7,381.5h0M359.8,377.4h0M321.3,393.8h0M305.5,405.4h0M319.6,390.0h0M354.9,396.6h0M367.8,406.8h0M366.7,403.7h0M369.9,419.8h0M316.4,413.2h0M328.8,414.2h0M353.0,417.4h0M313.2,393.8h0M357.0,423.8h0M355.9,376.7h0M347.5,379.6h0M343.6,416.2h0M312.5,422.6h0M352.6,387.7h0M318.2,397.7h0M364.2,404.7h0M312.5,375.5h0M312.3,416.1h0M317.6,403.3h0M325.1,410.2h0M331.6,381.9h0M366.9,402.5h0M353.6,416.5h0M372.1,375.1h0M328.8,382.3h0M340.2,419.9h0M361.6,376.2h0M317.4,417.0h0M352.9,394.9h0M338.4,382.6h0M364.7,394.9h0M366.7,406.2h0M309.8,391.6h0M319.8,421.0h0M346.5,376.7h0M316.5,393.2h0M337.8,404.5h0M332.1,392.8h0M304.8,404.6h0M328.2,375.5h0M337.2,425.8h0M307.6,382.0h0M352.3,388.6h0M323.9,400.5h0M323.1,404.0h0M342.1,424.3h0M375.2,376.2h0" stroke="#330b0d" stroke-width="1.3" stroke-linecap="square" fill="none"/>
<path d="M344.4,414.6h0M366.7,414.7h0M349.6,407.5h0M330.3,389.1h0M361.2,419.9h0M371.4,409.9h0M326.1,414.2h0M357.2,400.9h0M349.8,392.7h0M343.7,395.6h0M308.7,392.0h0M327.5,425.9h0M338.8,393.5h0M321.8,386.6h0M329.3,381.5h0M304.9,419.8h0M336.8,397.6h0M345.0,390.2h0M316.5,377.9h0M325.9,390.5h0M356.3,403.1h0M371.3,392.1h0M370.2,404.8h0M310.1,383.7h0M345.8,425.8h0M329.9,414.7h0M335.0,419.6h0M309.2,399.6h0M368.6,388.8h0M322.8,375.6h0M316.1,388.4h0M354.7,385.8h0M332.9,384.8h0M347.4,419.4h0M350.7,384.6h0M356.8,424.6h0M347.3,378.5h0M362.2,420.0h0M328.8,381.5h0M317.8,402.4h0M366.9,407.7h0M370.3,385.5h0M327.7,413.4h0M350.7,395.5h0M352.9,392.0h0M308.5,396.0h0M307.6,407.0h0M328.3,400.2h0M347.1,387.8h0M337.5,375.1h0" stroke="#5e1517" stroke-width="1.2" stroke-linecap="square" fill="none"/>
</g>
<rect x="356.3" y="412.7" width="11.3" height="1.8" fill="#f2f2f2" stroke="none" stroke-width="1" />
<text x="374.9" y="424.7" font-size="10.1" text-anchor="end" font-weight="normal" fill="#f4f4f4" stroke="#f4f4f4" stroke-width="0.45">200 μm</text>
<rect x="382.9" y="372.9" width="74.4" height="55.1" fill="#05051b" stroke="none" stroke-width="1" />
<rect x="382.9" y="372.9" width="74.4" height="55.1" fill="url(#bg2)" stroke="none" stroke-width="1" opacity="0.5"/>
<g filter="url(#bl)">
<path d="M450.5,403.8h0M454.9,377.3h0M428.2,412.1h0M407.9,379.3h0M395.6,381.8h0M439.2,379.1h0M442.5,396.5h0M422.9,405.1h0M424.0,408.6h0M427.4,391.6h0M437.3,387.8h0M435.2,414.2h0M439.8,390.5h0M439.6,425.3h0M416.8,388.9h0M421.8,423.4h0M393.8,374.9h0M418.4,408.5h0M439.7,393.3h0M455.1,386.3h0M438.4,379.1h0M386.4,381.4h0M388.7,400.5h0M424.0,383.9h0M451.5,393.4h0M395.1,383.6h0M437.1,422.4h0M396.0,375.9h0M440.0,387.0h0M454.5,400.4h0M429.8,392.3h0M441.6,398.4h0M407.5,421.5h0M392.1,412.6h0M389.1,408.0h0M413.1,419.4h0M388.7,403.8h0M413.7,422.3h0M451.9,407.1h0M400.4,387.5h0M403.1,397.0h0M400.9,385.0h0M438.6,407.9h0M405.7,426.2h0M399.9,404.1h0M395.6,419.4h0M446.5,388.3h0M438.1,417.3h0M404.6,391.7h0M419.1,420.8h0M395.9,410.0h0M427.1,398.0h0M425.8,420.4h0M399.4,420.4h0M410.1,415.0h0M446.0,383.9h0M446.1,426.2h0M405.6,375.7h0M392.4,425.2h0M385.1,421.9h0M395.2,412.7h0M391.4,383.2h0M433.1,379.1h0M408.6,422.3h0M435.5,420.3h0M454.3,376.1h0M401.2,415.7h0M433.6,376.4h0M420.4,386.5h0M415.1,379.9h0M385.8,426.0h0M407.0,420.2h0M393.0,399.8h0M394.1,396.7h0M397.2,410.1h0M395.0,412.9h0M420.2,380.3h0M409.6,400.3h0M450.0,392.6h0M399.8,424.8h0M447.5,412.5h0M403.9,383.6h0M403.3,378.0h0M387.5,400.9h0M413.5,403.4h0M410.3,375.0h0M433.5,408.4h0M423.2,403.0h0M433.7,425.6h0M446.8,411.8h0M412.9,391.0h0M414.3,425.1h0M412.0,394.5h0M413.7,381.9h0M455.7,374.7h0M427.8,422.7h0M402.6,406.2h0M411.3,386.9h0M398.6,380.5h0M444.6,415.2h0M449.3,377.0h0M434.0,391.3h0M430.5,403.0h0M406.9,425.0h0M384.5,413.3h0M445.3,401.0h0M426.7,426.2h0M401.1,407.2h0M437.5,394.1h0M435.2,394.9h0" stroke="#101048" stroke-width="1.5" stroke-linecap="square" fill="none"/>
<path d="M422.0,406.3h0M432.8,391.2h0M429.3,402.7h0M400.3,406.3h0M403.3,421.7h0M418.2,412.0h0M421.7,399.2h0M400.2,381.8h0M450.6,401.9h0M421.8,401.9h0M442.5,386.8h0M396.7,417.2h0M417.3,407.8h0M443.5,421.0h0M446.4,376.7h0M411.6,417.8h0M442.8,380.8h0M395.4,387.5h0M391.7,393.0h0M441.7,401.6h0M416.7,379.0h0M412.6,426.3h0M434.0,397.8h0M418.6,416.0h0M438.6,382.2h0M433.0,393.5h0M421.6,386.8h0M410.9,392.1h0M411.6,375.3h0M398.7,404.1h0M388.5,383.7h0M435.7,388.7h0M407.5,387.0h0M444.0,379.2h0M429.8,419.1h0M398.8,396.4h0M441.0,406.6h0M410.9,376.7h0M416.0,393.5h0M435.3,389.8h0" stroke="#030314" stroke-width="1.6" stroke-linecap="square" fill="none"/>
</g>
<rect x="436.3" y="412.7" width="11.3" height="1.8" fill="#f2f2f2" stroke="none" stroke-width="1" />
<text x="454.9" y="424.7" font-size="10.1" text-anchor="end" font-weight="normal" fill="#f4f4f4" stroke="#f4f4f4" stroke-width="0.45">200 μm</text>
<rect x="462.4" y="372.9" width="74.3" height="55.1" fill="#06061d" stroke="none" stroke-width="1" />
<rect x="462.4" y="372.9" width="74.3" height="55.1" fill="url(#bg2)" stroke="none" stroke-width="1" opacity="0.5"/>
<g filter="url(#bl)">
<path d="M493.0,408.2h0M521.7,392.8h0M491.4,404.6h0M529.8,384.4h0M533.2,411.5h0M490.4,409.1h0M487.4,378.1h0M517.8,394.2h0M501.4,400.3h0M528.2,413.8h0M465.7,405.3h0M496.9,398.5h0M523.8,396.0h0M497.7,420.8h0M495.3,400.0h0M500.4,417.4h0M511.7,413.0h0M492.5,376.5h0M512.4,403.3h0M518.7,414.5h0M472.3,385.9h0M469.4,417.0h0M471.2,379.0h0M517.6,403.8h0M467.8,409.9h0M514.6,399.6h0M467.8,410.4h0M493.7,404.8h0M535.1,417.0h0M526.1,382.0h0M487.7,401.4h0M464.3,425.9h0M483.5,388.1h0M486.2,387.7h0M525.1,403.4h0M500.3,396.3h0M467.5,390.3h0M525.7,416.2h0M525.0,387.8h0M478.3,377.1h0M502.2,393.9h0M497.0,399.9h0M505.5,393.5h0M521.0,384.8h0M529.5,403.4h0M467.5,390.8h0M501.9,395.7h0M504.2,391.3h0M483.4,415.9h0M484.7,411.4h0M521.1,405.2h0M496.3,423.1h0M495.6,420.1h0M468.0,397.0h0M509.5,377.0h0M525.4,378.1h0M506.4,383.8h0M529.7,403.6h0M521.0,400.4h0M511.9,409.6h0M484.9,385.4h0M523.7,382.0h0M529.3,385.2h0M471.1,379.4h0M519.8,423.9h0M493.5,408.7h0M482.3,421.6h0M512.8,382.5h0M467.9,410.6h0M466.9,418.0h0M484.8,386.5h0M505.4,391.0h0M503.9,382.4h0M528.9,391.3h0M523.9,382.3h0M520.9,425.5h0M491.8,376.1h0M491.0,407.8h0M479.8,402.8h0M470.6,398.6h0M515.8,396.8h0M512.3,380.4h0M523.0,380.8h0M529.7,426.3h0M530.9,401.8h0M484.6,392.5h0M517.4,400.3h0M530.2,379.2h0M498.5,419.4h0M506.5,402.6h0" stroke="#101048" stroke-width="1.5" stroke-linecap="square" fill="none"/>
<path d="M470.2,381.7h0M483.2,420.9h0M524.2,386.2h0M529.8,376.1h0M506.6,424.8h0M488.4,423.6h0M510.7,377.0h0M487.7,397.8h0M481.5,413.1h0M476.7,415.4h0M485.2,378.0h0M503.8,379.4h0M503.2,415.5h0M506.4,398.4h0M466.3,401.1h0M470.8,408.1h0M473.3,404.5h0M489.1,393.9h0M511.2,382.9h0M476.0,423.5h0M487.5,418.3h0M526.2,399.4h0M474.5,379.3h0M526.6,380.5h0M499.3,402.3h0M472.3,398.8h0M475.6,402.3h0M500.0,393.5h0M478.0,395.4h0M478.4,381.0h0M481.0,419.8h0M499.7,420.8h0M465.0,423.5h0M498.7,415.6h0M504.6,410.3h0" stroke="#030314" stroke-width="1.6" stroke-linecap="square" fill="none"/>
<path d="M480.2,413.5h0M474.9,388.2h0M466.1,394.9h0M500.8,389.6h0M527.4,378.8h0M505.1,386.6h0M506.3,415.2h0M514.6,377.6h0M481.4,405.6h0M534.0,376.5h0M508.0,410.4h0M522.0,392.2h0M521.7,398.5h0M529.6,375.0h0M530.9,395.9h0M492.9,379.0h0M481.4,412.6h0M512.3,382.3h0M488.4,381.7h0M478.0,385.8h0M487.5,425.2h0M535.0,415.6h0M498.1,400.3h0M519.5,421.7h0M517.5,407.6h0M478.1,407.0h0M524.2,415.4h0M470.5,411.8h0M488.8,382.9h0M532.8,409.4h0M517.1,381.4h0M523.0,423.2h0M528.4,413.2h0M523.3,416.2h0M506.0,397.1h0M522.7,415.3h0M526.0,390.0h0M532.4,402.1h0M531.3,380.4h0M533.0,415.4h0M481.9,418.1h0M480.4,384.7h0M496.5,386.7h0M499.0,421.7h0M512.8,411.4h0M491.9,415.2h0M520.5,410.0h0M531.0,417.4h0M492.9,378.9h0M510.4,418.0h0M488.1,405.4h0M523.5,415.7h0M464.2,399.9h0M465.1,380.2h0M521.8,396.2h0M507.0,398.2h0M487.8,385.5h0M489.1,418.4h0M508.1,389.6h0M470.2,388.5h0M513.9,397.4h0M511.0,416.5h0M472.5,410.0h0M466.9,417.3h0M477.0,388.5h0M532.2,393.3h0M479.9,420.8h0M507.4,421.0h0M492.0,400.4h0M532.0,400.8h0M534.4,384.3h0M523.1,382.9h0M501.5,374.4h0M476.4,423.6h0M496.3,416.6h0M481.8,392.8h0M471.1,403.2h0M525.4,401.2h0M490.8,422.8h0M527.6,409.1h0M469.3,406.9h0M495.6,424.3h0M489.7,408.8h0M509.0,394.0h0M501.1,409.6h0" stroke="#7a2456" stroke-width="1.3" stroke-linecap="square" fill="none"/>
<path d="M528.6,400.4h0M489.8,425.3h0M468.0,417.9h0M512.6,403.4h0M495.8,413.5h0M527.4,412.4h0M517.4,376.2h0M487.1,381.5h0M531.8,420.8h0M474.2,405.0h0M505.0,376.8h0M491.9,413.3h0M509.6,389.0h0M518.3,389.6h0M502.7,396.3h0M533.6,408.2h0M521.3,409.6h0M491.0,424.6h0M514.5,410.4h0M483.7,382.8h0M504.9,417.4h0M520.5,392.5h0M473.9,401.3h0M526.5,382.8h0M516.5,383.3h0M486.1,377.2h0M485.1,394.4h0M532.8,424.5h0M477.2,390.5h0M531.2,384.7h0M486.8,397.2h0M471.6,388.0h0M492.0,394.5h0M532.6,388.3h0M478.4,421.7h0M496.0,418.0h0M509.3,415.0h0M486.3,382.3h0M517.9,398.9h0M503.7,409.3h0M517.6,388.7h0M489.8,422.2h0M501.6,389.4h0M508.8,387.9h0M518.9,376.6h0" stroke="#b44062" stroke-width="1.2" stroke-linecap="square" fill="none"/>
</g>
<rect x="515.7" y="412.7" width="11.3" height="1.8" fill="#f2f2f2" stroke="none" stroke-width="1" />
<text x="534.3" y="424.7" font-size="10.1" text-anchor="end" font-weight="normal" fill="#f4f4f4" stroke="#f4f4f4" stroke-width="0.45">200 μm</text>
<text x="300.4" y="400.7" font-size="9.45" text-anchor="middle" font-weight="normal" fill="#161616" transform="rotate(-90 300.4 400.7)"  stroke="#161616" stroke-width="0.36">NC inhibitor</text>
<rect x="302.9" y="433.8" width="74.4" height="55.4" fill="#070305" stroke="none" stroke-width="1" />
<g filter="url(#bl)">
<path d="M363.4,465.0h0M329.7,484.6h0M323.4,448.1h0M309.4,464.0h0M358.2,470.8h0M333.9,477.6h0M312.3,451.4h0M350.4,486.0h0M349.7,471.6h0M359.7,456.0h0M371.5,474.2h0M328.8,455.9h0M361.9,453.6h0M317.7,481.0h0M342.4,462.6h0M352.2,482.5h0M313.9,453.0h0M309.1,457.0h0M340.3,479.9h0M352.1,465.6h0M333.2,465.4h0M324.0,479.6h0M360.7,479.2h0M315.2,470.5h0M358.2,461.5h0M368.5,482.4h0M357.5,478.3h0M350.7,481.3h0M313.8,472.2h0M354.6,467.4h0M324.0,438.8h0M347.5,478.5h0M323.9,446.5h0M320.4,440.2h0M352.7,486.4h0M361.7,454.1h0M354.3,439.1h0M364.3,452.3h0M304.6,468.3h0M314.3,449.7h0M308.6,458.7h0M344.0,477.6h0M307.2,478.7h0M312.3,447.1h0M349.3,453.1h0M328.0,465.1h0M320.0,476.9h0M319.3,479.3h0M362.1,463.4h0M306.6,476.1h0M306.4,461.7h0M334.7,438.6h0M349.4,473.3h0M346.2,456.3h0M341.0,466.2h0M320.6,480.8h0M375.5,477.4h0M373.0,452.6h0M374.8,439.0h0M338.5,442.3h0M336.8,471.1h0M355.0,459.1h0M328.8,445.3h0M333.2,450.1h0M318.3,473.9h0M341.3,458.3h0M318.5,472.2h0M318.4,449.2h0M344.4,472.0h0M373.9,474.5h0M372.1,483.5h0M356.0,473.0h0M308.9,446.1h0M305.3,480.6h0M355.9,468.3h0M323.2,453.9h0M316.1,468.4h0M375.2,451.3h0M307.6,444.5h0M329.8,482.4h0M361.8,459.1h0M311.7,440.9h0M315.4,476.0h0M338.0,487.2h0M369.5,476.9h0M338.4,478.4h0M313.6,441.0h0M344.6,461.9h0M319.3,448.5h0M305.9,482.9h0M355.1,484.8h0M374.4,458.2h0M356.7,455.4h0M362.4,479.4h0M314.0,436.0h0M319.7,466.0h0M331.5,435.8h0M363.7,476.5h0M337.5,437.6h0M367.9,463.3h0M309.5,452.2h0M349.0,481.7h0M339.0,468.8h0M319.1,448.1h0M369.1,455.3h0M311.8,466.3h0M313.4,445.8h0M337.0,466.0h0M349.8,472.3h0M335.8,438.8h0M356.1,438.1h0M338.0,456.3h0M352.4,472.7h0M321.5,469.3h0M353.8,460.0h0M314.5,482.9h0M347.2,438.6h0M321.4,487.0h0M320.7,455.9h0M360.7,478.5h0M349.7,474.2h0M307.1,440.2h0M374.1,477.4h0M307.1,437.9h0M321.6,484.1h0M320.1,470.5h0M370.8,468.8h0M370.0,449.1h0M315.4,436.3h0M358.5,440.7h0M373.9,472.5h0M317.7,477.6h0M316.0,462.1h0M312.0,476.5h0M367.9,483.3h0M304.6,479.9h0M344.1,478.3h0M340.3,467.8h0M346.9,477.2h0M309.9,438.1h0M343.3,450.5h0M332.7,435.7h0M357.6,436.6h0M363.6,477.8h0M337.1,441.7h0M350.8,446.2h0M335.0,441.1h0M374.1,463.9h0M329.6,440.2h0M356.5,479.8h0M365.0,440.6h0M330.6,451.2h0M358.8,443.0h0M347.7,486.6h0M359.3,435.7h0M309.8,441.3h0" stroke="#330b0d" stroke-width="1.3" stroke-linecap="square" fill="none"/>
<path d="M353.8,466.7h0M341.5,459.2h0M333.5,467.3h0M350.7,483.3h0M356.7,477.0h0M369.6,479.2h0M355.6,436.9h0M353.0,479.8h0M335.2,481.3h0M317.2,484.7h0M335.9,472.3h0M322.4,451.0h0M329.3,452.3h0M311.2,458.5h0M374.4,469.6h0M371.0,475.2h0M364.1,487.4h0M358.1,449.7h0M322.2,456.9h0M305.9,447.4h0M367.7,483.6h0M327.9,475.7h0M359.7,481.9h0M361.1,463.2h0M311.9,478.6h0M326.8,468.2h0M330.6,463.5h0M373.3,443.7h0M342.3,469.4h0M342.8,484.4h0M333.5,483.2h0M353.7,486.0h0M310.8,446.4h0M324.9,482.8h0M305.4,448.9h0M355.5,487.2h0M317.0,458.3h0M353.4,471.5h0M357.7,474.8h0M322.1,448.8h0M306.4,471.5h0M319.3,448.9h0M373.3,469.0h0M346.6,469.7h0M347.1,471.7h0M326.1,438.7h0M309.2,436.1h0M330.2,442.8h0M312.5,461.2h0M373.6,471.3h0M323.9,475.6h0M317.1,440.5h0M326.0,456.7h0M353.6,458.6h0M356.4,440.3h0M371.0,453.2h0M363.8,436.9h0M363.6,447.2h0M365.4,477.4h0M352.3,449.8h0" stroke="#5e1517" stroke-width="1.2" stroke-linecap="square" fill="none"/>
</g>
<rect x="356.3" y="473.9" width="11.3" height="1.8" fill="#f2f2f2" stroke="none" stroke-width="1" />
<text x="374.9" y="485.9" font-size="10.1" text-anchor="end" font-weight="normal" fill="#f4f4f4" stroke="#f4f4f4" stroke-width="0.45">200 μm</text>
<rect x="382.9" y="433.8" width="74.4" height="55.4" fill="#05051b" stroke="none" stroke-width="1" />
<rect x="382.9" y="433.8" width="74.4" height="55.4" fill="url(#bg2)" stroke="none" stroke-width="1" opacity="1.0"/>
<g filter="url(#bl)">
<path d="M385.1,445.3h0M449.0,443.6h0M431.5,466.1h0M431.6,444.8h0M394.7,440.4h0M454.6,455.4h0M431.0,465.1h0M400.3,438.7h0M385.5,480.0h0M393.7,485.8h0M410.4,473.2h0M394.3,476.6h0M402.4,454.5h0M421.7,441.1h0M402.1,477.0h0M404.8,455.3h0M439.0,447.0h0M398.2,446.8h0M411.8,454.4h0M430.2,460.0h0M446.5,437.9h0M431.8,479.1h0M401.2,436.8h0M415.7,441.4h0M417.2,472.6h0M391.1,441.5h0M418.6,444.4h0M400.9,458.4h0M392.8,438.9h0M410.2,459.9h0M451.3,464.4h0M389.5,447.0h0M437.5,464.8h0M446.5,485.7h0M445.7,441.1h0M451.8,462.8h0M401.5,444.2h0M446.1,446.4h0M390.3,449.2h0M450.4,459.5h0M436.6,439.2h0M416.7,452.0h0M399.1,470.0h0M410.2,441.6h0M454.7,460.5h0M397.3,435.9h0M431.0,462.3h0M386.1,459.9h0M437.3,463.4h0M401.1,461.4h0M427.6,469.4h0M394.8,477.4h0M451.9,474.1h0M445.6,454.6h0M448.9,444.8h0M400.6,466.6h0M448.8,439.6h0M399.9,437.2h0M415.7,442.7h0M398.1,474.5h0M426.0,484.5h0M413.1,470.9h0M385.3,485.0h0M401.0,460.3h0M420.9,485.0h0M419.5,487.3h0M428.8,446.6h0M443.9,445.9h0M455.8,459.2h0M400.6,485.7h0M407.4,456.6h0M408.9,470.3h0M386.0,454.9h0M396.0,478.7h0M384.4,467.1h0M402.8,459.1h0M424.5,472.6h0M394.2,447.9h0M393.0,485.6h0M395.0,442.5h0M421.7,465.8h0M447.7,438.3h0M401.1,444.1h0M426.2,459.0h0M413.6,481.9h0M431.6,480.4h0M452.7,449.4h0M451.7,456.7h0M388.1,483.2h0M391.8,436.2h0M405.1,450.4h0M453.4,480.9h0M414.4,463.0h0M445.0,477.6h0M431.1,462.2h0M392.7,448.1h0M431.4,466.0h0M441.6,482.4h0M453.1,445.4h0M389.8,482.3h0M425.1,444.8h0M433.8,448.7h0M401.3,454.5h0M421.8,470.8h0M389.6,474.1h0M429.0,460.0h0M432.4,477.2h0M385.1,460.2h0M432.8,472.5h0M430.6,444.7h0M452.8,476.5h0M401.0,457.9h0M452.8,446.2h0M413.6,485.7h0M448.7,447.5h0M436.9,454.1h0M431.8,475.5h0M393.5,447.0h0" stroke="#14145c" stroke-width="1.5" stroke-linecap="square" fill="none"/>
<path d="M399.7,449.2h0M386.9,442.4h0M413.4,457.3h0M390.0,465.8h0M451.7,465.5h0M409.8,472.2h0M415.6,444.5h0M418.8,436.2h0M432.7,443.7h0M410.8,485.7h0M439.1,479.1h0M430.2,468.6h0M434.7,485.9h0M398.4,475.4h0M405.9,448.7h0M443.1,466.8h0M445.1,481.2h0M426.4,445.7h0M385.5,463.3h0M436.2,449.6h0M389.4,435.5h0M396.8,471.8h0M384.7,447.4h0M403.3,472.6h0M454.9,436.3h0M392.6,484.3h0M453.7,443.1h0M408.3,462.7h0M407.3,457.2h0M418.6,448.8h0M388.3,439.7h0M396.0,440.1h0M429.0,471.8h0M403.2,476.8h0M436.4,453.2h0M419.5,445.2h0M450.7,464.7h0M388.1,443.4h0M433.9,455.5h0M435.6,447.3h0M441.3,477.3h0M391.1,466.0h0M398.1,472.4h0" stroke="#030314" stroke-width="1.6" stroke-linecap="square" fill="none"/>
</g>
<rect x="436.3" y="473.9" width="11.3" height="1.8" fill="#f2f2f2" stroke="none" stroke-width="1" />
<text x="454.9" y="485.9" font-size="10.1" text-anchor="end" font-weight="normal" fill="#f4f4f4" stroke="#f4f4f4" stroke-width="0.45">200 μm</text>
<rect x="462.4" y="433.8" width="74.3" height="55.4" fill="#06061d" stroke="none" stroke-width="1" />
<rect x="462.4" y="433.8" width="74.3" height="55.4" fill="url(#bg2)" stroke="none" stroke-width="1" opacity="1.0"/>
<g filter="url(#bl)">
<path d="M521.2,476.8h0M480.4,440.2h0M511.2,464.9h0M473.8,445.4h0M505.4,441.0h0M509.1,447.9h0M482.3,457.5h0M501.9,473.3h0M466.1,473.3h0M479.7,450.5h0M509.5,471.5h0M507.7,482.6h0M478.5,451.6h0M511.1,449.0h0M475.1,447.2h0M518.9,478.6h0M515.0,485.5h0M520.5,451.5h0M486.4,473.1h0M467.9,467.2h0M470.3,437.9h0M500.5,443.2h0M530.3,481.3h0M496.8,445.7h0M472.4,461.9h0M501.1,454.3h0M515.0,463.0h0M519.2,440.9h0M468.9,455.6h0M498.4,448.5h0M511.6,446.9h0M486.6,460.3h0M514.7,475.7h0M490.4,458.7h0M530.0,484.2h0M508.0,440.8h0M496.4,468.7h0M483.8,437.3h0M533.9,483.0h0M473.1,459.7h0M508.1,451.0h0M468.8,474.6h0M518.9,458.2h0M470.0,455.9h0M470.6,485.8h0M467.6,450.4h0M518.7,442.4h0M471.5,439.0h0M475.6,463.2h0M523.3,444.2h0M476.3,475.4h0M494.3,453.0h0M472.7,448.0h0M533.2,441.4h0M482.4,474.1h0M527.5,482.7h0M497.6,485.4h0M507.0,450.4h0M497.1,472.8h0M516.2,442.1h0M477.7,485.5h0M471.5,477.9h0M488.1,448.3h0M482.1,459.9h0M534.5,443.1h0M524.8,452.1h0M476.2,474.3h0M488.3,445.1h0M493.7,478.4h0M525.4,465.4h0M464.6,475.3h0M507.1,482.4h0M531.8,452.4h0M524.4,478.2h0M482.9,454.5h0M490.6,453.8h0M490.9,441.1h0M480.1,483.0h0M493.2,468.6h0M527.2,474.9h0M481.3,483.5h0M521.2,487.2h0M515.8,474.9h0M521.9,448.6h0M510.7,455.2h0M523.8,442.3h0M502.3,452.9h0M522.4,453.4h0M524.1,479.7h0M526.6,442.6h0M530.8,474.3h0M512.2,469.5h0M467.3,480.9h0M503.0,459.2h0M488.1,476.3h0M519.7,480.9h0M479.2,453.1h0" stroke="#14145c" stroke-width="1.5" stroke-linecap="square" fill="none"/>
<path d="M481.7,440.6h0M487.2,436.7h0M520.7,447.2h0M468.9,438.8h0M516.7,445.7h0M496.8,456.4h0M521.1,485.3h0M486.0,468.4h0M527.7,460.0h0M528.0,473.7h0M486.1,481.1h0M504.8,440.8h0M505.8,478.8h0M500.9,460.7h0M493.6,481.4h0M511.4,446.2h0M489.7,454.3h0M532.3,471.8h0M472.8,483.2h0M466.4,466.3h0M494.7,472.9h0M494.5,440.1h0M501.2,478.3h0M520.1,454.0h0M479.8,474.3h0M521.1,446.8h0M526.9,487.3h0M494.8,455.2h0M514.5,484.0h0M478.3,451.1h0M487.4,473.7h0M477.2,464.0h0M499.6,470.3h0M474.1,485.4h0M535.2,464.7h0M520.6,444.9h0M528.8,464.2h0" stroke="#030314" stroke-width="1.6" stroke-linecap="square" fill="none"/>
<path d="M518.1,480.8h0M489.7,483.7h0M478.7,436.5h0M499.7,482.4h0M528.1,485.3h0M500.3,484.2h0M503.8,442.8h0M508.9,477.4h0M494.1,466.9h0M482.4,449.8h0M493.9,462.2h0M497.3,440.1h0M464.3,453.1h0M515.0,474.5h0M480.8,448.7h0M500.7,444.5h0M506.9,482.7h0M478.3,466.0h0M515.3,474.6h0M514.7,472.5h0M483.3,479.2h0M529.9,438.1h0M531.2,458.5h0M470.1,438.9h0M520.7,470.8h0M474.0,459.4h0M509.4,487.6h0M487.9,475.5h0M481.4,445.7h0M475.4,456.8h0M508.0,451.2h0M475.4,446.7h0M470.0,445.4h0M486.4,461.7h0M477.0,460.4h0M495.3,486.3h0M498.6,484.8h0M497.5,445.7h0M506.1,442.9h0M476.0,439.1h0M513.9,486.0h0M492.7,453.9h0M494.2,453.7h0M513.1,455.8h0M474.8,480.6h0M504.7,435.6h0M524.5,473.5h0M489.2,468.3h0M529.5,456.3h0M494.7,450.9h0M503.4,470.0h0M516.3,485.0h0M474.3,454.5h0M524.6,476.7h0M506.0,470.8h0M488.1,484.8h0M503.1,456.4h0M476.9,441.3h0M527.9,477.2h0M465.8,452.2h0M498.1,461.3h0M489.8,482.2h0M488.8,463.2h0M530.2,468.8h0M497.9,452.7h0M491.5,467.2h0M519.9,449.0h0M490.3,455.6h0M489.8,483.1h0M502.3,449.8h0M487.6,478.3h0M475.3,471.5h0M465.5,445.4h0M468.1,477.5h0M474.4,447.2h0M468.0,449.1h0M516.2,473.0h0M528.8,484.9h0M503.2,483.6h0M470.3,483.8h0M494.8,445.4h0M517.2,480.3h0M491.4,440.2h0M526.1,474.8h0M506.5,486.5h0M466.6,438.2h0M472.8,436.4h0M514.4,468.3h0M471.9,443.8h0M476.8,467.2h0M511.8,486.1h0M489.6,486.6h0M494.9,455.8h0M482.0,447.5h0M533.4,487.4h0M514.2,444.5h0M476.7,443.3h0M488.9,473.9h0M468.1,463.1h0M512.4,437.1h0M495.2,476.7h0M504.9,459.0h0" stroke="#7a2456" stroke-width="1.3" stroke-linecap="square" fill="none"/>
<path d="M526.7,466.8h0M487.9,456.0h0M531.2,480.3h0M529.1,464.7h0M474.1,444.5h0M491.2,471.5h0M464.2,477.3h0M519.9,462.3h0M464.3,477.1h0M493.4,470.4h0M504.5,473.5h0M493.0,485.6h0M532.0,484.0h0M507.8,451.9h0M490.8,449.4h0M528.3,476.8h0M520.1,478.3h0M534.5,471.4h0M486.6,475.0h0M482.6,467.3h0M475.2,480.2h0M498.7,449.7h0M529.7,439.6h0M530.2,475.0h0M474.5,475.2h0M504.8,482.8h0M505.7,457.7h0M530.4,439.9h0M519.3,440.7h0M483.6,441.3h0M526.0,458.5h0M515.7,448.7h0M516.0,469.3h0M470.9,461.2h0M515.4,446.5h0M510.6,449.9h0M490.3,483.5h0M531.1,487.6h0M494.3,465.3h0M521.5,475.0h0M496.4,480.6h0M492.5,485.1h0M497.6,441.5h0M517.3,442.9h0M512.4,438.1h0M534.4,463.6h0M516.7,442.2h0M509.3,455.0h0M481.7,478.0h0M466.3,460.3h0M470.1,479.9h0M527.6,437.1h0M497.0,459.9h0M515.1,473.5h0" stroke="#b44062" stroke-width="1.2" stroke-linecap="square" fill="none"/>
</g>
<rect x="515.7" y="473.9" width="11.3" height="1.8" fill="#f2f2f2" stroke="none" stroke-width="1" />
<text x="534.3" y="485.9" font-size="10.1" text-anchor="end" font-weight="normal" fill="#f4f4f4" stroke="#f4f4f4" stroke-width="0.45">200 μm</text>
<text x="300.4" y="464.2" font-size="9.45" text-anchor="middle" font-weight="normal" fill="#161616" transform="rotate(-90 300.4 464.2)"  stroke="#161616" stroke-width="0.36">125a inhibitor</text>
<rect x="302.9" y="495" width="74.4" height="54.8" fill="#070305" stroke="none" stroke-width="1" />
<g filter="url(#bl)">
<path d="M328.9,544.8h0M317.6,503.6h0M362.6,502.7h0M317.7,522.4h0M328.4,505.0h0M370.8,521.0h0M360.5,509.5h0M369.6,508.0h0M369.1,528.2h0M373.7,536.4h0M349.4,524.1h0M365.4,519.5h0M311.4,543.8h0M361.9,531.8h0M357.6,508.5h0M337.5,539.1h0M373.1,544.3h0M315.9,531.9h0M344.0,517.5h0M316.4,503.6h0M338.0,522.0h0M323.5,515.5h0M344.0,536.0h0M346.5,504.9h0M367.7,515.5h0M372.9,547.3h0M314.4,526.7h0M373.4,516.4h0M343.5,512.8h0M306.4,507.1h0M313.3,511.2h0M349.3,525.7h0M372.1,532.0h0M330.3,545.7h0M349.7,524.6h0M366.0,531.2h0M330.1,527.8h0M325.8,546.7h0M321.8,546.9h0M309.0,497.0h0M343.9,507.2h0M340.6,502.6h0M364.2,531.2h0M353.3,544.5h0M375.2,531.6h0M355.3,496.6h0M307.9,518.6h0M373.6,512.7h0M345.0,497.0h0M334.1,543.3h0M346.5,539.2h0M305.3,507.0h0M317.2,539.6h0M311.7,544.8h0M323.5,542.1h0M341.2,513.3h0M373.4,517.5h0M354.2,500.0h0M363.7,547.3h0M312.3,535.2h0M323.7,504.2h0M330.4,530.8h0M372.5,548.0h0M375.3,528.8h0M351.1,504.8h0M356.2,525.1h0M330.0,543.1h0M322.6,503.8h0M315.7,504.2h0M346.4,538.0h0M315.8,522.5h0M345.4,525.5h0M333.9,524.7h0M305.5,499.5h0M334.6,508.8h0M358.4,509.0h0M363.2,509.0h0M311.0,521.2h0M332.1,513.9h0M359.0,508.0h0M352.2,539.7h0M336.7,522.6h0M370.3,527.8h0M317.3,500.1h0M310.3,513.7h0M310.7,530.1h0M334.6,512.5h0M341.0,545.0h0M321.8,504.5h0M326.2,513.3h0M369.4,533.1h0M335.0,505.1h0M307.6,502.8h0M364.9,530.1h0M315.6,528.9h0M308.6,522.8h0M328.3,501.8h0M357.4,533.6h0M340.9,505.2h0M352.2,518.9h0M351.6,501.2h0M368.8,496.7h0M320.3,517.1h0M318.6,501.0h0M353.5,548.0h0M328.3,510.3h0M352.3,508.0h0M333.0,532.2h0M335.2,504.6h0M309.4,524.6h0M375.1,544.2h0M311.5,522.5h0M339.3,506.6h0M352.2,522.2h0M362.1,511.6h0M371.1,538.7h0M338.2,503.8h0M338.9,503.1h0M353.4,532.6h0M345.7,547.1h0M307.6,533.6h0M361.6,502.3h0M327.4,499.3h0M346.0,534.0h0M329.2,532.5h0M330.6,533.4h0M324.2,547.2h0M335.7,496.7h0M310.9,534.1h0M366.1,529.5h0M315.5,541.7h0M355.6,502.5h0M331.6,531.3h0M304.7,498.7h0M329.6,541.8h0M375.5,513.0h0M369.3,537.2h0M366.2,527.0h0M373.6,529.9h0M372.1,525.8h0M318.4,523.4h0M338.9,514.0h0M331.1,522.9h0" stroke="#330b0d" stroke-width="1.3" stroke-linecap="square" fill="none"/>
<path d="M346.4,508.0h0M324.2,522.5h0M340.4,518.2h0M351.8,506.1h0M342.4,510.8h0M359.4,533.0h0M360.2,523.3h0M322.2,544.4h0M340.9,515.9h0M325.1,517.3h0M355.0,538.9h0M338.9,534.4h0M319.6,519.9h0M330.0,512.4h0M330.1,535.6h0M356.8,507.2h0M321.1,537.1h0M351.1,531.5h0M349.8,532.4h0M323.9,499.7h0M330.1,498.2h0M373.1,523.7h0M352.3,546.6h0M361.8,508.4h0M328.5,502.1h0M361.2,534.7h0M339.2,515.6h0M323.7,521.7h0M355.2,542.9h0M365.0,541.4h0M335.8,518.3h0M326.8,547.0h0M317.5,504.7h0M324.5,544.3h0M365.3,513.7h0M365.2,542.6h0M334.9,506.5h0M359.6,515.9h0M312.9,543.3h0M335.8,517.1h0M346.9,509.7h0M305.8,516.7h0M331.5,497.1h0M330.9,535.9h0M328.2,531.7h0M349.0,506.3h0M305.9,531.4h0M348.0,511.7h0M318.7,540.8h0M369.3,508.6h0M346.2,526.3h0M327.4,498.4h0M327.6,529.9h0M347.4,522.9h0M313.1,507.5h0" stroke="#5e1517" stroke-width="1.2" stroke-linecap="square" fill="none"/>
</g>
<rect x="356.3" y="534.5" width="11.3" height="1.8" fill="#f2f2f2" stroke="none" stroke-width="1" />
<text x="374.9" y="546.5" font-size="10.1" text-anchor="end" font-weight="normal" fill="#f4f4f4" stroke="#f4f4f4" stroke-width="0.45">200 μm</text>
<rect x="382.9" y="495" width="74.4" height="54.8" fill="#05051b" stroke="none" stroke-width="1" />
<rect x="382.9" y="495" width="74.4" height="54.8" fill="url(#bg2)" stroke="none" stroke-width="1" opacity="0.8"/>
<g filter="url(#bl)">
<path d="M406.6,518.1h0M410.3,543.2h0M392.7,547.6h0M401.6,540.9h0M401.8,526.9h0M411.3,498.5h0M441.3,538.5h0M403.6,536.7h0M418.6,547.6h0M388.3,516.2h0M400.7,528.9h0M439.9,540.1h0M423.6,516.6h0M441.5,501.9h0M403.0,535.5h0M415.8,547.9h0M390.9,520.4h0M399.6,496.6h0M391.1,501.2h0M410.7,518.9h0M420.7,511.5h0M434.5,523.2h0M454.5,505.3h0M420.9,522.1h0M410.9,541.1h0M399.4,542.0h0M409.9,513.9h0M428.3,525.7h0M404.7,500.9h0M452.6,515.6h0M392.6,530.5h0M422.4,513.5h0M407.9,540.3h0M408.6,518.1h0M452.7,515.2h0M413.1,504.9h0M431.7,530.9h0M416.3,517.5h0M401.0,537.4h0M417.0,539.6h0M411.2,534.5h0M386.5,507.9h0M453.0,531.8h0M432.6,522.2h0M418.1,506.7h0M396.8,529.9h0M433.9,509.9h0M430.4,503.6h0M428.2,505.4h0M420.8,512.8h0M423.7,503.4h0M418.9,528.4h0M394.0,512.5h0M432.9,524.8h0M428.4,536.9h0M425.2,508.0h0M416.0,539.5h0M424.9,535.5h0M410.4,519.7h0M453.6,539.1h0M431.0,502.0h0M428.1,498.2h0M451.1,546.9h0M436.4,510.4h0M444.8,505.7h0M443.5,523.5h0M385.5,542.6h0M415.8,539.5h0M433.6,524.1h0M446.0,507.0h0M448.6,514.1h0M386.3,513.9h0M389.1,500.2h0M429.0,502.8h0M395.8,511.7h0M404.3,544.2h0M449.0,541.6h0M455.1,519.3h0M441.2,511.1h0M450.6,538.5h0M436.7,508.3h0M390.9,544.4h0M423.8,528.2h0M445.9,503.9h0M434.3,520.5h0M440.5,520.1h0M398.4,546.0h0M404.5,535.1h0M443.8,509.3h0M434.0,517.0h0M400.4,507.8h0M452.5,515.6h0M420.8,522.5h0M386.3,535.5h0M437.6,541.9h0M409.9,507.4h0M409.2,534.4h0M431.4,517.5h0M421.9,504.5h0M450.0,520.9h0M420.6,537.3h0M398.5,533.9h0M409.6,538.6h0M391.1,510.8h0M429.8,521.5h0M411.3,526.5h0M399.9,519.2h0M384.5,537.9h0M402.5,539.5h0M423.8,527.7h0M429.1,503.0h0M439.9,511.6h0M446.0,537.2h0M432.8,538.7h0" stroke="#131356" stroke-width="1.5" stroke-linecap="square" fill="none"/>
<path d="M415.6,531.4h0M452.4,506.3h0M391.6,517.8h0M420.8,504.2h0M400.2,541.4h0M412.1,504.2h0M397.5,526.4h0M398.0,521.1h0M422.8,519.3h0M420.4,539.8h0M385.6,544.7h0M398.6,498.5h0M439.2,526.0h0M422.8,507.8h0M440.2,512.4h0M436.3,508.3h0M425.3,530.1h0M410.9,521.4h0M389.1,529.8h0M433.8,504.4h0M423.7,534.5h0M391.6,540.0h0M446.5,499.1h0M402.1,500.9h0M402.4,501.0h0M419.3,509.5h0M405.8,520.4h0M410.9,537.3h0M436.0,502.4h0M400.4,496.9h0M407.9,502.1h0M434.2,536.9h0M455.5,507.3h0M387.0,535.7h0M413.8,544.7h0M412.4,512.7h0M389.6,545.6h0M421.0,519.3h0M415.6,536.3h0M443.7,521.2h0M397.1,517.5h0" stroke="#030314" stroke-width="1.6" stroke-linecap="square" fill="none"/>
</g>
<ellipse cx="430.9" cy="523.8" rx="2.2" ry="8" fill="#1c1c90" opacity="0.55" filter="url(#bl4)"/>
<rect x="436.3" y="534.5" width="11.3" height="1.8" fill="#f2f2f2" stroke="none" stroke-width="1" />
<text x="454.9" y="546.5" font-size="10.1" text-anchor="end" font-weight="normal" fill="#f4f4f4" stroke="#f4f4f4" stroke-width="0.45">200 μm</text>
<rect x="462.4" y="495" width="74.3" height="54.8" fill="#06061d" stroke="none" stroke-width="1" />
<rect x="462.4" y="495" width="74.3" height="54.8" fill="url(#bg2)" stroke="none" stroke-width="1" opacity="0.8"/>
<g filter="url(#bl)">
<path d="M527.5,517.6h0M511.0,525.5h0M496.8,526.3h0M481.4,525.4h0M525.6,500.6h0M490.2,542.1h0M533.6,497.2h0M508.6,529.2h0M524.0,520.8h0M473.2,512.1h0M514.7,534.2h0M478.5,529.8h0M510.7,530.6h0M465.5,519.4h0M487.1,527.4h0M487.9,503.1h0M511.7,511.4h0M520.3,512.3h0M502.8,538.4h0M472.1,534.4h0M468.8,545.0h0M465.7,534.0h0M490.2,505.8h0M492.1,522.5h0M493.5,502.8h0M501.2,512.0h0M532.9,516.3h0M494.9,508.3h0M533.0,513.2h0M510.0,539.6h0M491.9,535.6h0M483.8,502.2h0M466.9,519.8h0M526.2,507.0h0M495.3,536.0h0M483.6,504.4h0M500.9,518.5h0M530.8,543.0h0M480.9,525.6h0M493.6,498.3h0M495.6,543.9h0M485.5,526.9h0M514.5,499.8h0M529.8,502.2h0M485.4,533.6h0M465.3,515.9h0M472.9,521.0h0M465.0,504.3h0M479.8,500.7h0M470.4,506.6h0M500.8,503.6h0M522.4,518.1h0M481.9,509.0h0M523.8,498.9h0M516.8,501.6h0M531.2,517.6h0M506.5,541.2h0M471.1,499.8h0M513.4,526.9h0M515.3,510.9h0M499.3,506.2h0M495.1,511.1h0M505.7,512.0h0M483.5,529.8h0M470.0,538.0h0M499.2,508.4h0M472.1,522.9h0M499.8,533.8h0M490.6,517.9h0M527.5,510.7h0M533.8,542.7h0M534.5,545.4h0M482.2,538.7h0M507.5,507.1h0M535.0,530.0h0M521.6,525.4h0M469.6,541.2h0M476.4,509.9h0M507.8,506.5h0M496.9,533.5h0M470.7,530.7h0M471.4,521.1h0M510.2,532.1h0M467.0,506.4h0M532.4,516.8h0M494.2,515.9h0M513.5,534.9h0M510.3,517.3h0M504.5,523.2h0M477.3,545.7h0M532.7,536.8h0M534.7,520.6h0M523.7,509.0h0" stroke="#131356" stroke-width="1.5" stroke-linecap="square" fill="none"/>
<path d="M516.9,533.5h0M530.8,539.7h0M526.6,510.4h0M520.0,521.1h0M486.2,515.6h0M520.9,540.2h0M524.1,531.2h0M476.0,504.6h0M504.4,507.5h0M487.9,501.8h0M474.9,533.6h0M479.8,540.4h0M487.4,540.5h0M485.5,510.4h0M492.1,497.1h0M495.0,516.2h0M464.8,541.1h0M490.6,496.5h0M532.4,508.3h0M481.9,497.8h0M471.0,533.3h0M505.4,522.6h0M481.5,511.4h0M533.1,515.8h0M534.4,542.4h0M472.8,540.4h0M465.4,533.3h0M521.6,532.5h0M503.1,538.6h0M474.9,524.5h0M482.9,517.2h0M477.5,533.2h0M504.8,536.9h0M508.7,527.5h0M529.6,538.6h0M504.3,513.4h0" stroke="#030314" stroke-width="1.6" stroke-linecap="square" fill="none"/>
<path d="M530.1,515.7h0M471.2,513.8h0M514.3,544.7h0M509.9,530.8h0M530.7,536.8h0M495.7,520.4h0M518.1,513.0h0M471.7,528.6h0M521.6,509.4h0M512.6,542.7h0M473.0,503.5h0M499.1,513.8h0M531.6,548.1h0M495.7,537.6h0M508.9,505.5h0M533.2,505.5h0M469.3,519.9h0M465.2,521.4h0M493.3,545.9h0M493.4,540.5h0M519.5,526.9h0M480.9,512.3h0M498.9,517.0h0M509.9,522.7h0M486.9,527.9h0M535.0,507.0h0M487.8,497.1h0M470.6,499.4h0M494.1,539.8h0M513.6,546.5h0M523.6,526.8h0M505.3,497.1h0M491.2,510.1h0M508.2,499.9h0M502.6,516.0h0M499.0,517.4h0M471.2,534.4h0M521.0,527.5h0M472.2,527.5h0M526.0,547.6h0M518.0,498.9h0M526.5,530.9h0M483.6,544.2h0M522.8,542.9h0M481.5,526.4h0M490.9,511.8h0M518.2,528.4h0M487.6,524.6h0M530.1,525.9h0M529.0,525.8h0M534.6,498.0h0M496.7,525.1h0M515.7,546.7h0M508.3,521.3h0M509.1,524.1h0M514.2,545.6h0M464.9,513.1h0M526.4,499.6h0M520.2,498.1h0M510.1,538.0h0M480.9,516.2h0M480.0,533.0h0M501.6,527.9h0M487.1,526.9h0M532.0,536.9h0M531.8,509.3h0M500.7,516.5h0M488.6,538.1h0M476.4,525.4h0M519.1,545.0h0M465.2,510.5h0M499.1,545.0h0M475.5,540.1h0M492.2,524.9h0M530.1,499.8h0M487.4,504.6h0M473.4,512.2h0M513.9,526.6h0M472.6,538.0h0M500.1,503.9h0M522.4,539.0h0M479.4,545.2h0M521.7,508.4h0M464.0,541.4h0M522.8,501.6h0M518.5,536.5h0M509.1,539.6h0M534.1,513.5h0M523.4,544.2h0M486.3,531.9h0M512.7,540.5h0M504.3,510.8h0M481.8,524.6h0" stroke="#7a2456" stroke-width="1.3" stroke-linecap="square" fill="none"/>
<path d="M473.5,541.0h0M527.3,509.1h0M513.6,531.4h0M472.6,536.8h0M518.5,512.4h0M470.9,511.1h0M518.9,520.7h0M522.0,504.8h0M471.5,514.6h0M526.6,504.9h0M469.1,535.5h0M470.4,531.1h0M469.9,509.3h0M511.2,541.8h0M493.1,519.8h0M466.1,514.1h0M481.2,537.4h0M514.8,537.1h0M501.8,532.7h0M473.0,516.4h0M484.8,511.1h0M516.6,507.6h0M487.1,511.1h0M525.5,529.6h0M498.2,516.2h0M529.6,545.2h0M496.0,525.9h0M525.4,509.8h0M482.3,501.8h0M499.7,536.3h0M475.1,518.9h0M534.5,521.4h0M491.2,540.0h0M527.5,516.0h0M472.7,529.5h0M516.7,544.3h0M511.0,512.4h0M500.6,511.4h0M495.7,520.7h0M528.9,543.4h0M529.9,521.3h0M532.7,503.7h0M529.6,529.7h0M526.1,517.9h0M534.6,497.8h0M524.4,538.9h0M490.6,539.4h0M479.1,535.5h0M497.3,517.8h0" stroke="#b44062" stroke-width="1.2" stroke-linecap="square" fill="none"/>
</g>
<ellipse cx="510.4" cy="523.8" rx="2.2" ry="8" fill="#1c1c90" opacity="0.55" filter="url(#bl4)"/>
<rect x="515.7" y="534.5" width="11.3" height="1.8" fill="#f2f2f2" stroke="none" stroke-width="1" />
<text x="534.3" y="546.5" font-size="10.1" text-anchor="end" font-weight="normal" fill="#f4f4f4" stroke="#f4f4f4" stroke-width="0.45">200 μm</text>
<text x="300.4" y="525.7" font-size="9.45" text-anchor="middle" font-weight="normal" fill="#161616" transform="rotate(-90 300.4 525.7)"  stroke="#161616" stroke-width="0.36">125b inhibitor</text>
<text x="564.3" y="183.7" font-size="22" text-anchor="start" font-weight="bold" fill="#000"  stroke="#000" stroke-width="0.44">F</text>
<path d="M627.6,185.3V276.5" fill="none" stroke="#161616" stroke-width="1.2" />
<path d="M627.0,276.5H765.2" fill="none" stroke="#161616" stroke-width="1.2" />
<text x="623.0" y="278.8" font-size="6.4" text-anchor="end" font-weight="bold" fill="#222"  stroke="#222" stroke-width="0.13">0.0</text>
<text x="623.0" y="256.0" font-size="6.4" text-anchor="end" font-weight="bold" fill="#222"  stroke="#222" stroke-width="0.13">0.5</text>
<text x="623.0" y="233.2" font-size="6.4" text-anchor="end" font-weight="bold" fill="#222"  stroke="#222" stroke-width="0.13">1.0</text>
<text x="623.0" y="210.4" font-size="6.4" text-anchor="end" font-weight="bold" fill="#222"  stroke="#222" stroke-width="0.13">1.5</text>
<text x="623.0" y="187.6" font-size="6.4" text-anchor="end" font-weight="bold" fill="#222"  stroke="#222" stroke-width="0.13">2.0</text>
<path d="M624.4,276.5H627.6M624.4,253.7H627.6M624.4,230.9H627.6M624.4,208.1H627.6M624.4,185.3H627.6M645.20,276.5v4.5M679.30,276.5v4.5M713.50,276.5v4.5M747.80,276.5v4.5" fill="none" stroke="#161616" stroke-width="1.1" />
<rect x="633.5" y="228.2" width="23.1" height="48.3" fill="url(#ph)" stroke="none" stroke-width="1" />
<path d="M633.50,276.50V228.20H656.60V276.50" fill="none" stroke="#161616" stroke-width="1.45" />
<path d="M645.05,228.20V223.10M639.75,223.10H650.35" fill="none" stroke="#161616" stroke-width="1.3" />
<rect x="667.7" y="259.1" width="23.1" height="17.4" fill="url(#pc)" stroke="none" stroke-width="1" />
<path d="M667.70,276.50V259.10H690.80V276.50" fill="none" stroke="#161616" stroke-width="1.45" />
<path d="M679.25,259.10V256.30M673.95,256.30H684.55" fill="none" stroke="#161616" stroke-width="1.3" />
<rect x="702" y="223.5" width="22.9" height="53.0" fill="url(#pv)" stroke="none" stroke-width="1" />
<path d="M702.00,276.50V223.50H724.90V276.50" fill="none" stroke="#161616" stroke-width="1.45" />
<path d="M713.45,223.50V213.60M708.15,213.60H718.75" fill="none" stroke="#161616" stroke-width="1.3" />
<rect x="736.6" y="206.5" width="22.3" height="70.0" fill="url(#pg)" stroke="none" stroke-width="1" />
<path d="M736.60,276.50V206.50H758.90V276.50" fill="none" stroke="#161616" stroke-width="1.45" />
<path d="M747.75,206.50V199.70M742.45,199.70H753.05" fill="none" stroke="#161616" stroke-width="1.3" />
<line x1="647.2" y1="192.5" x2="678.4" y2="192.5" stroke="#333" stroke-width="1.25" />
<text x="662.8" y="193.1" font-size="6.6" text-anchor="middle" font-weight="bold" fill="#333"  stroke="#333" stroke-width="0.13">****</text>
<line x1="713.2" y1="192.5" x2="748" y2="192.5" stroke="#333" stroke-width="1.25" />
<text x="730.6" y="193.1" font-size="6.6" text-anchor="middle" font-weight="bold" fill="#333"  stroke="#333" stroke-width="0.13">*</text>
<text x="648.5" y="287.5" font-size="13.1" text-anchor="end" font-weight="normal" fill="#161616" transform="rotate(-36.5 648.5 287.5)"  stroke="#161616" stroke-width="0.50">NC mimic</text>
<text x="682.5" y="287.8" font-size="13.1" text-anchor="end" font-weight="normal" fill="#161616" transform="rotate(-36.5 682.5 287.8)"  stroke="#161616" stroke-width="0.50">125a mimic</text>
<text x="717" y="288.1" font-size="13.1" text-anchor="end" font-weight="normal" fill="#161616" transform="rotate(-36.5 717 288.1)"  stroke="#161616" stroke-width="0.50">NC inhibitor</text>
<text x="751.5" y="288.5" font-size="13.1" text-anchor="end" font-weight="normal" fill="#161616" transform="rotate(-36.5 751.5 288.5)"  stroke="#161616" stroke-width="0.50">125a inhibitor</text>
<path d="M627.6,347.2V438.4" fill="none" stroke="#161616" stroke-width="1.2" />
<path d="M627.0,438.4H765.2" fill="none" stroke="#161616" stroke-width="1.2" />
<text x="623.0" y="440.7" font-size="6.4" text-anchor="end" font-weight="bold" fill="#222"  stroke="#222" stroke-width="0.13">0.0</text>
<text x="623.0" y="417.9" font-size="6.4" text-anchor="end" font-weight="bold" fill="#222"  stroke="#222" stroke-width="0.13">0.5</text>
<text x="623.0" y="395.1" font-size="6.4" text-anchor="end" font-weight="bold" fill="#222"  stroke="#222" stroke-width="0.13">1.0</text>
<text x="623.0" y="372.3" font-size="6.4" text-anchor="end" font-weight="bold" fill="#222"  stroke="#222" stroke-width="0.13">1.5</text>
<text x="623.0" y="349.5" font-size="6.4" text-anchor="end" font-weight="bold" fill="#222"  stroke="#222" stroke-width="0.13">2.0</text>
<path d="M624.4,438.4H627.6M624.4,415.6H627.6M624.4,392.8H627.6M624.4,370.0H627.6M624.4,347.2H627.6M645.20,438.4v4.5M679.30,438.4v4.5M713.50,438.4v4.5M747.80,438.4v4.5" fill="none" stroke="#161616" stroke-width="1.1" />
<rect x="633.5" y="389.7" width="23.1" height="48.7" fill="url(#ph)" stroke="none" stroke-width="1" />
<path d="M633.50,438.40V389.70H656.60V438.40" fill="none" stroke="#161616" stroke-width="1.45" />
<path d="M645.05,389.70V384.70M639.75,384.70H650.35" fill="none" stroke="#161616" stroke-width="1.3" />
<rect x="667.7" y="418.5" width="23.1" height="19.9" fill="url(#pc)" stroke="none" stroke-width="1" />
<path d="M667.70,438.40V418.50H690.80V438.40" fill="none" stroke="#161616" stroke-width="1.45" />
<path d="M679.25,418.50V415.80M673.95,415.80H684.55" fill="none" stroke="#161616" stroke-width="1.3" />
<rect x="702" y="385.3" width="22.9" height="53.1" fill="url(#pv)" stroke="none" stroke-width="1" />
<path d="M702.00,438.40V385.30H724.90V438.40" fill="none" stroke="#161616" stroke-width="1.45" />
<path d="M713.45,385.30V375.40M708.15,375.40H718.75" fill="none" stroke="#161616" stroke-width="1.3" />
<rect x="736.6" y="368.1" width="22.3" height="70.3" fill="url(#pg)" stroke="none" stroke-width="1" />
<path d="M736.60,438.40V368.10H758.90V438.40" fill="none" stroke="#161616" stroke-width="1.45" />
<path d="M747.75,368.10V361.20M742.45,361.20H753.05" fill="none" stroke="#161616" stroke-width="1.3" />
<line x1="647.2" y1="354.4" x2="678.4" y2="354.4" stroke="#333" stroke-width="1.25" />
<text x="662.8" y="355.0" font-size="6.6" text-anchor="middle" font-weight="bold" fill="#333"  stroke="#333" stroke-width="0.13">****</text>
<line x1="713.2" y1="354.4" x2="748" y2="354.4" stroke="#333" stroke-width="1.25" />
<text x="730.6" y="355.0" font-size="6.6" text-anchor="middle" font-weight="bold" fill="#333"  stroke="#333" stroke-width="0.13">*</text>
<text x="648.5" y="449.4" font-size="13.1" text-anchor="end" font-weight="normal" fill="#161616" transform="rotate(-36.5 648.5 449.4)"  stroke="#161616" stroke-width="0.50">NC mimic</text>
<text x="682.5" y="449.7" font-size="13.1" text-anchor="end" font-weight="normal" fill="#161616" transform="rotate(-36.5 682.5 449.7)"  stroke="#161616" stroke-width="0.50">125b mimic</text>
<text x="717" y="450.0" font-size="13.1" text-anchor="end" font-weight="normal" fill="#161616" transform="rotate(-36.5 717 450.0)"  stroke="#161616" stroke-width="0.50">NC inhibitor</text>
<text x="751.5" y="450.4" font-size="13.1" text-anchor="end" font-weight="normal" fill="#161616" transform="rotate(-36.5 751.5 450.4)"  stroke="#161616" stroke-width="0.50">125b inhibitor</text>
<text x="590.32" y="231.5" font-size="13.1" text-anchor="middle" font-weight="normal" fill="#161616" transform="rotate(-90 590.32 231.5)"  stroke="#161616" stroke-width="0.50">Relative Edu positive</text>
<text x="607.85" y="228.5" font-size="13.2" text-anchor="middle" font-weight="normal" fill="#161616" transform="rotate(-90 607.85 228.5)"  stroke="#161616" stroke-width="0.50">cell number</text>
<text x="593.32" y="392.5" font-size="13.1" text-anchor="middle" font-weight="normal" fill="#161616" transform="rotate(-90 593.32 392.5)"  stroke="#161616" stroke-width="0.50">Relative Edu positive</text>
<text x="610.95" y="389.5" font-size="13.2" text-anchor="middle" font-weight="normal" fill="#161616" transform="rotate(-90 610.95 389.5)"  stroke="#161616" stroke-width="0.50">cell number</text>
<defs><filter id="bl2" x="-20%" y="-20%" width="140%" height="140%"><feGaussianBlur stdDeviation="0.55"/></filter></defs>
<text x="2.1" y="537.9" font-size="22" text-anchor="start" font-weight="bold" fill="#000"  stroke="#000" stroke-width="0.44">G</text>
<text x="79.2" y="545.4" font-size="13" text-anchor="middle" font-weight="normal" fill="#161616"  stroke="#161616" stroke-width="0.49">NC mimic</text>
<text x="171.3" y="545.4" font-size="13" text-anchor="middle" font-weight="normal" fill="#161616"  stroke="#161616" stroke-width="0.49">125a mimic</text>
<text x="80" y="653" font-size="13.1" text-anchor="middle" font-weight="normal" fill="#161616"  stroke="#161616" stroke-width="0.50">NC inhibitor</text>
<text x="171.7" y="653" font-size="13" text-anchor="middle" font-weight="normal" fill="#161616"  stroke="#161616" stroke-width="0.49">125a inhibitor</text>
<rect x="39.7" y="552.6" width="77.3" height="72.8" fill="#fff" stroke="#a4a4a4" stroke-width="0.9" />
<path d="M84.6,552.6V625.4M39.7,581.1H117" fill="none" stroke="#707070" stroke-width="1.2" />
<path d="M37.5,553.6h2.2M40.7,625.4v2.2M37.5,563.7h2.2M51.5,625.4v2.2M37.5,573.8h2.2M62.2,625.4v2.2M37.5,583.9h2.2M73.0,625.4v2.2M37.5,594.1h2.2M83.7,625.4v2.2M37.5,604.2h2.2M94.5,625.4v2.2M37.5,614.3h2.2M105.2,625.4v2.2M37.5,624.4h2.2M116.0,625.4v2.2" fill="none" stroke="#9a9a9a" stroke-width="0.7" />
<path d="M34.1,553.0h2.2M39.1,630.0h2.4M34.1,563.1h2.2M49.9,630.0h2.4M34.1,573.2h2.2M60.6,630.0h2.4M34.1,583.3h2.2M71.4,630.0h2.4M34.1,593.5h2.2M82.1,630.0h2.4M34.1,603.6h2.2M92.9,630.0h2.4M34.1,613.7h2.2M103.6,630.0h2.4M34.1,623.8h2.2M114.4,630.0h2.4" fill="none" stroke="#c4c4c4" stroke-width="1.2" />
<line x1="30.5" y1="580.0" x2="30.5" y2="598.0" stroke="#c2c2c2" stroke-width="1.1" />
<line x1="67.35" y1="635.6" x2="89.35" y2="635.6" stroke="#bcbcbc" stroke-width="1.2" />
<g filter="url(#bl2)">
<path d="M69.7,601.8h0M84.4,585.1h0M67.2,599.8h0M86.1,596.9h0M63.6,592.3h0M85.7,592.2h0M94.2,590.7h0M76.4,592.2h0M98.0,578.0h0M67.6,590.9h0M79.5,593.5h0M75.2,594.7h0M83.0,595.7h0M87.9,588.6h0M66.3,606.6h0M66.1,599.7h0M66.3,601.0h0M72.7,598.5h0M104.8,575.6h0M80.2,581.3h0M78.3,598.5h0M78.8,595.8h0M75.3,587.0h0M79.8,585.6h0M91.5,580.5h0M83.8,589.6h0M83.7,584.8h0M85.8,587.2h0M90.7,590.1h0M76.5,588.0h0M86.1,591.8h0M90.1,582.4h0M84.6,593.2h0M81.3,592.9h0M77.5,588.8h0M68.5,596.3h0M88.6,598.7h0M90.0,594.0h0M87.1,593.1h0M82.5,596.6h0M91.4,582.0h0M79.8,608.0h0M83.8,597.4h0M81.1,582.2h0M104.5,590.5h0M82.4,596.5h0M76.0,587.5h0M78.7,595.9h0M89.9,591.4h0M83.7,600.6h0M75.0,601.7h0M86.1,585.7h0M60.4,597.5h0M82.1,594.9h0M87.0,579.4h0M80.6,596.9h0M68.2,580.6h0M93.2,602.1h0M83.0,582.7h0M75.7,596.6h0" stroke="#a8b8f2" stroke-width="0.9" stroke-linecap="square" fill="none"/>
<path d="M92.8,586.8h0M82.3,598.2h0M82.0,600.0h0M73.5,593.9h0M85.2,595.7h0M82.3,592.0h0M67.0,597.0h0M73.8,593.4h0M80.5,590.0h0M82.5,590.8h0M76.7,594.8h0M82.4,594.7h0M75.1,594.0h0M74.6,603.5h0M85.5,587.6h0M72.9,590.5h0M79.6,593.3h0M90.3,586.6h0M68.6,587.3h0M86.1,589.0h0M70.1,599.4h0M77.6,610.9h0M85.4,591.4h0M72.4,586.3h0M74.0,588.2h0M76.5,583.7h0M76.2,600.6h0M84.2,583.4h0M72.1,601.5h0M80.5,586.8h0M73.0,593.2h0M70.4,594.9h0M86.4,591.3h0M88.9,585.8h0M75.3,590.2h0M74.6,589.0h0M70.4,601.7h0M87.7,591.2h0M85.8,589.5h0M74.6,596.0h0M73.7,590.6h0M65.9,593.8h0M78.5,593.7h0M78.9,599.8h0M80.5,594.6h0M82.8,586.2h0M69.5,602.6h0M77.5,600.1h0M82.3,595.6h0M77.5,583.3h0M80.5,588.4h0M73.2,594.3h0M84.3,593.6h0M79.8,583.9h0M69.7,586.9h0M79.0,595.6h0M74.7,596.7h0M81.7,595.9h0M72.0,593.1h0M78.1,601.9h0M83.7,589.0h0M79.7,592.8h0M78.8,591.8h0M73.6,590.0h0M78.5,601.2h0M81.2,591.6h0M77.2,594.2h0M78.6,589.7h0M79.8,593.4h0M72.5,593.0h0M70.5,592.9h0M77.6,581.9h0M75.4,592.0h0M75.1,595.7h0M84.3,589.6h0M76.1,591.5h0M79.6,596.8h0M73.5,590.6h0M69.0,593.7h0M73.3,601.8h0M79.5,591.2h0M84.4,585.9h0M84.0,593.4h0M66.5,593.1h0M75.4,599.5h0M82.3,584.5h0M82.9,588.3h0M74.9,592.6h0M72.4,588.0h0M70.1,592.3h0M85.5,598.8h0M91.9,582.7h0M68.2,597.7h0M77.7,603.3h0M79.6,588.7h0M84.4,591.9h0M68.4,596.9h0M77.0,594.1h0M78.1,591.6h0M77.9,590.5h0M76.9,601.6h0M81.1,593.5h0M69.4,598.1h0M79.6,585.9h0M83.1,588.1h0M80.0,591.4h0M82.1,596.6h0M79.6,600.0h0M72.0,592.6h0M79.5,587.0h0M78.3,597.6h0M80.6,582.9h0M85.1,598.0h0M84.0,588.3h0M74.4,594.2h0M71.5,596.2h0M76.9,593.3h0M83.9,588.3h0M72.9,601.9h0M71.5,595.3h0M76.7,592.5h0M72.3,595.8h0M88.4,583.6h0M80.0,597.6h0M83.9,593.3h0M78.3,583.4h0M73.9,596.6h0M83.8,596.0h0M80.1,590.8h0M77.9,592.3h0M81.0,594.7h0M74.6,591.5h0M76.2,600.0h0M87.2,592.3h0M84.6,593.2h0M79.7,595.5h0M72.2,596.1h0M76.0,598.3h0M74.9,594.8h0M83.4,596.6h0M71.9,592.6h0M80.0,586.5h0M79.3,589.7h0M73.5,587.2h0M80.8,589.0h0M78.2,603.5h0M89.9,603.0h0M79.6,590.6h0M82.4,598.4h0M79.1,594.9h0" stroke="#5a7aea" stroke-width="1.0" stroke-linecap="square" fill="none"/>
<path d="M84.0,578.1h0M78.2,590.3h0M81.0,593.6h0M89.3,574.3h0M84.6,578.4h0M86.4,579.3h0M83.5,589.1h0M83.4,580.7h0M82.7,591.8h0M89.8,572.7h0M82.7,588.2h0M85.7,579.6h0M81.9,582.8h0M78.7,585.2h0M78.0,588.3h0M84.0,584.7h0M89.2,581.9h0M86.0,571.5h0M83.1,581.3h0M88.4,581.0h0M85.3,583.5h0M87.8,574.4h0M90.5,572.0h0M87.1,574.4h0M88.3,578.8h0M86.2,582.3h0M84.5,577.9h0M87.5,571.9h0M83.4,577.5h0M86.6,583.5h0M86.7,570.9h0M77.3,587.0h0M81.6,586.2h0M80.9,587.6h0M84.4,584.0h0M87.3,580.8h0" stroke="#7a94ee" stroke-width="1.0" stroke-linecap="square" fill="none"/>
<path d="M103.0,572.8h0M90.4,571.3h0M75.5,568.7h0M110.7,575.9h0M94.9,577.3h0M94.6,577.6h0M86.4,572.0h0M98.6,571.4h0M76.0,572.0h0M83.7,575.7h0M81.9,568.2h0M85.7,580.0h0M88.5,573.7h0M89.1,574.3h0M98.1,579.3h0M72.9,579.1h0M89.0,571.6h0M112.5,572.2h0M108.1,577.3h0M78.9,575.2h0M96.2,572.4h0M66.2,571.5h0M87.1,568.0h0M106.9,571.9h0M85.1,571.7h0M81.3,569.5h0M89.9,574.4h0M84.0,572.6h0M75.4,575.3h0M81.7,574.0h0M80.1,570.7h0M91.1,567.6h0M113.2,572.8h0M88.3,569.7h0M104.6,579.2h0" stroke="#a8b8f2" stroke-width="0.9" stroke-linecap="square" fill="none"/>
<path d="M91.1,568.6h0M85.5,575.0h0M85.4,569.2h0M80.7,570.5h0M89.1,570.9h0M89.1,581.9h0M101.4,569.7h0M91.4,573.3h0M88.0,576.3h0M86.7,572.0h0M86.4,572.7h0M98.0,575.5h0M79.6,571.6h0M83.4,575.6h0M90.6,575.8h0M88.6,566.9h0M92.2,573.7h0M92.6,568.8h0M89.6,570.8h0M84.2,574.1h0M91.5,570.1h0M77.0,565.1h0M85.0,576.6h0M88.6,565.8h0M83.0,574.3h0M100.7,576.7h0M91.6,573.6h0M81.6,571.6h0M86.7,570.5h0M89.4,571.7h0M91.4,577.6h0M94.2,574.3h0M87.3,568.1h0M88.2,574.7h0M81.9,577.0h0M86.7,574.2h0M86.7,569.0h0M103.5,569.3h0M95.4,571.2h0M91.0,570.4h0M86.1,575.9h0M102.6,570.3h0M89.1,576.0h0M84.6,575.3h0M83.5,574.9h0M92.1,576.9h0M91.5,569.2h0M93.7,569.5h0M94.3,577.8h0M93.2,571.2h0M97.3,573.5h0M80.3,571.9h0M98.9,572.0h0M89.9,571.9h0M77.2,571.4h0M91.5,573.7h0M87.8,566.2h0M97.6,575.3h0M96.2,577.2h0M85.9,571.1h0M91.2,578.4h0M77.2,572.3h0M84.0,574.8h0M99.3,572.1h0M80.3,573.2h0M87.0,568.1h0M95.2,571.3h0M93.8,568.8h0M96.7,568.4h0M96.4,567.2h0" stroke="#6f8cec" stroke-width="1.0" stroke-linecap="square" fill="none"/>
</g>
<g transform="rotate(-33 78.2 593.2)" filter="url(#bl2)">
<ellipse cx="78.2" cy="593.2" rx="8.82" ry="5.46" fill="#4163e6"/>
<ellipse cx="78.2" cy="593.2" rx="7.35" ry="4.55" fill="#2e8fe0"/>
<ellipse cx="78.2" cy="593.2" rx="6.09" ry="3.77" fill="#28b8c8"/>
<ellipse cx="78.2" cy="593.2" rx="4.83" ry="2.99" fill="#3acb7c"/>
<ellipse cx="78.2" cy="593.2" rx="3.57" ry="2.21" fill="#a4da38"/>
<ellipse cx="78.2" cy="593.2" rx="2.52" ry="1.56" fill="#f2d222"/>
<ellipse cx="78.2" cy="593.2" rx="1.68" ry="1.04" fill="#f08a1c"/>
<ellipse cx="78.2" cy="593.2" rx="0.84" ry="0.52" fill="#e63a1a"/>
</g>
<text x="41.5" y="561.1" font-size="8.2" text-anchor="start" font-weight="normal" fill="#1c1c1c"  stroke="#1c1c1c" stroke-width="0.31">Q1</text>
<text x="41.5" y="569.7" font-size="8.2" text-anchor="start" font-weight="normal" fill="#1c1c1c"  stroke="#1c1c1c" stroke-width="0.31">3.06</text>
<text x="111.6" y="559.8" font-size="8.2" text-anchor="end" font-weight="normal" fill="#1c1c1c"  stroke="#1c1c1c" stroke-width="0.31">Q2</text>
<text x="116.5" y="567.5" font-size="8.2" text-anchor="end" font-weight="normal" fill="#1c1c1c"  stroke="#1c1c1c" stroke-width="0.31">5.79</text>
<text x="41.5" y="613.6" font-size="8.2" text-anchor="start" font-weight="normal" fill="#1c1c1c"  stroke="#1c1c1c" stroke-width="0.31">Q4</text>
<text x="41.5" y="622.5" font-size="8.2" text-anchor="start" font-weight="normal" fill="#1c1c1c"  stroke="#1c1c1c" stroke-width="0.31">83.7</text>
<text x="111.6" y="613.6" font-size="8.2" text-anchor="end" font-weight="normal" fill="#1c1c1c"  stroke="#1c1c1c" stroke-width="0.31">Q3</text>
<text x="117.2" y="622.5" font-size="8.2" text-anchor="end" font-weight="normal" fill="#1c1c1c"  stroke="#1c1c1c" stroke-width="0.31">7.44</text>
<rect x="134" y="552.8" width="77.4" height="72.6" fill="#fff" stroke="#a4a4a4" stroke-width="0.9" />
<path d="M178.6,552.8V625.4M134,581.3H211.4" fill="none" stroke="#707070" stroke-width="1.2" />
<path d="M131.8,553.8h2.2M135.0,625.4v2.2M131.8,563.9h2.2M145.8,625.4v2.2M131.8,574.0h2.2M156.5,625.4v2.2M131.8,584.1h2.2M167.3,625.4v2.2M131.8,594.1h2.2M178.1,625.4v2.2M131.8,604.2h2.2M188.9,625.4v2.2M131.8,614.3h2.2M199.6,625.4v2.2M131.8,624.4h2.2M210.4,625.4v2.2" fill="none" stroke="#9a9a9a" stroke-width="0.7" />
<path d="M128.4,553.2h2.2M133.4,630.0h2.4M128.4,563.3h2.2M144.2,630.0h2.4M128.4,573.4h2.2M154.9,630.0h2.4M128.4,583.5h2.2M165.7,630.0h2.4M128.4,593.5h2.2M176.5,630.0h2.4M128.4,603.6h2.2M187.3,630.0h2.4M128.4,613.7h2.2M198.0,630.0h2.4M128.4,623.8h2.2M208.8,630.0h2.4" fill="none" stroke="#c4c4c4" stroke-width="1.2" />
<line x1="124.8" y1="580.1" x2="124.8" y2="598.1" stroke="#c2c2c2" stroke-width="1.1" />
<line x1="161.7" y1="635.6" x2="183.7" y2="635.6" stroke="#bcbcbc" stroke-width="1.2" />
<g filter="url(#bl2)">
<path d="M182.9,583.5h0M159.6,599.8h0M172.2,585.5h0M170.1,597.0h0M160.4,576.4h0M171.2,597.6h0M179.2,597.1h0M176.9,611.0h0M180.7,590.5h0M185.4,592.6h0M171.6,588.8h0M183.0,589.9h0M153.7,596.6h0M177.3,591.1h0M177.7,595.1h0M180.1,601.1h0M166.9,593.7h0M178.5,595.4h0M185.0,597.2h0M173.5,602.0h0M173.1,584.5h0M179.7,605.4h0M177.7,586.1h0M151.0,601.4h0M167.7,597.0h0M194.6,585.0h0M172.2,586.0h0M162.7,598.0h0M180.4,612.4h0M167.6,591.5h0M182.5,587.4h0M167.8,606.7h0M165.7,587.0h0M177.5,594.0h0M172.9,598.6h0M176.5,583.6h0M147.6,590.2h0M176.6,600.5h0M186.3,595.5h0M188.2,583.2h0M176.0,578.7h0M180.1,591.5h0M170.7,590.9h0M164.6,599.6h0M182.1,584.1h0M175.0,586.3h0M171.4,585.9h0M175.4,589.7h0M173.4,587.8h0M162.4,597.2h0M187.3,596.4h0M173.4,599.1h0M180.7,591.1h0M161.7,602.9h0M169.6,604.7h0M181.8,592.3h0M154.8,609.8h0M174.1,582.0h0M181.2,588.2h0M169.0,589.8h0" stroke="#a8b8f2" stroke-width="0.9" stroke-linecap="square" fill="none"/>
<path d="M166.7,594.9h0M189.9,583.0h0M172.7,589.9h0M168.6,593.1h0M170.4,599.0h0M173.6,596.8h0M169.1,600.1h0M174.5,595.3h0M170.5,590.2h0M178.5,587.2h0M170.3,590.3h0M173.3,590.8h0M175.4,593.1h0M166.3,590.3h0M177.5,594.6h0M174.2,586.5h0M177.2,592.2h0M175.6,593.4h0M171.9,594.8h0M176.9,588.0h0M165.3,597.5h0M170.0,585.8h0M170.9,597.3h0M172.5,593.7h0M168.5,600.4h0M181.9,586.2h0M166.6,591.4h0M178.0,590.2h0M171.7,599.9h0M178.5,592.4h0M163.6,598.6h0M173.6,586.5h0M181.2,594.7h0M176.9,586.8h0M171.5,598.6h0M181.1,593.8h0M179.2,588.4h0M166.7,587.8h0M182.4,598.2h0M169.6,592.8h0M177.4,592.0h0M164.2,595.1h0M171.9,603.7h0M171.2,598.3h0M187.5,592.9h0M184.3,593.7h0M165.8,595.9h0M168.6,594.4h0M183.1,578.0h0M173.2,586.7h0M183.1,592.8h0M175.1,601.9h0M176.4,597.2h0M173.5,589.9h0M170.8,593.8h0M176.6,591.2h0M185.1,584.1h0M169.0,592.0h0M165.7,590.5h0M169.9,599.4h0M173.0,592.1h0M177.4,595.4h0M178.1,593.5h0M169.6,593.9h0M168.8,595.2h0M167.9,594.4h0M171.7,592.7h0M170.6,592.1h0M179.2,587.2h0M168.2,597.0h0M164.9,592.9h0M169.8,586.8h0M156.7,605.0h0M174.8,583.5h0M169.7,598.0h0M160.6,596.7h0M166.3,596.3h0M164.7,602.8h0M173.0,594.5h0M166.6,586.6h0M169.3,588.7h0M171.2,589.9h0M170.9,593.3h0M178.9,592.9h0M167.8,596.3h0M181.9,589.6h0M169.0,595.0h0M173.4,597.4h0M174.1,594.1h0M181.7,580.5h0M163.8,590.3h0M166.6,601.4h0M178.3,597.6h0M160.7,596.6h0M183.1,591.5h0M179.7,592.9h0M173.2,592.8h0M175.2,595.7h0M173.0,594.6h0M178.2,584.0h0M170.4,597.4h0M171.4,593.3h0M185.1,587.2h0M173.4,598.2h0M183.9,580.4h0M169.8,595.6h0M174.7,602.7h0M175.0,589.7h0M173.9,588.4h0M170.1,595.3h0M180.6,576.9h0M178.4,596.2h0M181.4,597.1h0M175.8,591.9h0M170.5,590.4h0M179.1,583.2h0M171.3,591.5h0M163.9,587.8h0M171.4,594.7h0M175.8,595.4h0M170.8,591.2h0M176.2,594.2h0M164.9,590.7h0M170.1,600.1h0M176.4,586.4h0M175.6,595.4h0M178.6,586.0h0M175.0,598.6h0M189.3,590.0h0M168.1,598.4h0M171.4,593.7h0M168.5,593.5h0M177.1,599.2h0M177.8,592.0h0M171.5,590.2h0M174.7,598.0h0M181.9,596.9h0M174.4,591.9h0M165.5,599.8h0M167.4,604.1h0M169.8,595.1h0M164.8,595.8h0M170.7,600.0h0M171.7,587.9h0M162.7,599.3h0M168.0,590.7h0M175.8,590.2h0M172.4,590.5h0M169.0,593.3h0M166.1,600.6h0" stroke="#5a7aea" stroke-width="1.0" stroke-linecap="square" fill="none"/>
<path d="M182.0,575.6h0M179.5,585.6h0M182.0,582.8h0M177.0,576.3h0M176.5,587.6h0M176.9,583.2h0M177.2,584.9h0M180.2,574.1h0M181.8,578.8h0M179.3,585.7h0M178.4,579.8h0M183.3,583.2h0M176.1,588.8h0M182.6,575.0h0M173.4,590.4h0M177.2,586.4h0M179.4,574.6h0M172.4,588.9h0M175.3,594.9h0M174.5,589.2h0M178.9,583.6h0M183.8,569.8h0M176.6,589.7h0M171.8,587.6h0M174.7,590.5h0M182.2,580.9h0M182.3,580.5h0M182.7,576.3h0M180.4,576.4h0M179.3,579.6h0M175.8,588.0h0M180.3,582.7h0M174.7,587.1h0M181.9,582.7h0M182.9,578.7h0M174.6,586.6h0M178.5,585.8h0M173.1,589.5h0M180.7,581.0h0M177.9,586.6h0M180.6,572.2h0M173.9,592.0h0M176.8,587.2h0M180.7,577.6h0M178.2,584.5h0M175.5,587.3h0M175.0,586.5h0M175.4,585.9h0M180.4,577.1h0M175.8,590.8h0M174.9,587.0h0M176.1,588.7h0M177.0,586.7h0M176.6,578.0h0M182.3,578.1h0M183.5,579.2h0M184.8,577.9h0M176.1,585.5h0M177.8,583.8h0M176.8,586.6h0M178.3,587.8h0M180.5,585.8h0M178.5,587.5h0M180.1,586.1h0M177.6,577.5h0M173.2,591.3h0M174.6,589.5h0M176.9,580.6h0M177.5,585.4h0M179.9,582.4h0M176.3,584.4h0M174.7,578.2h0" stroke="#7a94ee" stroke-width="1.0" stroke-linecap="square" fill="none"/>
<path d="M179.2,580.1h0M191.6,570.3h0M178.6,567.8h0M179.1,577.4h0M181.9,585.4h0M187.1,569.9h0M184.7,573.1h0M187.4,579.5h0M181.8,579.4h0M186.3,573.5h0M184.8,578.2h0M181.9,569.9h0M189.8,574.0h0M180.6,576.8h0M176.2,574.4h0M176.8,571.4h0M174.7,569.7h0M188.0,572.9h0M177.5,584.5h0M180.4,583.0h0M180.9,565.2h0M192.7,571.4h0M187.3,581.2h0M177.0,574.5h0M180.7,577.7h0M183.5,566.4h0M183.8,578.6h0M182.1,577.4h0M180.9,573.7h0M185.3,574.9h0M189.8,579.8h0M187.7,578.4h0M184.3,567.0h0M188.8,584.5h0M184.6,572.5h0M183.4,581.3h0M184.9,568.1h0M182.7,569.4h0M182.5,568.6h0M179.2,583.0h0M188.7,564.3h0M178.7,571.4h0M181.6,565.7h0M187.9,564.3h0M187.0,578.2h0M181.7,570.1h0M183.8,574.9h0M173.2,566.5h0M186.2,573.4h0M181.5,568.1h0M180.1,569.4h0M197.3,566.5h0M191.1,576.9h0M184.6,575.2h0M181.7,583.7h0M186.0,573.9h0M182.9,575.3h0M177.9,572.1h0M180.5,577.8h0M186.5,562.8h0M182.4,580.0h0M177.2,566.9h0M188.5,573.3h0M181.3,566.7h0M184.4,570.7h0M184.6,576.6h0M187.0,572.1h0M181.0,574.2h0M183.1,575.1h0M180.9,572.6h0M180.7,570.5h0M184.3,581.0h0M180.9,577.6h0M185.2,574.7h0M186.9,570.7h0M186.3,575.8h0M166.3,576.2h0M186.5,585.8h0M178.3,574.6h0M185.3,568.2h0M189.5,576.8h0M179.6,566.8h0M181.5,588.4h0M194.2,559.1h0M174.6,578.1h0M183.0,570.2h0M186.5,574.6h0M185.0,575.6h0M178.2,582.0h0M181.3,580.9h0M187.0,574.3h0M184.2,573.8h0M174.4,572.1h0M185.7,564.3h0M176.2,580.6h0M187.5,564.7h0M185.8,573.7h0M188.4,572.1h0M182.4,569.5h0M184.4,573.3h0M180.3,571.9h0M179.8,577.8h0M178.4,564.6h0M178.8,580.6h0M181.0,578.0h0M187.2,571.0h0M187.3,577.1h0M183.3,569.8h0M183.2,566.3h0M182.2,570.5h0M185.7,576.1h0M180.3,579.3h0M189.4,574.4h0M179.9,577.1h0M171.4,570.5h0M186.4,586.2h0M179.9,583.3h0M195.1,585.5h0M171.8,580.7h0M184.5,580.2h0M182.6,570.3h0M182.4,583.2h0M187.7,572.2h0M185.4,579.3h0M186.3,573.8h0M180.2,569.5h0M181.3,570.7h0M175.7,565.4h0M187.9,567.2h0M177.0,573.8h0" stroke="#a8b8f2" stroke-width="0.9" stroke-linecap="square" fill="none"/>
<path d="M188.7,579.5h0M182.0,569.5h0M181.6,570.0h0M181.6,576.1h0M179.7,570.6h0M182.6,573.9h0M180.8,570.6h0M179.5,570.7h0M185.4,572.9h0M172.4,576.7h0M183.3,570.2h0M182.6,560.8h0M177.6,579.1h0M191.1,583.5h0M180.9,574.2h0M186.3,568.6h0M189.8,570.8h0M184.8,569.0h0M184.8,573.9h0M187.4,568.9h0M183.5,582.0h0M179.2,575.6h0M185.1,571.8h0M182.5,580.2h0M187.6,576.5h0M184.5,569.0h0M183.8,581.9h0M187.3,568.0h0M176.0,571.1h0M184.1,571.6h0M182.4,575.5h0M186.7,574.9h0M188.0,567.7h0M185.2,575.9h0M178.1,579.5h0M177.7,567.6h0M193.1,579.7h0M184.9,580.0h0M187.6,569.0h0M185.2,580.2h0M182.9,574.3h0M181.8,577.2h0M181.5,571.4h0M179.1,569.9h0M184.3,576.1h0M182.1,569.4h0M184.7,575.6h0M188.1,571.8h0M182.0,576.3h0M189.0,573.8h0M183.2,569.9h0M182.1,578.2h0M186.6,578.9h0M177.6,577.7h0M180.2,576.6h0M174.9,573.6h0M180.3,579.6h0M183.9,579.8h0M181.9,582.7h0M181.9,582.4h0M181.7,569.7h0M186.8,572.2h0M183.3,568.0h0M182.3,574.5h0M180.9,575.7h0M175.2,578.0h0M182.0,580.5h0M182.2,571.1h0M181.9,575.2h0M185.7,572.0h0M180.6,575.9h0M186.5,566.3h0M179.7,571.0h0M189.7,579.5h0M186.4,576.2h0M179.4,579.0h0M181.9,570.5h0M190.6,567.6h0M188.5,574.9h0M180.2,574.8h0M180.4,574.8h0M181.2,568.7h0M193.2,571.8h0M187.1,573.8h0M186.0,568.4h0M179.7,559.4h0M187.2,576.0h0M179.2,577.7h0M185.7,587.1h0M184.4,578.1h0M185.7,577.4h0M183.4,572.2h0M186.1,579.5h0M179.3,568.9h0M183.4,582.0h0M182.8,566.4h0M186.5,577.4h0M190.6,574.9h0M190.7,570.8h0M186.8,574.6h0M179.2,572.8h0M188.4,579.0h0M182.1,579.0h0M186.8,578.0h0M184.6,575.4h0M180.5,573.7h0M184.0,570.7h0M182.5,574.8h0M184.3,578.7h0M179.8,572.3h0M184.5,572.3h0M184.7,571.9h0M187.8,573.0h0M179.4,577.4h0M189.6,565.4h0M183.0,574.3h0M187.3,580.7h0M182.9,567.1h0M186.0,578.5h0M185.2,574.4h0M180.6,584.9h0M179.2,567.3h0M187.1,575.3h0M186.0,575.6h0M189.7,580.4h0M181.5,578.5h0M179.2,566.4h0M187.9,572.1h0M175.7,573.9h0M181.1,576.3h0M183.3,570.6h0M180.9,577.4h0M180.1,574.6h0M179.9,576.0h0M190.0,576.6h0M187.6,576.0h0M180.0,572.7h0M183.8,576.0h0M181.3,576.8h0M180.9,574.3h0M183.5,568.9h0M187.2,574.3h0M183.9,573.9h0M175.9,567.8h0M180.3,578.4h0M181.4,576.7h0M179.8,570.3h0M181.8,578.7h0M177.5,573.3h0M185.0,574.6h0M183.5,577.5h0M184.6,569.6h0M185.8,570.6h0M182.3,580.5h0M192.4,580.5h0M185.1,570.6h0M180.8,581.4h0M184.7,567.9h0M189.2,576.6h0M188.3,575.8h0M175.7,570.8h0M183.0,573.3h0M189.0,571.1h0M183.2,573.8h0M183.2,569.4h0M179.1,562.6h0M184.7,573.1h0M184.3,569.3h0M183.5,569.7h0M179.8,575.5h0M185.8,576.6h0M183.4,572.3h0M188.6,579.5h0M181.2,569.2h0M184.9,575.4h0M180.2,584.1h0M175.9,570.3h0M184.4,578.4h0M176.8,572.1h0M188.7,580.3h0M182.6,574.2h0M180.3,575.8h0M179.7,565.0h0M178.0,574.3h0M178.7,578.9h0M188.2,578.4h0M185.9,579.1h0M184.5,577.9h0M185.2,577.5h0M179.8,571.1h0M179.9,577.7h0M185.4,570.5h0M179.9,571.5h0M186.7,573.5h0M182.6,571.0h0M183.1,581.1h0M181.0,572.5h0M189.7,577.2h0M179.4,578.9h0M178.9,576.5h0M174.4,569.6h0M186.8,571.4h0M180.9,574.3h0M183.5,572.0h0M181.1,582.0h0M188.9,575.5h0M179.4,571.7h0M182.5,576.2h0M189.3,571.7h0M184.1,572.1h0M184.0,571.0h0M184.9,579.2h0M182.1,572.6h0M183.9,568.2h0M190.1,568.1h0M182.2,570.1h0M189.0,571.9h0M181.7,582.4h0M183.1,570.6h0M183.5,574.9h0M180.8,573.2h0M182.8,577.2h0M186.3,577.7h0M183.1,577.6h0M182.8,579.2h0M185.0,572.1h0M188.0,567.3h0M180.0,570.5h0M183.1,568.6h0M179.2,565.7h0M183.9,570.6h0M191.5,577.5h0M179.4,579.9h0M183.9,578.8h0M179.5,579.2h0M187.5,572.2h0M180.4,572.4h0M184.5,584.7h0M190.1,580.7h0M182.7,572.6h0M184.9,572.8h0M181.8,573.1h0M186.6,573.7h0M184.4,572.9h0M182.8,572.6h0M188.1,575.1h0M188.9,573.3h0M187.4,567.9h0M182.1,573.8h0M181.2,573.5h0M180.2,573.3h0M181.1,574.0h0M182.5,569.6h0M182.0,574.2h0M178.9,574.5h0M188.1,573.0h0M185.5,576.8h0M180.6,579.9h0M192.6,569.5h0M191.3,570.9h0" stroke="#6f8cec" stroke-width="1.0" stroke-linecap="square" fill="none"/>
<path d="M186.2,570.0h0M185.6,574.3h0M181.2,572.2h0M181.6,572.0h0M184.2,573.6h0M179.0,573.3h0M184.4,574.2h0M186.6,570.0h0M184.0,574.1h0M184.8,571.1h0M181.1,573.6h0M183.7,570.0h0M184.2,574.0h0M184.8,568.2h0M184.4,572.1h0M182.6,575.7h0M186.6,574.4h0M183.3,576.9h0M181.9,573.7h0M182.6,571.8h0M183.9,578.5h0M184.0,575.1h0M183.5,576.5h0M183.8,572.1h0M183.7,577.2h0M183.4,576.7h0M183.4,578.5h0M184.0,575.5h0M183.0,575.9h0M183.1,570.7h0M184.1,571.3h0M186.2,575.8h0M183.5,575.5h0M178.8,577.4h0M182.3,575.5h0M188.2,570.4h0M182.8,574.8h0M184.3,570.3h0M181.8,577.3h0M182.4,575.2h0M181.0,572.0h0M180.2,574.6h0M185.6,574.2h0M183.0,574.6h0M184.4,573.4h0M184.5,578.3h0M187.5,572.7h0M181.2,578.3h0M185.3,576.7h0M184.6,573.5h0M185.3,576.5h0M185.6,571.6h0M185.4,573.2h0M182.9,574.8h0M182.9,579.1h0M184.5,574.6h0M183.2,574.6h0M183.1,575.3h0M185.1,575.9h0M181.2,573.3h0M183.7,571.3h0M184.2,573.7h0M183.6,574.9h0M182.4,577.5h0M185.4,572.8h0M184.4,575.7h0M182.1,573.2h0M184.8,568.3h0M181.1,574.7h0M184.6,572.0h0M185.1,578.9h0M183.9,573.9h0M183.6,571.8h0M184.5,574.4h0M184.9,577.2h0M183.6,574.4h0M184.1,577.9h0M180.9,574.0h0M182.4,574.3h0M185.0,574.2h0M184.9,574.4h0M182.2,572.6h0M181.0,574.5h0M182.8,575.9h0M185.3,572.1h0M181.6,575.4h0M181.9,574.5h0M184.6,573.2h0M186.7,572.3h0M184.3,573.1h0M178.3,573.6h0M183.2,575.3h0M183.3,572.4h0M182.6,573.4h0M184.9,573.4h0M185.8,575.9h0M182.2,576.3h0M179.4,574.1h0M181.8,573.8h0M185.6,574.0h0M183.2,576.9h0M182.1,572.2h0M185.3,575.4h0M180.9,574.4h0" stroke="#3f9be0" stroke-width="1.0" stroke-linecap="square" fill="none"/>
<path d="M185.9,584.3h0M183.5,585.7h0M184.8,581.9h0M186.0,577.9h0M184.2,594.7h0M182.2,584.9h0M179.8,581.3h0M182.0,585.3h0M183.3,593.4h0M182.5,584.9h0M184.8,588.0h0M186.1,578.0h0M188.7,583.7h0M182.9,577.6h0M183.4,577.0h0M184.7,582.3h0M185.0,581.5h0M184.5,595.1h0M186.7,585.8h0M182.3,591.6h0M180.9,578.7h0M186.9,582.3h0M187.0,587.6h0M188.7,593.1h0M185.5,582.2h0M185.5,591.4h0M184.6,572.0h0M183.6,583.4h0M184.2,583.5h0M186.6,579.3h0M185.2,576.1h0M180.0,580.5h0M182.8,581.0h0M182.9,587.8h0M185.5,585.4h0M184.7,581.9h0M182.3,578.6h0M183.5,579.9h0M183.7,588.3h0M185.4,591.0h0M182.4,575.1h0M182.1,594.0h0M185.7,583.0h0M187.0,583.1h0M187.7,583.2h0M183.5,588.2h0M182.0,584.3h0M188.2,587.0h0M182.1,583.9h0M184.2,581.6h0M185.1,590.6h0M184.4,589.0h0M184.9,585.6h0M182.8,589.3h0M187.0,583.0h0M182.5,587.4h0M184.5,590.1h0M185.3,584.4h0M181.5,587.8h0M184.5,579.3h0M181.3,576.8h0M185.5,583.0h0M177.6,581.0h0M183.0,584.5h0M184.4,583.5h0M185.8,589.6h0M183.8,592.1h0M184.0,581.1h0M184.6,578.5h0M183.7,580.2h0" stroke="#6f8cec" stroke-width="1.0" stroke-linecap="square" fill="none"/>
<path d="M174.7,571.4h0M168.6,571.8h0M176.8,570.6h0M178.1,571.7h0M174.9,569.0h0M178.2,572.5h0M171.6,569.5h0M172.4,572.7h0M174.3,568.5h0M180.5,571.9h0M176.7,571.5h0M175.5,571.1h0M178.7,571.9h0M174.6,571.2h0M181.6,569.9h0M172.0,571.2h0M172.6,576.3h0M177.9,572.2h0M177.1,574.9h0M172.9,570.9h0M171.0,573.5h0M175.8,574.5h0M175.1,568.9h0M173.9,572.6h0M173.5,571.5h0M173.8,569.6h0M174.3,574.2h0M172.7,571.6h0M178.4,569.5h0M171.4,574.0h0M181.2,570.5h0M172.4,572.7h0M175.9,569.3h0M174.8,566.2h0M173.5,568.5h0M172.0,572.2h0M176.8,574.4h0M167.9,569.6h0M173.4,573.6h0M179.1,571.2h0" stroke="#6f8cec" stroke-width="1.0" stroke-linecap="square" fill="none"/>
</g>
<g transform="rotate(-33 173.1 592.9)" filter="url(#bl2)">
<ellipse cx="173.1" cy="592.9" rx="8.82" ry="5.46" fill="#4163e6"/>
<ellipse cx="173.1" cy="592.9" rx="7.35" ry="4.55" fill="#2e8fe0"/>
<ellipse cx="173.1" cy="592.9" rx="6.09" ry="3.77" fill="#28b8c8"/>
<ellipse cx="173.1" cy="592.9" rx="4.83" ry="2.99" fill="#3acb7c"/>
<ellipse cx="173.1" cy="592.9" rx="3.57" ry="2.21" fill="#a4da38"/>
<ellipse cx="173.1" cy="592.9" rx="2.52" ry="1.56" fill="#f2d222"/>
<ellipse cx="173.1" cy="592.9" rx="1.68" ry="1.04" fill="#f08a1c"/>
<ellipse cx="173.1" cy="592.9" rx="0.84" ry="0.52" fill="#e63a1a"/>
</g>
<text x="135.8" y="561.3" font-size="8.2" text-anchor="start" font-weight="normal" fill="#1c1c1c"  stroke="#1c1c1c" stroke-width="0.31">Q1</text>
<text x="135.8" y="569.9" font-size="8.2" text-anchor="start" font-weight="normal" fill="#1c1c1c"  stroke="#1c1c1c" stroke-width="0.31">3.22</text>
<text x="206.0" y="560.0" font-size="8.2" text-anchor="end" font-weight="normal" fill="#1c1c1c"  stroke="#1c1c1c" stroke-width="0.31">Q2</text>
<text x="209.0" y="567.7" font-size="8.2" text-anchor="end" font-weight="normal" fill="#1c1c1c"  stroke="#1c1c1c" stroke-width="0.31">19.4</text>
<text x="135.8" y="613.6" font-size="8.2" text-anchor="start" font-weight="normal" fill="#1c1c1c"  stroke="#1c1c1c" stroke-width="0.31">Q4</text>
<text x="135.8" y="622.5" font-size="8.2" text-anchor="start" font-weight="normal" fill="#1c1c1c"  stroke="#1c1c1c" stroke-width="0.31">63.2</text>
<text x="206.0" y="613.6" font-size="8.2" text-anchor="end" font-weight="normal" fill="#1c1c1c"  stroke="#1c1c1c" stroke-width="0.31">Q3</text>
<text x="209.2" y="622.5" font-size="8.2" text-anchor="end" font-weight="normal" fill="#1c1c1c"  stroke="#1c1c1c" stroke-width="0.31">14.2</text>
<rect x="39.9" y="656.4" width="76.9" height="72.9" fill="#fff" stroke="#a4a4a4" stroke-width="0.9" />
<path d="M84.1,656.4V729.3M39.9,684.3H116.8" fill="none" stroke="#707070" stroke-width="1.2" />
<path d="M37.7,657.4h2.2M40.9,729.3v2.2M37.7,667.5h2.2M51.6,729.3v2.2M37.7,677.7h2.2M62.3,729.3v2.2M37.7,687.8h2.2M73.0,729.3v2.2M37.7,697.9h2.2M83.7,729.3v2.2M37.7,708.0h2.2M94.4,729.3v2.2M37.7,718.2h2.2M105.1,729.3v2.2M37.7,728.3h2.2M115.8,729.3v2.2" fill="none" stroke="#9a9a9a" stroke-width="0.7" />
<path d="M34.3,656.8h2.2M39.3,733.9h2.4M34.3,666.9h2.2M50.0,733.9h2.4M34.3,677.1h2.2M60.7,733.9h2.4M34.3,687.2h2.2M71.4,733.9h2.4M34.3,697.3h2.2M82.1,733.9h2.4M34.3,707.4h2.2M92.8,733.9h2.4M34.3,717.6h2.2M103.5,733.9h2.4M34.3,727.7h2.2M114.2,733.9h2.4" fill="none" stroke="#c4c4c4" stroke-width="1.2" />
<line x1="30.7" y1="683.85" x2="30.7" y2="701.85" stroke="#c2c2c2" stroke-width="1.1" />
<line x1="67.35" y1="739.5" x2="89.35" y2="739.5" stroke="#bcbcbc" stroke-width="1.2" />
<g filter="url(#bl2)">
<path d="M75.9,691.4h0M72.0,696.3h0M64.0,719.8h0M91.3,703.5h0M89.7,692.2h0M78.6,682.3h0M72.6,706.0h0M68.9,689.1h0M73.1,689.0h0M83.4,704.6h0M66.9,699.5h0M82.2,692.9h0M76.3,690.4h0M66.5,684.7h0M80.9,704.0h0M67.9,700.9h0M88.0,699.0h0M84.1,684.9h0M80.6,707.9h0M75.0,700.1h0M68.5,696.9h0M51.5,708.8h0M56.1,702.1h0M74.6,708.7h0M85.5,694.1h0M68.5,691.1h0M78.7,688.9h0M80.2,701.8h0M76.1,696.9h0M73.3,707.1h0M84.6,697.1h0M85.2,678.4h0M80.2,699.4h0M81.5,695.9h0M76.0,685.0h0M81.2,702.8h0M76.6,695.2h0M78.4,681.8h0M86.4,702.3h0M72.7,692.8h0M80.4,690.7h0M71.6,701.3h0M66.5,708.6h0M65.9,699.3h0M83.5,692.0h0M84.8,702.2h0M97.7,699.4h0M76.5,704.0h0M67.0,709.2h0M85.8,685.0h0M84.5,698.2h0M74.1,693.3h0M85.3,680.7h0M82.5,700.4h0M85.3,703.5h0M91.5,690.7h0M95.0,690.7h0M66.4,700.8h0M80.6,695.6h0M72.0,717.8h0" stroke="#a8b8f2" stroke-width="0.9" stroke-linecap="square" fill="none"/>
<path d="M66.9,697.6h0M80.6,695.1h0M86.5,691.4h0M81.4,697.2h0M71.0,694.1h0M77.6,701.1h0M79.1,701.2h0M76.5,700.5h0M79.8,698.8h0M78.3,696.6h0M78.1,701.9h0M78.8,697.8h0M79.4,690.7h0M73.3,698.7h0M82.3,688.0h0M70.2,696.2h0M73.4,693.7h0M74.6,700.6h0M72.0,699.8h0M71.1,699.4h0M76.2,687.4h0M78.6,696.6h0M78.1,697.1h0M77.2,690.2h0M78.6,698.6h0M81.8,686.9h0M71.7,693.4h0M75.4,692.4h0M74.3,702.0h0M85.3,681.2h0M84.6,687.2h0M82.3,694.8h0M84.0,691.0h0M73.3,698.7h0M80.1,690.2h0M80.0,694.6h0M78.9,695.4h0M82.9,696.6h0M75.6,695.8h0M64.5,700.5h0M71.2,703.6h0M70.6,697.4h0M82.9,697.5h0M82.5,688.9h0M81.5,698.8h0M72.9,698.2h0M70.0,698.1h0M81.9,693.9h0M74.7,695.4h0M87.7,693.3h0M76.1,707.6h0M75.4,696.9h0M74.0,695.8h0M78.1,688.9h0M77.3,694.8h0M88.1,691.3h0M81.4,696.3h0M81.3,694.4h0M65.8,705.9h0M77.7,699.5h0M78.4,693.1h0M70.9,695.7h0M79.2,694.7h0M72.4,697.8h0M78.3,692.5h0M75.9,694.4h0M64.3,705.3h0M80.0,698.5h0M83.3,689.0h0M81.7,694.8h0M80.1,698.5h0M79.8,688.7h0M85.4,690.3h0M72.9,696.0h0M74.3,693.0h0M84.7,693.7h0M74.9,701.9h0M79.4,695.5h0M82.8,692.4h0M77.6,698.6h0M65.5,698.3h0M83.0,697.9h0M69.0,701.9h0M73.8,697.3h0M84.4,699.0h0M89.4,693.1h0M81.6,694.3h0M68.9,703.8h0M69.1,696.4h0M75.1,690.3h0M88.7,691.9h0M80.9,696.4h0M79.4,695.4h0M80.2,691.3h0M79.7,695.6h0M79.7,689.6h0M79.0,694.7h0M82.5,695.6h0M79.9,696.9h0M83.3,699.1h0M80.7,696.7h0M72.5,698.5h0M84.3,696.9h0M72.7,699.2h0M76.6,697.1h0M74.5,696.2h0M77.9,696.6h0M81.5,689.6h0M74.6,702.0h0M80.2,693.6h0M74.1,703.5h0M74.7,703.5h0M78.9,694.6h0M78.8,699.3h0M74.2,690.1h0M69.5,691.2h0M82.1,697.7h0M80.5,687.9h0M93.2,694.8h0M73.0,689.7h0M75.6,702.5h0M87.7,687.1h0M66.0,699.1h0M88.1,689.4h0M65.9,693.8h0M83.1,696.5h0M75.0,697.0h0M77.6,694.6h0M73.8,696.0h0M77.5,702.2h0M82.3,698.1h0M82.7,682.0h0M79.7,699.4h0M75.5,694.7h0M78.9,692.9h0M72.8,697.9h0M78.2,695.8h0M82.7,693.0h0M82.1,707.9h0M76.1,695.9h0M75.6,694.1h0M70.0,702.1h0M81.7,684.9h0M74.8,700.0h0M75.5,700.1h0M75.3,692.5h0M75.7,695.0h0M75.3,685.6h0M83.0,699.1h0M79.2,696.3h0" stroke="#5a7aea" stroke-width="1.0" stroke-linecap="square" fill="none"/>
<path d="M87.0,689.3h0M84.9,676.6h0M81.5,692.2h0M87.6,681.1h0M88.5,681.1h0M81.4,690.4h0M84.5,689.0h0M79.9,691.4h0M88.9,679.9h0M80.1,687.0h0M88.8,675.9h0M88.6,671.1h0M84.4,684.1h0M88.7,684.7h0M81.5,686.3h0M87.8,684.2h0M85.2,674.8h0M89.8,681.5h0M87.4,681.4h0M89.8,676.7h0M80.9,692.4h0M80.1,692.6h0M89.6,681.9h0M82.7,682.7h0M85.3,687.3h0M91.7,677.4h0M90.4,677.2h0M84.8,687.7h0M80.4,690.1h0M85.4,684.4h0M91.6,677.4h0M90.7,679.4h0M83.9,682.3h0M90.5,679.5h0M86.1,682.5h0M92.8,680.1h0M85.9,688.6h0M86.6,685.6h0M91.9,676.0h0M88.4,686.4h0M93.5,674.4h0M86.7,684.4h0" stroke="#7a94ee" stroke-width="1.0" stroke-linecap="square" fill="none"/>
<path d="M92.5,668.9h0M88.8,678.3h0M88.9,669.5h0M89.2,675.4h0M96.9,676.3h0M97.2,671.2h0M88.5,672.3h0M89.7,676.7h0M103.4,674.2h0M101.3,679.1h0M84.3,672.1h0M94.3,670.1h0M107.5,668.3h0M83.7,677.9h0M87.4,677.7h0M85.6,678.9h0M88.7,677.7h0M100.9,669.6h0M86.4,668.7h0M84.7,678.4h0M92.9,678.2h0M104.1,678.9h0M98.8,673.5h0M90.2,676.3h0M99.9,679.0h0M95.5,674.0h0M92.6,681.1h0" stroke="#a8b8f2" stroke-width="0.9" stroke-linecap="square" fill="none"/>
<path d="M94.7,680.3h0M89.3,677.4h0M94.4,677.1h0M89.0,676.0h0M92.8,674.4h0M86.6,671.4h0M91.3,676.5h0M94.6,675.7h0M95.0,671.6h0M99.0,675.3h0M89.1,673.7h0M98.6,675.6h0M84.1,680.5h0M85.1,679.5h0M97.9,672.5h0M100.0,678.4h0M98.9,676.8h0M95.0,675.7h0M90.3,675.8h0M100.2,674.8h0M104.0,671.1h0M93.4,671.3h0M83.6,675.8h0M91.4,673.7h0M87.4,674.5h0M84.3,674.6h0M90.3,671.9h0M95.5,670.3h0M95.6,675.8h0M96.1,675.4h0M97.6,674.4h0M87.3,676.1h0M88.9,674.2h0M93.9,672.7h0M98.6,671.1h0M99.9,675.0h0M102.5,678.0h0M96.9,675.9h0M93.9,671.5h0M90.2,672.7h0M89.3,674.8h0M88.9,675.5h0M91.8,673.9h0M95.4,676.3h0M85.9,674.3h0M109.2,675.1h0M95.7,672.8h0M98.6,679.1h0M96.4,674.8h0M93.4,670.2h0M96.5,674.3h0M95.4,676.1h0M94.4,680.5h0M98.3,673.4h0M96.6,676.7h0" stroke="#6f8cec" stroke-width="1.0" stroke-linecap="square" fill="none"/>
</g>
<g transform="rotate(-33 78 696)" filter="url(#bl2)">
<ellipse cx="78" cy="696" rx="8.82" ry="5.25" fill="#4163e6"/>
<ellipse cx="78" cy="696" rx="7.35" ry="4.38" fill="#2e8fe0"/>
<ellipse cx="78" cy="696" rx="6.09" ry="3.62" fill="#28b8c8"/>
<ellipse cx="78" cy="696" rx="4.83" ry="2.88" fill="#3acb7c"/>
<ellipse cx="78" cy="696" rx="3.57" ry="2.12" fill="#a4da38"/>
<ellipse cx="78" cy="696" rx="2.52" ry="1.50" fill="#f2d222"/>
<ellipse cx="78" cy="696" rx="1.68" ry="1.00" fill="#f08a1c"/>
<ellipse cx="78" cy="696" rx="0.84" ry="0.50" fill="#e63a1a"/>
</g>
<text x="41.7" y="664.9" font-size="8.2" text-anchor="start" font-weight="normal" fill="#1c1c1c"  stroke="#1c1c1c" stroke-width="0.31">Q1</text>
<text x="41.7" y="673.5" font-size="8.2" text-anchor="start" font-weight="normal" fill="#1c1c1c"  stroke="#1c1c1c" stroke-width="0.31">0.30</text>
<text x="111.4" y="663.6" font-size="8.2" text-anchor="end" font-weight="normal" fill="#1c1c1c"  stroke="#1c1c1c" stroke-width="0.31">Q2</text>
<text x="116.3" y="671.3" font-size="8.2" text-anchor="end" font-weight="normal" fill="#1c1c1c"  stroke="#1c1c1c" stroke-width="0.31">4.34</text>
<text x="41.7" y="717.5" font-size="8.2" text-anchor="start" font-weight="normal" fill="#1c1c1c"  stroke="#1c1c1c" stroke-width="0.31">Q4</text>
<text x="41.7" y="726.4" font-size="8.2" text-anchor="start" font-weight="normal" fill="#1c1c1c"  stroke="#1c1c1c" stroke-width="0.31">86.2</text>
<text x="111.4" y="717.5" font-size="8.2" text-anchor="end" font-weight="normal" fill="#1c1c1c"  stroke="#1c1c1c" stroke-width="0.31">Q3</text>
<text x="117.0" y="726.4" font-size="8.2" text-anchor="end" font-weight="normal" fill="#1c1c1c"  stroke="#1c1c1c" stroke-width="0.31">9.15</text>
<rect x="132.6" y="656.4" width="77.5" height="72.9" fill="#fff" stroke="#a4a4a4" stroke-width="0.9" />
<path d="M177.6,656.4V729.3M132.6,684.3H210.1" fill="none" stroke="#707070" stroke-width="1.2" />
<path d="M130.4,657.4h2.2M133.6,729.3v2.2M130.4,667.5h2.2M144.4,729.3v2.2M130.4,677.7h2.2M155.2,729.3v2.2M130.4,687.8h2.2M166.0,729.3v2.2M130.4,697.9h2.2M176.7,729.3v2.2M130.4,708.0h2.2M187.5,729.3v2.2M130.4,718.2h2.2M198.3,729.3v2.2M130.4,728.3h2.2M209.1,729.3v2.2" fill="none" stroke="#9a9a9a" stroke-width="0.7" />
<path d="M127.0,656.8h2.2M132.0,733.9h2.4M127.0,666.9h2.2M142.8,733.9h2.4M127.0,677.1h2.2M153.6,733.9h2.4M127.0,687.2h2.2M164.4,733.9h2.4M127.0,697.3h2.2M175.1,733.9h2.4M127.0,707.4h2.2M185.9,733.9h2.4M127.0,717.6h2.2M196.7,733.9h2.4M127.0,727.7h2.2M207.5,733.9h2.4" fill="none" stroke="#c4c4c4" stroke-width="1.2" />
<line x1="123.4" y1="683.85" x2="123.4" y2="701.85" stroke="#c2c2c2" stroke-width="1.1" />
<line x1="160.35" y1="739.5" x2="182.35" y2="739.5" stroke="#bcbcbc" stroke-width="1.2" />
<g filter="url(#bl2)">
<path d="M177.3,702.5h0M164.7,689.2h0M166.4,702.5h0M166.3,701.1h0M163.4,704.5h0M168.0,692.7h0M167.9,697.1h0M179.7,692.9h0M171.7,697.6h0M180.2,694.2h0M182.5,684.6h0M178.7,692.8h0M170.1,701.6h0M181.4,696.8h0M173.2,689.6h0M175.0,697.0h0M184.5,689.0h0M178.5,702.7h0M171.7,693.5h0M177.0,698.3h0M168.5,687.2h0M172.9,702.5h0M170.2,703.3h0M171.3,691.4h0M171.5,682.1h0M153.4,697.9h0M175.4,692.2h0M176.7,692.7h0M171.9,692.8h0M172.9,702.4h0M173.8,686.1h0M182.8,703.0h0M174.9,688.0h0M178.4,693.6h0M173.4,702.0h0M179.5,687.9h0M172.2,693.5h0M177.6,703.5h0M171.4,700.5h0M174.7,695.2h0M166.8,703.9h0M167.3,704.2h0M172.4,697.0h0M166.8,693.9h0M165.6,700.5h0M172.9,697.6h0M173.0,700.9h0M174.0,695.8h0M170.9,696.9h0M174.9,689.7h0M165.6,703.1h0M175.6,694.2h0M170.3,688.7h0M166.0,700.2h0M168.6,690.2h0M170.0,684.9h0M177.9,685.4h0M165.6,693.5h0M162.4,700.4h0M158.6,702.7h0" stroke="#a8b8f2" stroke-width="0.9" stroke-linecap="square" fill="none"/>
<path d="M172.6,694.5h0M169.6,691.8h0M161.7,697.4h0M177.8,693.7h0M167.7,706.0h0M177.3,697.2h0M179.4,696.8h0M165.0,701.0h0M172.6,703.8h0M175.5,693.9h0M167.3,690.5h0M171.3,693.2h0M179.9,694.1h0M171.3,695.0h0M176.4,691.2h0M177.7,693.3h0M171.8,697.8h0M177.2,686.2h0M177.2,695.9h0M174.0,700.9h0M176.4,695.5h0M169.0,700.5h0M167.6,701.1h0M180.3,687.1h0M177.3,688.2h0M174.1,697.8h0M166.6,701.0h0M167.8,696.3h0M176.0,693.2h0M174.3,694.8h0M177.1,699.3h0M172.4,694.7h0M173.9,697.9h0M170.4,688.3h0M172.9,697.4h0M183.0,686.6h0M169.0,693.3h0M168.8,691.0h0M168.5,698.1h0M165.2,699.5h0M171.7,701.6h0M183.5,697.4h0M174.3,697.4h0M181.8,687.1h0M178.3,688.3h0M174.2,688.3h0M170.3,696.5h0M167.6,691.0h0M172.4,694.7h0M180.2,693.3h0M162.9,702.6h0M177.0,692.5h0M166.6,694.0h0M169.0,694.2h0M170.6,695.8h0M176.3,689.3h0M171.8,691.7h0M175.6,698.1h0M167.6,694.1h0M172.6,695.9h0M170.3,699.0h0M174.0,697.7h0M167.7,702.1h0M176.5,689.8h0M181.7,690.8h0M164.5,696.6h0M167.8,696.2h0M171.9,697.5h0M170.9,695.6h0M164.2,692.7h0M166.9,694.4h0M171.8,686.3h0M172.1,684.2h0M171.5,696.5h0M165.5,696.3h0M174.3,690.2h0M172.1,696.3h0M172.9,690.3h0M178.0,691.6h0M174.3,688.8h0M177.1,692.4h0M174.7,691.8h0M176.3,693.5h0M168.6,708.8h0M170.3,699.2h0M170.6,695.1h0M172.5,699.7h0M178.4,695.9h0M166.6,703.1h0M170.0,707.1h0M176.3,698.1h0M172.6,696.3h0M173.0,703.8h0M173.0,700.1h0M168.5,697.8h0M170.4,696.7h0M171.3,699.3h0M172.3,689.2h0M167.9,693.3h0M174.8,689.1h0M174.8,695.0h0M168.4,690.3h0M179.8,690.5h0M177.5,697.0h0M166.0,695.9h0M183.9,696.6h0M168.5,698.1h0M176.4,692.7h0M179.5,693.8h0M173.3,698.1h0M172.7,701.0h0M171.9,701.7h0M180.4,683.4h0M177.3,686.5h0M175.6,701.5h0M178.6,694.7h0M174.4,695.3h0M174.1,694.0h0M168.8,693.1h0M180.3,690.7h0M182.5,692.5h0M172.4,691.3h0M171.3,696.8h0M171.3,695.4h0M161.3,701.4h0M170.4,695.2h0M168.0,692.2h0M171.4,702.8h0M167.1,697.1h0M168.4,697.8h0M173.9,703.3h0M170.3,703.0h0M171.2,698.6h0M183.9,688.4h0M166.9,687.5h0M170.5,696.2h0M173.5,696.2h0M165.7,696.4h0M175.4,692.8h0M173.9,697.8h0M173.2,696.0h0M167.6,699.1h0M168.2,706.1h0M172.2,703.1h0M170.0,697.0h0M178.8,692.7h0M172.8,694.6h0M169.9,694.5h0M165.6,692.9h0M170.3,694.0h0" stroke="#5a7aea" stroke-width="1.0" stroke-linecap="square" fill="none"/>
<path d="M182.5,688.8h0M189.8,676.1h0M182.0,685.6h0M184.4,688.9h0M182.8,687.6h0M175.8,690.6h0M188.3,682.8h0M172.3,693.4h0M180.2,686.3h0" stroke="#7a94ee" stroke-width="1.0" stroke-linecap="square" fill="none"/>
<path d="M183.6,677.2h0M199.3,675.0h0M182.7,674.1h0M200.4,673.9h0M192.4,676.3h0M187.1,675.1h0M189.4,674.6h0M189.7,672.9h0M194.6,675.2h0M202.3,673.3h0M196.1,673.5h0M195.4,674.8h0M189.7,669.9h0M191.9,675.1h0" stroke="#a8b8f2" stroke-width="0.9" stroke-linecap="square" fill="none"/>
<path d="M193.0,675.3h0M193.7,673.0h0M189.8,675.0h0M190.4,674.3h0M195.6,676.4h0M187.1,672.8h0M192.9,674.2h0M191.0,675.7h0M190.8,674.9h0M196.1,673.2h0M193.5,673.3h0M198.6,673.4h0M195.4,672.5h0M192.6,676.2h0M198.5,675.8h0M179.7,675.6h0M190.7,676.4h0M199.2,672.0h0M192.2,671.8h0M194.8,674.3h0M190.7,674.5h0M187.2,671.6h0M189.4,674.9h0M190.4,674.7h0M190.1,675.0h0M185.1,676.3h0M191.3,672.0h0M187.4,675.3h0" stroke="#6f8cec" stroke-width="1.0" stroke-linecap="square" fill="none"/>
</g>
<g transform="rotate(-33 172.2 695.9)" filter="url(#bl2)">
<ellipse cx="172.2" cy="695.9" rx="7.56" ry="4.62" fill="#4163e6"/>
<ellipse cx="172.2" cy="695.9" rx="6.30" ry="3.85" fill="#2e8fe0"/>
<ellipse cx="172.2" cy="695.9" rx="5.22" ry="3.19" fill="#28b8c8"/>
<ellipse cx="172.2" cy="695.9" rx="4.14" ry="2.53" fill="#3acb7c"/>
<ellipse cx="172.2" cy="695.9" rx="3.06" ry="1.87" fill="#a4da38"/>
<ellipse cx="172.2" cy="695.9" rx="2.16" ry="1.32" fill="#f2d222"/>
<ellipse cx="172.2" cy="695.9" rx="1.44" ry="0.88" fill="#f08a1c"/>
<ellipse cx="172.2" cy="695.9" rx="0.72" ry="0.44" fill="#e63a1a"/>
</g>
<text x="134.4" y="664.9" font-size="8.2" text-anchor="start" font-weight="normal" fill="#1c1c1c"  stroke="#1c1c1c" stroke-width="0.31">Q1</text>
<text x="134.4" y="673.5" font-size="8.2" text-anchor="start" font-weight="normal" fill="#1c1c1c"  stroke="#1c1c1c" stroke-width="0.31">0</text>
<text x="204.7" y="663.6" font-size="8.2" text-anchor="end" font-weight="normal" fill="#1c1c1c"  stroke="#1c1c1c" stroke-width="0.31">Q2</text>
<text x="209.6" y="671.3" font-size="8.2" text-anchor="end" font-weight="normal" fill="#1c1c1c"  stroke="#1c1c1c" stroke-width="0.31">1.54</text>
<text x="134.4" y="717.5" font-size="8.2" text-anchor="start" font-weight="normal" fill="#1c1c1c"  stroke="#1c1c1c" stroke-width="0.31">Q4</text>
<text x="134.4" y="726.4" font-size="8.2" text-anchor="start" font-weight="normal" fill="#1c1c1c"  stroke="#1c1c1c" stroke-width="0.31">94.2</text>
<text x="204.7" y="717.5" font-size="8.2" text-anchor="end" font-weight="normal" fill="#1c1c1c"  stroke="#1c1c1c" stroke-width="0.31">Q3</text>
<text x="210.3" y="726.4" font-size="8.2" text-anchor="end" font-weight="normal" fill="#1c1c1c"  stroke="#1c1c1c" stroke-width="0.31">4.23</text>
<path d="M24.5,746.4V555.3M24.5,746.4H205.2" fill="none" stroke="#333" stroke-width="1.0" />
<path d="M22.7,556.8L24.5,552.3L26.3,556.8Z" fill="#222" stroke="none" stroke-width="1" />
<path d="M203.7,744.6L208.2,746.4L203.7,748.1999999999999Z" fill="#222" stroke="none" stroke-width="1" />
<text x="10.4" y="641.6" font-size="13" text-anchor="start" font-weight="normal" fill="#161616"  stroke="#161616" stroke-width="0.49">PI</text>
<text x="117.8" y="757.5" font-size="12.8" text-anchor="middle" font-weight="normal" fill="#161616"  stroke="#161616" stroke-width="0.49">Annexin V</text>
<rect x="5.2" y="769.3" width="4.6" height="16.5" fill="#000" stroke="none" stroke-width="1" />
<text x="79.2" y="781.6" font-size="13" text-anchor="middle" font-weight="normal" fill="#161616"  stroke="#161616" stroke-width="0.49">NC mimic</text>
<text x="170.4" y="781.6" font-size="13" text-anchor="middle" font-weight="normal" fill="#161616"  stroke="#161616" stroke-width="0.49">125b mimic</text>
<text x="77.1" y="894.2" font-size="13.1" text-anchor="middle" font-weight="normal" fill="#161616"  stroke="#161616" stroke-width="0.50">NC inhibitor</text>
<text x="168.8" y="894.6" font-size="13" text-anchor="middle" font-weight="normal" fill="#161616"  stroke="#161616" stroke-width="0.49">125b inhibitor</text>
<rect x="38.8" y="786.3" width="76.8" height="76.7" fill="#fff" stroke="#a4a4a4" stroke-width="0.9" />
<path d="M83,786.3V863M38.8,815.9H115.6" fill="none" stroke="#707070" stroke-width="1.2" />
<path d="M36.6,787.3h2.2M39.8,863v2.2M36.6,798.0h2.2M50.5,863v2.2M36.6,808.6h2.2M61.2,863v2.2M36.6,819.3h2.2M71.9,863v2.2M36.6,830.0h2.2M82.5,863v2.2M36.6,840.7h2.2M93.2,863v2.2M36.6,851.3h2.2M103.9,863v2.2M36.6,862.0h2.2M114.6,863v2.2" fill="none" stroke="#9a9a9a" stroke-width="0.7" />
<path d="M33.2,786.7h2.2M38.2,867.6h2.4M33.2,797.4h2.2M48.9,867.6h2.4M33.2,808.0h2.2M59.6,867.6h2.4M33.2,818.7h2.2M70.3,867.6h2.4M33.2,829.4h2.2M80.9,867.6h2.4M33.2,840.1h2.2M91.6,867.6h2.4M33.2,850.7h2.2M102.3,867.6h2.4M33.2,861.4h2.2M113.0,867.6h2.4" fill="none" stroke="#c4c4c4" stroke-width="1.2" />
<line x1="29.6" y1="815.65" x2="29.6" y2="833.65" stroke="#c2c2c2" stroke-width="1.1" />
<line x1="66.2" y1="873.2" x2="88.2" y2="873.2" stroke="#bcbcbc" stroke-width="1.2" />
<g filter="url(#bl2)">
<path d="M90.5,810.8h0M78.7,825.3h0M67.8,829.9h0M72.4,830.7h0M83.9,832.2h0M82.6,833.6h0M80.6,826.7h0M71.2,824.1h0M63.4,836.3h0M76.2,831.2h0M74.4,819.7h0M66.5,825.9h0M83.9,822.6h0M74.0,822.8h0M63.9,831.8h0M77.1,831.6h0M65.2,838.2h0M67.4,830.0h0M72.0,827.8h0M83.0,831.0h0M76.9,823.7h0M80.9,828.4h0M84.0,825.5h0M60.5,832.6h0M76.3,835.7h0M78.4,834.3h0M74.2,820.3h0M78.5,831.3h0M74.0,818.1h0M77.4,823.0h0M57.3,836.2h0M55.8,831.6h0M96.6,834.8h0M86.2,825.4h0M92.6,820.5h0M59.4,819.8h0M75.2,811.1h0M50.9,839.7h0M73.6,823.3h0M84.2,822.6h0M79.5,829.9h0M72.3,832.7h0M91.5,811.1h0M79.5,830.6h0M71.7,831.0h0M60.9,835.0h0M80.7,834.5h0M81.8,820.3h0M74.1,844.6h0M76.5,813.1h0M70.3,825.2h0M65.2,822.0h0M71.1,827.8h0M78.3,835.6h0M73.7,820.4h0M60.4,834.6h0M89.2,827.8h0M76.0,838.1h0M77.7,822.8h0M79.7,825.8h0" stroke="#a8b8f2" stroke-width="0.9" stroke-linecap="square" fill="none"/>
<path d="M69.8,830.8h0M80.5,832.5h0M71.8,832.9h0M76.7,828.3h0M73.1,837.1h0M87.2,829.6h0M82.6,832.1h0M81.9,830.1h0M75.5,830.4h0M72.7,825.9h0M71.9,826.1h0M70.0,831.0h0M78.3,837.8h0M88.6,826.2h0M79.0,822.8h0M75.0,822.5h0M72.4,829.0h0M76.8,832.8h0M78.1,839.7h0M76.0,833.2h0M70.5,837.1h0M70.8,833.4h0M78.7,831.4h0M81.0,827.8h0M80.5,835.9h0M74.4,830.1h0M74.7,830.6h0M70.8,830.4h0M78.2,824.7h0M78.0,824.8h0M84.1,823.1h0M87.3,824.2h0M78.3,832.3h0M86.5,829.8h0M86.3,826.8h0M72.8,835.8h0M77.3,830.2h0M82.0,821.6h0M89.4,832.3h0M79.1,825.5h0M84.6,824.4h0M85.3,829.3h0M69.5,834.9h0M67.1,831.3h0M77.4,822.2h0M72.0,829.4h0M79.3,828.6h0M78.0,825.2h0M73.8,832.5h0M70.3,828.7h0M78.7,823.3h0M74.5,835.6h0M71.4,820.8h0M77.2,837.9h0M91.2,817.7h0M82.2,828.7h0M74.3,821.0h0M82.7,826.0h0M71.8,823.6h0M73.1,830.3h0M75.9,830.2h0M77.0,833.3h0M77.4,822.3h0M74.5,832.1h0M77.0,835.3h0M74.4,831.2h0M77.3,822.4h0M82.8,823.5h0M71.3,828.5h0M64.6,829.6h0M84.3,822.9h0M75.6,830.2h0M77.9,823.7h0M76.2,830.2h0M82.6,825.9h0M85.0,822.0h0M71.7,824.8h0M77.9,830.9h0M75.0,828.7h0M70.2,829.8h0M74.1,829.7h0M83.5,826.6h0M84.2,829.5h0M77.2,834.8h0M73.9,823.7h0M73.3,830.3h0M73.8,841.8h0M78.3,831.7h0M70.5,833.0h0M76.3,824.9h0M78.0,827.6h0M75.9,823.0h0M78.7,825.7h0M67.1,823.7h0M74.8,827.9h0M86.4,816.1h0M87.3,827.8h0M79.4,827.9h0M75.9,821.6h0M83.4,822.5h0M72.7,831.0h0M59.1,833.3h0M66.8,827.1h0M83.3,832.1h0M75.9,827.3h0M77.1,825.6h0M78.2,829.5h0M74.4,827.8h0M77.0,828.5h0M76.7,820.9h0M69.5,830.6h0M76.2,822.3h0M86.1,829.4h0M75.1,834.9h0M65.2,835.3h0M70.4,837.8h0M82.1,827.4h0M70.8,826.5h0M77.4,825.3h0M76.3,820.6h0M79.8,828.8h0M61.4,831.8h0M71.2,828.8h0M67.2,834.5h0M70.1,832.1h0M63.9,830.7h0M76.0,820.1h0M79.3,833.7h0M77.5,821.1h0M86.7,818.9h0M83.3,828.6h0M76.0,831.8h0M61.8,838.3h0M76.2,826.7h0M79.2,831.8h0M79.7,823.1h0M83.0,829.9h0M77.7,829.5h0M59.7,831.4h0M74.7,822.0h0M83.3,829.6h0M68.3,827.8h0M75.6,830.0h0M79.9,824.9h0M74.0,824.9h0M75.9,824.8h0M83.0,827.5h0M68.2,835.3h0M72.5,835.6h0M73.5,836.4h0" stroke="#5a7aea" stroke-width="1.0" stroke-linecap="square" fill="none"/>
<path d="M85.3,817.4h0M82.0,821.1h0M90.9,814.1h0M85.1,805.2h0M88.0,802.1h0M80.3,825.3h0M88.9,813.8h0M83.3,808.6h0M84.2,813.7h0M83.7,818.5h0M78.4,826.7h0M78.2,823.7h0M91.7,803.2h0M89.9,809.8h0M87.9,820.6h0M85.9,815.5h0M78.1,820.4h0M87.8,816.9h0M94.3,810.7h0M80.7,817.9h0M87.1,813.5h0M87.2,812.9h0M82.5,821.9h0M81.7,823.3h0M76.7,824.8h0M86.4,820.4h0M80.2,816.7h0M84.7,812.5h0M90.5,802.8h0M88.2,813.5h0M89.9,805.8h0M91.2,805.7h0M89.8,813.3h0M92.2,808.2h0M85.4,821.8h0M87.8,812.9h0" stroke="#7a94ee" stroke-width="1.0" stroke-linecap="square" fill="none"/>
<path d="M98.6,801.9h0M108.4,813.0h0M81.9,802.1h0M93.9,802.7h0M87.7,805.2h0M86.3,802.8h0M92.9,803.6h0M93.9,809.2h0M99.2,805.5h0M105.6,803.7h0M97.6,812.2h0M92.8,808.4h0M88.2,803.0h0M92.9,807.1h0M94.0,807.8h0M93.7,804.9h0M87.3,804.8h0M91.9,805.2h0M84.1,810.1h0M99.1,806.2h0M88.3,809.5h0M90.0,804.3h0M95.7,803.2h0M92.5,803.4h0M95.8,806.9h0M96.6,807.0h0M93.9,806.8h0M97.1,801.6h0M83.7,805.6h0M92.8,804.4h0M102.0,807.1h0M100.3,805.7h0M82.4,800.1h0M99.1,805.5h0M88.4,810.3h0M103.5,806.9h0M100.5,804.2h0" stroke="#a8b8f2" stroke-width="0.9" stroke-linecap="square" fill="none"/>
<path d="M87.2,800.9h0M97.1,801.2h0M89.9,805.6h0M94.7,800.3h0M90.7,803.2h0M98.9,804.9h0M88.6,810.0h0M92.6,807.6h0M93.4,805.0h0M95.4,803.4h0M85.1,803.6h0M94.9,804.4h0M97.0,807.3h0M92.9,808.4h0M93.7,806.3h0M90.5,805.1h0M91.5,808.3h0M99.5,808.3h0M93.0,805.1h0M93.1,803.9h0M91.8,804.5h0M91.7,799.0h0M91.8,807.2h0M86.7,810.2h0M92.6,803.9h0M98.7,802.8h0M104.9,803.5h0M96.4,809.3h0M95.2,805.8h0M88.5,805.0h0M92.9,808.1h0M81.2,807.1h0M86.4,803.8h0M91.4,803.7h0M94.8,801.0h0M94.1,802.7h0M90.1,805.2h0M85.1,806.5h0M102.1,803.7h0M87.5,809.5h0M99.9,799.9h0M90.1,803.2h0M92.6,805.1h0M87.0,804.2h0M97.2,802.9h0M92.9,807.1h0M100.1,806.6h0M93.0,802.9h0M93.1,809.0h0M94.1,808.7h0M89.6,807.5h0M90.6,803.5h0M88.8,808.6h0M94.7,804.9h0M90.6,807.6h0M89.7,808.5h0M93.4,803.9h0M91.0,802.6h0M86.7,804.1h0M89.5,804.4h0M88.2,803.6h0M93.4,801.8h0M79.7,810.0h0M92.4,805.9h0M97.5,808.5h0M98.8,808.0h0M95.6,806.7h0M91.3,805.1h0M74.5,809.9h0M91.3,802.7h0M97.4,803.5h0M93.7,803.1h0M86.3,808.4h0M92.5,801.2h0M95.1,807.9h0" stroke="#6f8cec" stroke-width="1.0" stroke-linecap="square" fill="none"/>
</g>
<g transform="rotate(-33 77 828.5)" filter="url(#bl2)">
<ellipse cx="77" cy="828.5" rx="8.82" ry="5.46" fill="#4163e6"/>
<ellipse cx="77" cy="828.5" rx="7.35" ry="4.55" fill="#2e8fe0"/>
<ellipse cx="77" cy="828.5" rx="6.09" ry="3.77" fill="#28b8c8"/>
<ellipse cx="77" cy="828.5" rx="4.83" ry="2.99" fill="#3acb7c"/>
<ellipse cx="77" cy="828.5" rx="3.57" ry="2.21" fill="#a4da38"/>
<ellipse cx="77" cy="828.5" rx="2.52" ry="1.56" fill="#f2d222"/>
<ellipse cx="77" cy="828.5" rx="1.68" ry="1.04" fill="#f08a1c"/>
<ellipse cx="77" cy="828.5" rx="0.84" ry="0.52" fill="#e63a1a"/>
</g>
<text x="41.0" y="795.5" font-size="8.2" text-anchor="start" font-weight="normal" fill="#1c1c1c"  stroke="#1c1c1c" stroke-width="0.31">Q1</text>
<text x="41.0" y="804.7" font-size="8.2" text-anchor="start" font-weight="normal" fill="#1c1c1c"  stroke="#1c1c1c" stroke-width="0.31">0.27</text>
<text x="110.2" y="795.5" font-size="8.2" text-anchor="end" font-weight="normal" fill="#1c1c1c"  stroke="#1c1c1c" stroke-width="0.31">Q2</text>
<text x="115.1" y="804.7" font-size="8.2" text-anchor="end" font-weight="normal" fill="#1c1c1c"  stroke="#1c1c1c" stroke-width="0.31">5.24</text>
<text x="41.0" y="849.6" font-size="8.2" text-anchor="start" font-weight="normal" fill="#1c1c1c"  stroke="#1c1c1c" stroke-width="0.31">Q4</text>
<text x="41.0" y="859.2" font-size="8.2" text-anchor="start" font-weight="normal" fill="#1c1c1c"  stroke="#1c1c1c" stroke-width="0.31">85.7</text>
<text x="110.2" y="849.6" font-size="8.2" text-anchor="end" font-weight="normal" fill="#1c1c1c"  stroke="#1c1c1c" stroke-width="0.31">Q3</text>
<text x="115.8" y="859.2" font-size="8.2" text-anchor="end" font-weight="normal" fill="#1c1c1c"  stroke="#1c1c1c" stroke-width="0.31">8.82</text>
<rect x="132.9" y="785.8" width="77.8" height="77.1" fill="#fff" stroke="#a4a4a4" stroke-width="0.9" />
<path d="M178.1,785.8V862.9M132.9,816.3H210.7" fill="none" stroke="#707070" stroke-width="1.2" />
<path d="M130.7,786.8h2.2M133.9,862.9v2.2M130.7,797.5h2.2M144.7,862.9v2.2M130.7,808.3h2.2M155.6,862.9v2.2M130.7,819.0h2.2M166.4,862.9v2.2M130.7,829.7h2.2M177.2,862.9v2.2M130.7,840.4h2.2M188.0,862.9v2.2M130.7,851.2h2.2M198.9,862.9v2.2M130.7,861.9h2.2M209.7,862.9v2.2" fill="none" stroke="#9a9a9a" stroke-width="0.7" />
<path d="M127.3,786.2h2.2M132.3,867.5h2.4M127.3,796.9h2.2M143.1,867.5h2.4M127.3,807.7h2.2M154.0,867.5h2.4M127.3,818.4h2.2M164.8,867.5h2.4M127.3,829.1h2.2M175.6,867.5h2.4M127.3,839.8h2.2M186.4,867.5h2.4M127.3,850.6h2.2M197.3,867.5h2.4M127.3,861.3h2.2M208.1,867.5h2.4" fill="none" stroke="#c4c4c4" stroke-width="1.2" />
<line x1="123.7" y1="815.35" x2="123.7" y2="833.35" stroke="#c2c2c2" stroke-width="1.1" />
<line x1="160.8" y1="873.1" x2="182.8" y2="873.1" stroke="#bcbcbc" stroke-width="1.2" />
<g filter="url(#bl2)">
<path d="M172.6,833.4h0M186.7,827.9h0M180.0,829.1h0M185.8,821.0h0M169.2,828.0h0M194.0,806.1h0M165.9,817.8h0M171.4,827.3h0M174.4,832.8h0M184.8,821.8h0M164.3,829.4h0M169.8,824.0h0M173.6,831.4h0M181.2,838.2h0M159.8,837.3h0M176.7,816.6h0M166.3,848.3h0M181.8,826.2h0M178.1,816.4h0M168.9,842.5h0M167.3,818.6h0M176.9,837.4h0M158.1,824.7h0M153.3,839.1h0M169.1,825.0h0M166.7,829.4h0M165.1,828.2h0M180.0,823.2h0M169.6,815.2h0M168.5,838.4h0M177.0,833.0h0M162.9,839.1h0M167.7,831.0h0M163.2,826.4h0M163.3,832.8h0M176.5,816.8h0M163.9,825.7h0M167.9,836.1h0M165.3,825.1h0M178.9,826.4h0M175.4,827.1h0M170.4,835.6h0M168.0,832.5h0M177.5,833.6h0M173.8,833.4h0M159.2,837.5h0M174.1,827.6h0M158.8,842.5h0M164.8,827.5h0M183.7,818.8h0M173.4,813.8h0M178.4,825.6h0M171.1,821.3h0M174.3,825.2h0M181.1,818.3h0M163.3,842.1h0M162.9,832.4h0M184.2,833.5h0M179.2,829.2h0M174.2,827.8h0" stroke="#a8b8f2" stroke-width="0.9" stroke-linecap="square" fill="none"/>
<path d="M172.8,829.4h0M168.2,831.8h0M178.7,824.7h0M173.3,831.1h0M167.5,830.3h0M185.9,823.3h0M176.1,825.2h0M166.3,826.7h0M175.5,832.4h0M174.0,831.2h0M171.3,829.4h0M181.0,836.8h0M171.2,824.6h0M177.3,825.0h0M173.8,823.8h0M175.6,822.8h0M173.7,825.4h0M170.1,832.6h0M170.2,819.9h0M177.9,828.5h0M174.3,828.6h0M174.7,828.2h0M173.1,832.8h0M177.1,821.1h0M170.9,824.8h0M172.3,832.9h0M173.2,828.7h0M175.8,837.3h0M179.4,825.5h0M177.4,833.3h0M179.4,825.1h0M169.2,824.9h0M183.2,829.4h0M185.2,821.3h0M172.9,818.6h0M174.3,823.4h0M166.6,828.0h0M167.0,829.3h0M173.8,823.9h0M170.4,828.8h0M184.6,824.1h0M171.1,832.8h0M180.7,822.1h0M178.7,829.3h0M165.8,833.3h0M173.8,831.3h0M178.2,822.2h0M163.8,831.4h0M171.2,825.9h0M171.3,823.4h0M176.9,828.8h0M182.5,821.1h0M176.2,822.4h0M167.4,827.7h0M169.2,824.2h0M168.4,841.5h0M171.1,829.1h0M172.6,826.1h0M174.0,832.6h0M176.4,830.9h0M167.6,833.6h0M165.1,826.8h0M176.8,826.5h0M177.5,827.9h0M163.8,836.4h0M182.6,822.4h0M180.5,829.7h0M176.2,814.0h0M170.7,828.6h0M173.6,832.6h0M160.9,824.1h0M173.4,826.3h0M180.3,828.3h0M177.4,831.3h0M165.8,832.1h0M169.9,838.7h0M173.3,832.2h0M176.5,829.1h0M180.1,828.5h0M176.7,825.9h0M172.1,819.3h0M171.1,835.9h0M172.4,821.6h0M163.6,828.2h0M172.4,832.2h0M174.1,830.7h0M165.8,832.0h0M174.3,828.9h0M176.5,826.1h0M179.3,829.5h0M172.5,822.5h0M167.3,827.4h0M182.1,825.6h0M171.6,825.9h0M172.8,834.9h0M170.4,826.7h0M170.1,832.9h0M162.0,832.4h0M177.5,828.8h0M174.9,825.2h0M180.3,830.9h0M166.5,828.1h0M171.0,829.6h0M168.6,827.7h0M163.1,838.3h0M167.4,831.6h0M171.5,832.1h0M164.0,828.4h0M173.1,828.1h0M170.9,831.0h0M169.3,828.6h0M166.5,831.9h0M176.8,824.6h0M174.3,831.5h0M169.1,827.3h0M176.6,833.3h0M170.4,829.2h0M173.2,825.6h0M173.4,833.5h0M165.0,835.3h0M179.8,829.2h0M174.7,828.9h0M166.0,824.2h0M174.0,828.0h0M177.5,831.1h0M186.4,821.5h0M181.7,823.1h0M172.3,823.7h0M172.6,825.3h0M170.8,822.9h0M174.9,819.5h0M170.6,819.7h0M173.1,829.0h0M180.1,830.5h0M166.2,831.6h0M171.5,829.0h0M177.4,822.1h0M165.9,829.5h0M175.4,822.6h0M162.4,832.5h0M181.9,829.5h0M167.8,828.1h0M178.6,829.0h0M172.6,828.4h0M173.2,820.4h0M177.6,819.9h0M165.7,838.7h0M174.6,830.6h0M165.5,834.2h0M174.5,827.8h0" stroke="#5a7aea" stroke-width="1.0" stroke-linecap="square" fill="none"/>
<path d="M188.2,811.4h0M183.8,816.9h0M176.3,817.1h0M184.0,822.3h0M181.2,813.9h0M176.6,825.4h0M185.7,808.6h0M181.9,817.9h0M176.6,820.2h0M183.1,818.0h0M179.3,824.7h0M181.1,819.8h0M183.0,813.3h0M182.1,815.8h0M178.2,816.4h0M184.4,812.8h0M181.0,813.6h0M185.6,815.3h0M185.4,812.6h0M177.7,823.1h0M179.1,814.9h0M178.8,812.6h0M184.3,807.5h0M174.7,826.2h0M184.7,809.3h0M175.4,821.9h0M183.3,813.9h0M181.1,817.3h0M179.7,811.5h0M180.8,815.6h0M180.6,812.4h0M175.8,820.1h0M178.3,820.4h0M175.7,825.3h0M180.7,819.1h0M182.4,805.8h0M185.4,814.1h0M181.0,824.3h0M175.1,814.8h0M183.2,809.8h0M180.6,815.2h0M185.4,813.1h0M186.9,809.0h0M181.6,812.8h0M178.1,817.8h0M178.1,819.7h0M183.3,817.9h0M176.1,827.1h0M186.4,813.4h0M180.9,814.0h0M184.6,816.0h0M173.4,821.3h0M186.1,810.6h0M179.1,820.7h0M183.8,807.0h0M178.0,819.9h0M179.2,819.7h0M190.7,810.3h0M184.0,815.0h0M181.5,810.5h0" stroke="#7a94ee" stroke-width="1.0" stroke-linecap="square" fill="none"/>
<path d="M183.2,805.9h0M183.4,807.2h0M191.4,812.4h0M194.0,812.7h0M186.6,825.8h0M183.1,820.8h0M182.1,819.5h0M186.5,814.7h0M184.1,830.6h0M188.5,805.8h0M194.1,805.5h0M188.7,817.9h0M186.1,816.5h0M184.4,814.9h0M183.0,807.4h0M184.2,813.5h0M184.6,822.5h0M182.9,828.7h0M186.0,811.1h0M185.3,818.8h0M183.8,816.8h0M185.2,799.3h0M185.7,825.0h0M182.0,817.3h0M181.1,819.4h0M181.2,806.0h0M186.0,812.6h0M184.8,824.1h0M188.9,806.6h0M187.6,812.1h0M187.2,808.5h0M184.0,811.4h0M181.7,810.2h0M196.5,807.9h0M177.9,809.7h0M183.3,802.8h0M185.4,808.1h0M188.9,821.8h0M179.4,808.8h0M179.4,801.4h0M185.3,814.5h0M183.4,824.2h0M178.6,809.7h0M185.8,803.4h0M184.7,797.2h0M180.5,809.4h0M181.1,811.5h0M186.6,819.2h0M187.2,805.6h0M182.0,813.5h0M182.7,825.9h0M185.1,806.9h0M181.7,809.3h0M184.0,812.6h0M182.3,805.9h0M184.4,806.7h0M181.1,809.1h0M184.4,808.0h0M186.4,801.4h0M185.3,814.4h0M185.5,808.9h0M182.4,806.8h0M179.7,825.8h0M186.9,813.5h0M189.0,810.5h0M186.3,811.0h0M181.5,794.0h0M187.9,818.6h0M187.7,809.0h0M187.9,817.1h0M190.2,813.1h0M189.4,797.0h0M189.1,816.1h0M181.0,809.8h0M187.5,819.1h0M188.7,819.0h0M185.4,810.2h0M187.5,804.8h0M181.3,814.7h0M184.6,810.2h0M189.8,791.7h0M184.2,815.6h0M184.3,820.5h0M180.4,808.4h0M183.0,806.4h0M180.5,808.9h0M181.4,802.6h0M187.4,809.5h0M180.1,809.4h0M187.3,815.9h0M185.4,819.1h0M184.4,804.5h0M182.7,811.2h0M175.2,822.0h0M188.1,805.5h0M184.0,813.9h0M191.9,798.8h0M189.4,812.3h0M183.0,813.2h0M181.6,798.3h0M177.8,825.2h0M183.0,806.6h0M184.5,806.4h0M180.9,815.0h0M186.0,813.2h0M179.7,819.9h0M186.6,817.9h0M183.4,807.0h0M179.8,820.4h0M186.6,801.0h0" stroke="#a8b8f2" stroke-width="0.9" stroke-linecap="square" fill="none"/>
<path d="M185.1,809.6h0M185.5,814.9h0M188.2,812.0h0M182.2,805.0h0M182.7,806.1h0M186.4,806.7h0M184.7,813.7h0M183.7,820.1h0M179.4,813.1h0M182.5,810.5h0M184.7,809.1h0M182.7,810.6h0M182.5,810.6h0M183.2,803.5h0M188.7,810.0h0M183.0,812.5h0M187.3,818.7h0M186.2,813.6h0M182.4,820.2h0M183.7,810.4h0M185.9,814.3h0M185.4,809.6h0M185.5,818.3h0M188.5,813.5h0M187.0,805.1h0M184.1,803.7h0M190.7,800.7h0M181.5,805.4h0M183.8,800.6h0M181.9,814.2h0M180.5,815.2h0M186.4,805.8h0M177.4,805.9h0M185.1,806.3h0M184.2,810.3h0M184.7,819.3h0M187.0,816.5h0M185.7,797.1h0M184.4,810.8h0M181.7,813.6h0M185.7,799.8h0M188.0,812.2h0M185.0,805.9h0M188.3,796.3h0M183.5,816.3h0M189.3,812.2h0M189.9,807.3h0M182.4,820.6h0M188.9,810.1h0M188.0,812.0h0M185.1,812.7h0M189.0,803.4h0M183.7,809.3h0M183.3,809.8h0M181.3,807.7h0M187.3,808.7h0M185.1,813.3h0M190.0,806.7h0M183.5,814.4h0M186.9,803.8h0M182.8,807.2h0M185.2,809.9h0M187.7,818.9h0M188.5,806.9h0M183.7,805.3h0M182.9,815.3h0M186.5,798.9h0M185.2,815.7h0M181.0,813.2h0M190.5,800.0h0M183.5,803.8h0M186.1,811.2h0M189.2,811.0h0M184.6,809.3h0M188.5,804.7h0M184.5,806.4h0M184.1,816.2h0M183.5,815.6h0M183.1,804.2h0M181.2,824.8h0M185.2,816.7h0M184.7,811.0h0M182.8,816.1h0M187.2,806.2h0M187.4,816.2h0M188.5,811.9h0M188.5,815.4h0M185.6,801.0h0M182.6,817.7h0M183.3,809.7h0M184.8,806.5h0M190.2,807.0h0M189.6,810.5h0M184.4,810.5h0M181.6,811.2h0M186.9,810.5h0M185.5,806.0h0M187.2,806.1h0M183.8,805.8h0M189.5,810.9h0M184.4,816.4h0M184.2,803.7h0M185.9,812.9h0M188.1,800.2h0M183.3,816.2h0M186.9,809.3h0M180.4,809.7h0M183.2,804.4h0M186.0,805.2h0M185.7,814.4h0M184.1,815.1h0M189.2,816.8h0M182.6,803.6h0M182.7,802.5h0M183.2,811.3h0M185.6,812.5h0M189.4,808.4h0M182.8,804.7h0M182.2,812.6h0M189.4,812.0h0M184.2,811.0h0M188.5,807.8h0M187.4,810.4h0M183.9,815.5h0M188.2,810.0h0M183.1,803.5h0M182.9,817.0h0M185.8,811.2h0M187.0,810.4h0M186.4,805.9h0M189.1,805.3h0M187.6,797.0h0M182.8,803.7h0M186.9,802.9h0M181.5,813.5h0M189.6,814.6h0M191.5,814.8h0M182.2,799.1h0M183.5,805.9h0M182.2,809.9h0M189.7,815.5h0M186.3,813.2h0M183.3,817.0h0M183.3,812.4h0M183.2,807.7h0M187.4,818.5h0M181.2,812.3h0M193.2,812.6h0M186.8,816.0h0M186.4,814.1h0M185.9,803.8h0M186.7,809.7h0M189.6,802.0h0M182.5,820.4h0M184.6,818.0h0M183.7,815.6h0M181.5,802.6h0M184.8,811.9h0M184.4,818.4h0M183.7,814.9h0M183.7,805.6h0M187.4,806.5h0M179.6,811.1h0M187.9,811.7h0M183.3,803.3h0M182.5,812.0h0M190.3,803.9h0M185.1,815.6h0M186.6,810.1h0M183.7,814.1h0M184.8,807.3h0M180.2,813.0h0M186.7,812.5h0M183.1,815.4h0M187.1,808.7h0M181.6,812.0h0M188.0,799.5h0M186.7,808.2h0M184.9,811.4h0M188.1,811.1h0M181.7,812.8h0M186.6,809.1h0M189.6,808.3h0M188.1,815.9h0M186.1,811.4h0M184.5,807.6h0M183.8,805.3h0M184.1,806.1h0M184.3,808.5h0M188.5,802.9h0M182.7,815.7h0M188.6,814.1h0M185.8,823.2h0M185.8,810.9h0M188.6,805.0h0M184.4,808.5h0M181.1,813.1h0M189.8,814.0h0M184.1,808.5h0M182.4,809.3h0M186.4,803.6h0M187.7,802.5h0M183.4,810.0h0M187.7,809.7h0M181.7,802.8h0M185.7,811.5h0M186.4,801.8h0M186.6,813.8h0M182.7,805.4h0M187.2,805.2h0M187.1,818.2h0M183.4,812.1h0M186.6,813.1h0M186.5,812.1h0M183.9,809.7h0M187.2,817.3h0M187.3,817.9h0M187.7,810.6h0M187.4,815.2h0M180.7,810.8h0" stroke="#6f8cec" stroke-width="1.0" stroke-linecap="square" fill="none"/>
<path d="M182.8,812.0h0M187.1,811.3h0M186.5,810.9h0M186.2,809.0h0M189.0,812.7h0M187.2,810.3h0M186.4,812.9h0M185.6,808.8h0M187.1,808.1h0M186.0,811.2h0M183.4,812.9h0M185.9,808.8h0M186.6,807.4h0M187.0,810.7h0M184.9,813.3h0M185.4,808.7h0M185.7,810.4h0M183.1,809.0h0M185.0,814.1h0M186.4,807.8h0M185.5,810.2h0M187.1,812.7h0M185.4,809.7h0M183.3,805.6h0M184.3,816.3h0M185.5,808.3h0M186.3,814.6h0M185.2,810.6h0M187.4,810.4h0M184.9,808.5h0M186.4,808.7h0M185.3,811.9h0M183.9,806.4h0M185.6,809.2h0M184.5,808.3h0M187.1,811.9h0M185.6,811.0h0M185.8,809.8h0M183.9,810.2h0M187.1,816.8h0M185.8,810.4h0M184.5,813.1h0M183.3,808.5h0M183.9,808.7h0M186.0,809.9h0M184.1,810.5h0M186.9,809.6h0M182.8,810.0h0M187.4,809.7h0M186.1,810.4h0M185.6,810.6h0M188.7,811.4h0M183.3,812.3h0M185.2,811.8h0M185.9,809.9h0M185.6,809.3h0M183.8,810.4h0M183.5,808.6h0M187.3,813.7h0M185.6,811.9h0M186.2,810.6h0M183.9,808.5h0M187.8,808.6h0M184.6,811.8h0M184.2,810.0h0M184.0,812.9h0M185.8,816.2h0M186.9,807.4h0M184.4,801.4h0M183.9,810.4h0M183.9,806.4h0M184.4,810.7h0M187.5,809.9h0M185.0,809.0h0M183.7,812.0h0M186.1,808.4h0M187.2,812.2h0M186.4,807.5h0M185.0,807.7h0M185.0,811.2h0M187.3,812.8h0M186.0,806.9h0M183.7,809.1h0M185.5,809.0h0M185.5,811.5h0M186.9,809.7h0M185.0,807.9h0M186.2,805.8h0" stroke="#3f9be0" stroke-width="1.0" stroke-linecap="square" fill="none"/>
<path d="M179.1,832.4h0M187.9,822.3h0M181.9,832.1h0M187.0,821.8h0M182.7,827.8h0M184.1,825.0h0M183.9,827.2h0M182.0,823.6h0M187.1,820.1h0M182.3,824.6h0M185.3,816.9h0M182.8,825.2h0M184.3,816.5h0M183.9,825.1h0M184.7,824.0h0M183.7,814.5h0M184.1,822.5h0M183.6,825.6h0M186.8,826.5h0M186.8,816.2h0M185.1,819.8h0M184.3,819.3h0M182.5,829.3h0M187.3,823.8h0M183.6,827.6h0M184.7,826.0h0M186.7,821.9h0M185.2,829.3h0M186.2,819.4h0M181.3,818.8h0M186.2,819.6h0M183.4,822.0h0M187.4,832.6h0M184.6,828.6h0M184.7,825.1h0M184.3,827.7h0M184.6,833.1h0M183.3,832.5h0M182.1,814.8h0M184.1,823.2h0M185.0,824.5h0M185.0,824.1h0M184.6,828.2h0M183.8,820.4h0M181.7,826.9h0M186.9,827.3h0M184.8,823.4h0M184.9,817.5h0M183.2,820.8h0M186.0,827.8h0M182.4,835.6h0M185.7,813.8h0M185.3,826.9h0M183.8,824.6h0M181.8,823.8h0M184.1,825.7h0M185.9,823.6h0M178.5,824.0h0M184.2,819.7h0M184.4,826.0h0" stroke="#6f8cec" stroke-width="1.0" stroke-linecap="square" fill="none"/>
<path d="M176.8,806.3h0M181.6,804.5h0M175.2,809.2h0M180.7,808.7h0M183.8,810.0h0M172.3,808.1h0M183.8,805.5h0M178.6,803.8h0M173.5,808.4h0M176.6,804.6h0M181.0,805.4h0M178.3,805.9h0M172.3,806.6h0M175.2,809.2h0M173.2,806.5h0M176.2,809.1h0M174.4,807.6h0M180.2,807.2h0M175.7,805.5h0M178.0,805.8h0M177.4,806.9h0M177.3,805.2h0M181.5,807.8h0M176.7,808.5h0M173.9,805.7h0M179.2,805.0h0M173.0,804.1h0M171.0,805.4h0M175.9,807.8h0M170.2,807.7h0M172.6,806.9h0M181.8,803.9h0M181.8,805.4h0M174.9,804.5h0M177.1,810.8h0M171.3,801.6h0M177.0,811.5h0M178.0,810.0h0M170.4,808.1h0M174.3,805.3h0M177.3,805.2h0M176.0,803.4h0M176.3,802.1h0M181.1,809.9h0M176.7,802.6h0M181.1,805.9h0M177.3,804.0h0M180.4,805.6h0M175.9,806.4h0M175.0,807.1h0M180.8,806.6h0M178.0,806.9h0M178.9,806.2h0M173.6,809.5h0M183.3,807.5h0M175.2,806.6h0M179.0,807.6h0M174.3,804.3h0M176.0,807.3h0M176.0,804.9h0" stroke="#6f8cec" stroke-width="1.0" stroke-linecap="square" fill="none"/>
</g>
<g transform="rotate(-33 172.6 828.1)" filter="url(#bl2)">
<ellipse cx="172.6" cy="828.1" rx="8.82" ry="5.46" fill="#4163e6"/>
<ellipse cx="172.6" cy="828.1" rx="7.35" ry="4.55" fill="#2e8fe0"/>
<ellipse cx="172.6" cy="828.1" rx="6.09" ry="3.77" fill="#28b8c8"/>
<ellipse cx="172.6" cy="828.1" rx="4.83" ry="2.99" fill="#3acb7c"/>
<ellipse cx="172.6" cy="828.1" rx="3.57" ry="2.21" fill="#a4da38"/>
<ellipse cx="172.6" cy="828.1" rx="2.52" ry="1.56" fill="#f2d222"/>
<ellipse cx="172.6" cy="828.1" rx="1.68" ry="1.04" fill="#f08a1c"/>
<ellipse cx="172.6" cy="828.1" rx="0.84" ry="0.52" fill="#e63a1a"/>
</g>
<text x="135.1" y="795.0" font-size="8.2" text-anchor="start" font-weight="normal" fill="#1c1c1c"  stroke="#1c1c1c" stroke-width="0.31">Q1</text>
<text x="135.1" y="804.2" font-size="8.2" text-anchor="start" font-weight="normal" fill="#1c1c1c"  stroke="#1c1c1c" stroke-width="0.31">3.13</text>
<text x="205.3" y="795.0" font-size="8.2" text-anchor="end" font-weight="normal" fill="#1c1c1c"  stroke="#1c1c1c" stroke-width="0.31">Q2</text>
<text x="208.3" y="804.2" font-size="8.2" text-anchor="end" font-weight="normal" fill="#1c1c1c"  stroke="#1c1c1c" stroke-width="0.31">15.8</text>
<text x="135.1" y="849.5" font-size="8.2" text-anchor="start" font-weight="normal" fill="#1c1c1c"  stroke="#1c1c1c" stroke-width="0.31">Q4</text>
<text x="135.1" y="859.1" font-size="8.2" text-anchor="start" font-weight="normal" fill="#1c1c1c"  stroke="#1c1c1c" stroke-width="0.31">70.3</text>
<text x="205.3" y="849.5" font-size="8.2" text-anchor="end" font-weight="normal" fill="#1c1c1c"  stroke="#1c1c1c" stroke-width="0.31">Q3</text>
<text x="208.5" y="859.1" font-size="8.2" text-anchor="end" font-weight="normal" fill="#1c1c1c"  stroke="#1c1c1c" stroke-width="0.31">10.8</text>
<rect x="38.8" y="898.6" width="75.2" height="76.4" fill="#fff" stroke="#a4a4a4" stroke-width="0.9" />
<path d="M82.1,898.6V975M38.8,928.8H114" fill="none" stroke="#707070" stroke-width="1.2" />
<path d="M36.6,899.6h2.2M39.8,975v2.2M36.6,910.2h2.2M50.3,975v2.2M36.6,920.9h2.2M60.7,975v2.2M36.6,931.5h2.2M71.2,975v2.2M36.6,942.1h2.2M81.6,975v2.2M36.6,952.7h2.2M92.1,975v2.2M36.6,963.4h2.2M102.5,975v2.2M36.6,974.0h2.2M113.0,975v2.2" fill="none" stroke="#9a9a9a" stroke-width="0.7" />
<path d="M33.2,899.0h2.2M38.2,979.6h2.4M33.2,909.6h2.2M48.7,979.6h2.4M33.2,920.3h2.2M59.1,979.6h2.4M33.2,930.9h2.2M69.6,979.6h2.4M33.2,941.5h2.2M80.0,979.6h2.4M33.2,952.1h2.2M90.5,979.6h2.4M33.2,962.8h2.2M100.9,979.6h2.4M33.2,973.4h2.2M111.4,979.6h2.4" fill="none" stroke="#c4c4c4" stroke-width="1.2" />
<line x1="29.6" y1="927.8" x2="29.6" y2="945.8" stroke="#c2c2c2" stroke-width="1.1" />
<line x1="65.4" y1="985.2" x2="87.4" y2="985.2" stroke="#bcbcbc" stroke-width="1.2" />
<g filter="url(#bl2)">
<path d="M70.0,947.5h0M55.8,946.0h0M74.8,925.9h0M80.6,949.6h0M65.3,936.0h0M65.3,957.2h0M61.3,952.6h0M65.3,950.2h0M80.7,943.8h0M64.7,945.8h0M61.1,950.3h0M79.5,932.3h0M85.6,938.4h0M91.0,944.1h0M81.0,949.9h0M71.6,935.2h0M80.3,933.1h0M59.9,955.7h0M86.6,945.8h0M83.5,937.5h0M59.1,953.4h0M82.1,926.9h0M87.6,941.6h0M77.9,943.4h0M69.2,930.7h0M68.9,949.8h0M75.6,947.5h0M91.6,937.4h0M72.8,936.6h0M81.1,961.1h0M83.3,945.8h0M97.2,935.4h0M72.9,933.2h0M75.2,945.0h0M87.6,943.7h0M70.4,946.6h0M71.0,943.1h0M77.8,930.2h0M84.7,941.0h0M86.9,940.4h0M72.6,945.1h0M89.0,931.4h0M72.7,951.2h0M73.6,940.0h0M65.7,946.8h0M78.0,947.4h0M65.9,938.3h0M79.8,935.5h0M72.0,956.2h0M80.7,939.8h0M84.1,938.4h0M84.2,942.4h0M71.1,944.7h0M63.2,943.4h0M77.0,944.6h0M85.2,934.3h0M81.3,939.6h0M71.8,935.4h0M87.1,928.8h0M91.9,937.5h0" stroke="#a8b8f2" stroke-width="0.9" stroke-linecap="square" fill="none"/>
<path d="M94.3,925.2h0M78.8,933.7h0M83.4,932.2h0M74.1,944.4h0M79.3,939.2h0M75.8,942.5h0M82.8,940.8h0M82.3,949.9h0M82.3,942.9h0M71.4,943.5h0M74.8,930.0h0M77.3,938.8h0M75.5,945.5h0M82.1,933.2h0M73.8,948.3h0M79.1,938.8h0M79.2,938.7h0M78.7,939.5h0M78.5,936.3h0M79.7,933.7h0M91.9,934.9h0M88.4,943.3h0M80.3,934.4h0M79.4,939.9h0M78.9,942.6h0M75.4,938.1h0M75.2,942.5h0M78.0,936.1h0M86.0,935.9h0M72.2,938.2h0M75.2,937.3h0M76.6,932.4h0M68.9,947.2h0M77.8,945.9h0M75.2,940.5h0M66.8,941.9h0M98.0,924.5h0M72.5,946.9h0M92.6,938.6h0M85.2,937.3h0M69.1,948.4h0M85.7,929.9h0M87.6,931.8h0M79.6,939.1h0M69.6,946.2h0M79.6,931.5h0M74.5,936.5h0M79.6,942.1h0M75.1,937.4h0M85.6,938.2h0M68.3,942.5h0M73.4,943.4h0M82.7,935.8h0M68.6,942.8h0M80.4,938.5h0M74.6,952.1h0M90.8,934.7h0M71.1,941.1h0M71.7,933.8h0M76.8,939.8h0M78.6,935.9h0M78.1,934.9h0M77.6,938.7h0M67.0,946.9h0M76.9,949.1h0M83.4,941.4h0M86.1,935.7h0M79.5,946.3h0M83.0,939.3h0M73.7,941.6h0M77.8,947.1h0M69.3,943.3h0M86.5,936.6h0M70.1,945.8h0M89.3,934.4h0M84.0,937.5h0M74.3,944.2h0M81.2,940.0h0M76.9,937.8h0M70.2,950.4h0M78.5,948.8h0M81.9,940.3h0M76.2,942.2h0M83.3,941.9h0M76.8,940.8h0M78.8,943.2h0M72.7,946.5h0M69.2,949.2h0M78.6,933.0h0M66.9,950.1h0M77.9,944.9h0M83.0,939.4h0M91.7,930.5h0M77.4,945.4h0M79.8,944.3h0M76.0,937.2h0M93.6,929.0h0M75.7,938.6h0M92.2,936.1h0M83.6,934.9h0M78.4,943.4h0M77.8,937.6h0M73.8,942.5h0M85.4,944.6h0M80.8,933.9h0M75.6,943.8h0M79.9,939.9h0M77.3,942.0h0M77.4,942.9h0M69.7,938.4h0M79.7,938.0h0M78.0,931.7h0M81.0,933.3h0M76.4,931.9h0M86.5,936.9h0M80.3,929.1h0M71.3,940.2h0M74.3,946.7h0M74.2,945.5h0M78.1,933.0h0M70.6,947.5h0M86.6,936.6h0M72.1,944.1h0M80.9,937.8h0M85.2,949.0h0M75.3,937.7h0M70.7,934.2h0M72.7,940.8h0M78.8,945.2h0M62.9,958.3h0M73.5,948.3h0M76.9,941.8h0M91.1,936.3h0M71.7,947.8h0M75.6,943.6h0M74.9,947.4h0M70.8,943.4h0M71.4,944.2h0M77.8,937.9h0M77.2,942.0h0M78.8,936.2h0M76.6,939.6h0M75.9,938.8h0M76.3,945.1h0M66.5,944.8h0M82.9,932.9h0M66.1,938.7h0M74.9,945.1h0M83.8,938.4h0M76.8,938.8h0" stroke="#5a7aea" stroke-width="1.0" stroke-linecap="square" fill="none"/>
<path d="M82.4,925.2h0M84.5,930.7h0M78.7,939.4h0M81.5,927.8h0M81.4,935.4h0M85.1,921.3h0M83.8,930.2h0M87.0,924.0h0M88.9,919.0h0M82.6,933.3h0M80.1,937.5h0M86.0,924.1h0M89.8,923.7h0M85.7,921.3h0M76.8,938.4h0M83.3,935.7h0M86.7,926.9h0M80.8,930.9h0M83.8,932.7h0M87.5,923.3h0M79.3,937.3h0M81.6,939.0h0M81.8,930.6h0M73.4,936.4h0M89.1,917.5h0M85.6,923.9h0M78.8,931.9h0M91.0,917.7h0M81.2,936.6h0M84.3,938.0h0M75.9,931.7h0M79.9,930.6h0M85.8,919.7h0M85.6,933.0h0M75.5,936.5h0M86.1,922.7h0M82.9,930.3h0M85.1,923.5h0M82.1,928.3h0M85.2,930.9h0M81.2,931.8h0M88.7,921.3h0" stroke="#7a94ee" stroke-width="1.0" stroke-linecap="square" fill="none"/>
<path d="M96.8,916.4h0M64.4,919.8h0M89.9,920.6h0M89.8,916.6h0M98.1,915.1h0M97.7,913.7h0M74.9,917.0h0M84.8,913.2h0M93.5,920.5h0M75.3,922.9h0M82.4,921.8h0M80.9,918.5h0M89.5,919.1h0M86.1,924.0h0M79.7,918.8h0M99.6,921.2h0M86.9,913.7h0M88.6,917.7h0M94.3,919.5h0M82.6,914.5h0M86.3,918.7h0M94.2,920.4h0M86.4,920.4h0M105.6,915.5h0M106.7,921.5h0M80.7,914.3h0M83.7,920.0h0M90.4,916.2h0M86.8,921.0h0M89.3,920.7h0M85.4,918.4h0M104.2,911.1h0M83.7,919.9h0M71.2,912.1h0M82.1,916.0h0M80.7,915.9h0M89.9,918.7h0M95.4,917.2h0M92.2,916.5h0M85.1,917.4h0M78.5,921.2h0M82.2,922.4h0M106.1,921.2h0M89.7,913.8h0M85.4,915.1h0M70.3,914.7h0M86.1,918.6h0M90.8,920.6h0M91.0,915.3h0M79.1,920.1h0M95.4,921.2h0M74.5,912.5h0M70.2,923.4h0M81.5,920.6h0M94.8,918.9h0" stroke="#a8b8f2" stroke-width="0.9" stroke-linecap="square" fill="none"/>
<path d="M89.5,917.9h0M85.7,915.9h0M90.0,918.4h0M97.3,919.5h0M91.0,919.5h0M92.8,923.9h0M96.1,921.8h0M82.2,915.3h0M81.8,919.0h0M83.6,917.4h0M90.6,918.8h0M93.4,917.5h0M92.5,914.1h0M88.6,919.0h0M97.1,921.9h0M82.2,923.4h0M84.5,914.6h0M89.2,918.9h0M103.9,922.3h0M87.1,914.6h0M100.3,920.3h0M85.8,916.0h0M89.5,918.8h0M81.0,922.8h0M72.4,922.0h0M90.1,924.7h0M81.6,915.8h0M103.5,918.4h0M94.7,924.6h0M96.4,921.0h0M93.8,920.3h0M97.0,916.5h0M87.0,917.4h0M98.1,916.8h0M86.2,915.9h0M87.7,923.2h0M80.6,918.1h0M91.6,916.6h0M70.8,914.1h0M91.5,921.4h0M103.6,920.1h0M100.0,921.0h0M89.0,919.2h0M87.0,914.9h0M80.3,918.2h0M89.3,919.9h0M77.9,917.7h0M82.8,920.7h0M85.7,920.4h0M81.7,916.8h0M97.5,917.7h0M84.7,917.7h0M92.6,921.6h0M88.9,919.3h0M86.7,919.3h0M91.2,914.3h0M84.5,917.8h0M86.9,915.8h0M81.9,921.1h0M83.9,915.4h0M92.0,920.8h0M97.1,917.1h0M76.7,923.1h0M91.6,918.3h0M73.2,918.3h0M86.5,917.8h0M92.1,917.6h0M93.1,917.2h0M86.8,917.0h0M84.1,922.5h0M79.1,920.6h0M90.6,917.9h0M83.9,920.5h0M82.8,918.7h0M90.1,917.8h0M76.2,918.1h0M83.1,917.1h0M83.4,911.7h0M83.0,921.2h0M76.5,917.3h0M78.8,915.2h0M92.3,916.1h0M83.4,919.2h0M93.8,917.8h0M94.3,919.9h0M77.5,924.5h0M89.6,916.6h0M96.8,917.7h0M74.7,922.2h0M85.4,917.6h0M91.2,919.2h0M86.9,924.7h0M104.0,917.4h0M75.1,916.9h0M102.3,914.1h0M90.7,921.8h0M90.3,923.8h0M100.1,919.8h0M96.0,919.9h0M96.7,921.5h0M79.6,919.4h0M90.3,919.4h0M91.7,920.8h0M87.1,921.4h0M69.1,916.5h0M79.9,918.0h0M76.5,920.2h0M84.5,914.0h0M78.4,922.2h0M93.2,919.3h0" stroke="#6f8cec" stroke-width="1.0" stroke-linecap="square" fill="none"/>
</g>
<g transform="rotate(-33 77 940.5)" filter="url(#bl2)">
<ellipse cx="77" cy="940.5" rx="8.82" ry="5.46" fill="#4163e6"/>
<ellipse cx="77" cy="940.5" rx="7.35" ry="4.55" fill="#2e8fe0"/>
<ellipse cx="77" cy="940.5" rx="6.09" ry="3.77" fill="#28b8c8"/>
<ellipse cx="77" cy="940.5" rx="4.83" ry="2.99" fill="#3acb7c"/>
<ellipse cx="77" cy="940.5" rx="3.57" ry="2.21" fill="#a4da38"/>
<ellipse cx="77" cy="940.5" rx="2.52" ry="1.56" fill="#f2d222"/>
<ellipse cx="77" cy="940.5" rx="1.68" ry="1.04" fill="#f08a1c"/>
<ellipse cx="77" cy="940.5" rx="0.84" ry="0.52" fill="#e63a1a"/>
</g>
<text x="41.0" y="907.8" font-size="8.2" text-anchor="start" font-weight="normal" fill="#1c1c1c"  stroke="#1c1c1c" stroke-width="0.31">Q1</text>
<text x="41.0" y="917.0" font-size="8.2" text-anchor="start" font-weight="normal" fill="#1c1c1c"  stroke="#1c1c1c" stroke-width="0.31">1.77</text>
<text x="108.6" y="907.8" font-size="8.2" text-anchor="end" font-weight="normal" fill="#1c1c1c"  stroke="#1c1c1c" stroke-width="0.31">Q2</text>
<text x="113.5" y="917.0" font-size="8.2" text-anchor="end" font-weight="normal" fill="#1c1c1c"  stroke="#1c1c1c" stroke-width="0.31">7.95</text>
<text x="41.0" y="961.6" font-size="8.2" text-anchor="start" font-weight="normal" fill="#1c1c1c"  stroke="#1c1c1c" stroke-width="0.31">Q4</text>
<text x="41.0" y="971.2" font-size="8.2" text-anchor="start" font-weight="normal" fill="#1c1c1c"  stroke="#1c1c1c" stroke-width="0.31">83.3</text>
<text x="108.6" y="961.6" font-size="8.2" text-anchor="end" font-weight="normal" fill="#1c1c1c"  stroke="#1c1c1c" stroke-width="0.31">Q3</text>
<text x="114.2" y="971.2" font-size="8.2" text-anchor="end" font-weight="normal" fill="#1c1c1c"  stroke="#1c1c1c" stroke-width="0.31">7.02</text>
<rect x="131.4" y="898.6" width="76.8" height="76.4" fill="#fff" stroke="#a4a4a4" stroke-width="0.9" />
<path d="M176.2,898.6V975M131.4,928.8H208.2" fill="none" stroke="#707070" stroke-width="1.2" />
<path d="M129.2,899.6h2.2M132.4,975v2.2M129.2,910.2h2.2M143.1,975v2.2M129.2,920.9h2.2M153.8,975v2.2M129.2,931.5h2.2M164.5,975v2.2M129.2,942.1h2.2M175.1,975v2.2M129.2,952.7h2.2M185.8,975v2.2M129.2,963.4h2.2M196.5,975v2.2M129.2,974.0h2.2M207.2,975v2.2" fill="none" stroke="#9a9a9a" stroke-width="0.7" />
<path d="M125.8,899.0h2.2M130.8,979.6h2.4M125.8,909.6h2.2M141.5,979.6h2.4M125.8,920.3h2.2M152.2,979.6h2.4M125.8,930.9h2.2M162.9,979.6h2.4M125.8,941.5h2.2M173.5,979.6h2.4M125.8,952.1h2.2M184.2,979.6h2.4M125.8,962.8h2.2M194.9,979.6h2.4M125.8,973.4h2.2M205.6,979.6h2.4" fill="none" stroke="#c4c4c4" stroke-width="1.2" />
<line x1="122.2" y1="927.8" x2="122.2" y2="945.8" stroke="#c2c2c2" stroke-width="1.1" />
<line x1="158.8" y1="985.2" x2="180.8" y2="985.2" stroke="#bcbcbc" stroke-width="1.2" />
<g filter="url(#bl2)">
<path d="M163.7,940.5h0M184.0,936.0h0M175.2,933.3h0M168.4,932.2h0M162.4,954.3h0M168.9,950.7h0M185.0,929.4h0M169.7,935.8h0M168.4,953.0h0M167.7,943.2h0M164.7,949.8h0M175.7,941.5h0M160.4,940.3h0M169.4,937.4h0M165.5,942.8h0M189.8,934.2h0M182.0,930.0h0M168.8,941.8h0M186.0,932.5h0M159.4,940.3h0M161.6,938.2h0M162.1,937.3h0M172.3,942.4h0M163.4,947.3h0M185.6,933.3h0M173.0,934.9h0M180.5,939.1h0M182.7,934.6h0M161.5,944.6h0M177.2,938.1h0M174.0,949.6h0M173.0,940.9h0M161.0,936.7h0M184.5,937.0h0M176.5,935.7h0M163.1,950.2h0M177.7,938.5h0M169.6,948.2h0M156.8,935.9h0M170.4,932.6h0M178.4,939.4h0M167.8,943.0h0M179.1,939.7h0M165.7,939.2h0M178.5,935.2h0M183.2,930.9h0M184.3,937.2h0M167.7,942.6h0M163.1,950.8h0M162.0,954.3h0M167.1,936.9h0M157.0,955.9h0M166.3,940.8h0M167.7,944.7h0M174.4,946.7h0M175.3,955.6h0M160.7,944.1h0M166.7,940.2h0M163.3,937.3h0M167.2,941.1h0" stroke="#a8b8f2" stroke-width="0.9" stroke-linecap="square" fill="none"/>
<path d="M162.4,945.3h0M170.2,944.6h0M171.5,938.8h0M165.3,946.0h0M175.7,940.2h0M175.7,935.9h0M169.4,943.8h0M169.6,945.0h0M169.1,945.5h0M162.8,940.8h0M170.6,937.7h0M176.4,937.6h0M168.3,942.9h0M165.5,944.0h0M166.0,941.2h0M169.8,941.8h0M175.9,940.7h0M181.7,941.8h0M184.4,941.0h0M170.4,936.2h0M165.9,944.8h0M169.7,943.7h0M168.9,944.5h0M170.2,935.0h0M178.2,928.2h0M171.6,944.9h0M169.5,942.7h0M170.5,939.1h0M171.9,947.8h0M175.0,936.7h0M175.7,934.5h0M173.4,935.4h0M168.3,934.9h0M155.4,942.1h0M173.8,942.9h0M171.3,940.5h0M163.1,946.2h0M174.7,934.8h0M161.6,941.7h0M170.0,938.9h0M182.3,937.6h0M174.2,941.3h0M167.8,938.0h0M168.6,940.1h0M168.3,943.2h0M168.3,939.2h0M176.5,935.9h0M171.9,936.7h0M179.0,933.0h0M176.3,934.6h0M170.9,936.4h0M167.8,940.0h0M172.8,941.8h0M177.7,932.6h0M179.8,940.4h0M165.4,942.7h0M169.6,942.4h0M167.1,934.1h0M183.5,937.0h0M167.2,943.6h0M172.1,941.3h0M168.3,934.8h0M169.2,940.0h0M172.2,934.9h0M170.3,934.0h0M174.5,943.2h0M162.0,945.2h0M166.1,940.6h0M172.8,938.2h0M177.4,935.8h0M173.2,940.6h0M169.4,938.7h0M171.4,942.9h0M173.2,933.4h0M171.2,943.1h0M176.9,933.2h0M171.4,940.5h0M169.0,939.3h0M165.4,939.6h0M175.5,936.3h0M173.6,931.9h0M173.2,941.0h0M157.3,943.0h0M174.6,935.3h0M167.5,940.9h0M172.7,943.1h0M169.6,939.4h0M163.1,942.5h0M172.0,943.7h0M183.8,935.3h0M178.4,932.3h0M173.0,942.6h0M165.0,946.1h0M171.0,938.1h0M166.5,939.3h0M175.2,943.2h0M173.3,939.1h0M175.4,941.5h0M175.0,936.5h0M170.9,943.0h0M173.8,937.8h0M164.8,941.8h0M164.0,946.2h0M169.7,938.1h0M163.5,949.6h0M177.0,932.7h0M166.1,942.3h0M176.1,941.0h0M165.1,934.4h0M174.7,943.1h0M174.3,941.3h0M171.1,946.4h0M179.7,942.2h0M166.9,944.5h0M165.1,944.8h0M170.9,942.5h0M160.9,944.7h0M178.1,938.2h0M171.3,936.4h0M167.9,945.6h0M171.3,944.1h0M174.6,938.8h0M170.9,947.6h0M174.5,944.8h0M169.4,942.9h0M171.1,943.0h0M173.2,935.7h0M173.5,941.3h0M171.5,938.0h0M172.5,936.3h0M170.6,940.4h0M167.6,941.1h0M173.1,938.2h0M167.9,938.2h0M163.8,939.0h0M169.5,941.5h0M168.8,932.7h0M173.5,936.5h0M174.3,936.7h0M169.3,948.3h0M158.0,947.7h0M164.7,945.7h0M165.5,942.5h0M170.8,942.7h0M161.4,952.5h0M171.6,936.5h0M172.5,939.6h0M170.1,939.7h0M168.2,950.1h0M175.0,947.4h0" stroke="#5a7aea" stroke-width="1.0" stroke-linecap="square" fill="none"/>
<path d="M185.8,927.9h0M189.1,922.5h0M179.4,933.7h0M182.3,930.6h0M170.7,934.6h0M177.5,934.8h0M183.9,927.4h0M182.3,922.9h0M185.3,928.9h0" stroke="#7a94ee" stroke-width="1.0" stroke-linecap="square" fill="none"/>
<path d="M188.9,924.1h0M185.6,919.8h0M185.1,920.7h0M185.6,921.9h0M191.3,925.9h0M183.9,916.9h0M195.7,921.7h0M183.5,921.2h0M196.6,919.5h0M188.8,921.6h0M183.8,921.3h0M192.0,922.4h0M194.4,921.6h0" stroke="#a8b8f2" stroke-width="0.9" stroke-linecap="square" fill="none"/>
<path d="M188.3,921.8h0M187.3,923.4h0M187.4,920.3h0M193.1,918.8h0M186.4,918.2h0M187.4,916.9h0M185.7,918.2h0M193.6,922.8h0M193.6,920.6h0M196.5,920.7h0M188.1,917.6h0M188.9,919.5h0M199.2,920.9h0M189.6,921.2h0M186.3,919.4h0M189.7,921.2h0M195.5,922.3h0M188.9,922.4h0M192.0,919.5h0M193.7,920.5h0M192.8,922.3h0M191.0,920.9h0M192.0,921.4h0M188.8,922.1h0M192.5,919.2h0M193.9,920.3h0" stroke="#6f8cec" stroke-width="1.0" stroke-linecap="square" fill="none"/>
</g>
<g transform="rotate(-33 170.5 940.5)" filter="url(#bl2)">
<ellipse cx="170.5" cy="940.5" rx="7.98" ry="4.62" fill="#4163e6"/>
<ellipse cx="170.5" cy="940.5" rx="6.65" ry="3.85" fill="#2e8fe0"/>
<ellipse cx="170.5" cy="940.5" rx="5.51" ry="3.19" fill="#28b8c8"/>
<ellipse cx="170.5" cy="940.5" rx="4.37" ry="2.53" fill="#3acb7c"/>
<ellipse cx="170.5" cy="940.5" rx="3.23" ry="1.87" fill="#a4da38"/>
<ellipse cx="170.5" cy="940.5" rx="2.28" ry="1.32" fill="#f2d222"/>
<ellipse cx="170.5" cy="940.5" rx="1.52" ry="0.88" fill="#f08a1c"/>
<ellipse cx="170.5" cy="940.5" rx="0.76" ry="0.44" fill="#e63a1a"/>
</g>
<text x="133.6" y="907.8" font-size="8.2" text-anchor="start" font-weight="normal" fill="#1c1c1c"  stroke="#1c1c1c" stroke-width="0.31">Q1</text>
<text x="133.6" y="917.2" font-size="8.2" text-anchor="start" font-weight="normal" fill="#1c1c1c"  stroke="#1c1c1c" stroke-width="0.31">0.021</text>
<text x="202.8" y="905.8" font-size="8.2" text-anchor="end" font-weight="normal" fill="#1c1c1c"  stroke="#1c1c1c" stroke-width="0.31">Q2</text>
<text x="207.7" y="914.7" font-size="8.2" text-anchor="end" font-weight="normal" fill="#1c1c1c"  stroke="#1c1c1c" stroke-width="0.31">1.66</text>
<text x="133.6" y="961.6" font-size="8.2" text-anchor="start" font-weight="normal" fill="#1c1c1c"  stroke="#1c1c1c" stroke-width="0.31">Q4</text>
<text x="133.6" y="971.2" font-size="8.2" text-anchor="start" font-weight="normal" fill="#1c1c1c"  stroke="#1c1c1c" stroke-width="0.31">94.0</text>
<text x="202.8" y="961.6" font-size="8.2" text-anchor="end" font-weight="normal" fill="#1c1c1c"  stroke="#1c1c1c" stroke-width="0.31">Q3</text>
<text x="208.4" y="971.2" font-size="8.2" text-anchor="end" font-weight="normal" fill="#1c1c1c"  stroke="#1c1c1c" stroke-width="0.31">4.27</text>
<path d="M23.3,991.8V789.9M23.3,991.8H203.1" fill="none" stroke="#333" stroke-width="1.0" />
<path d="M21.5,791.4L23.3,786.9L25.1,791.4Z" fill="#222" stroke="none" stroke-width="1" />
<path d="M201.6,990.0L206.1,991.8L201.6,993.5999999999999Z" fill="#222" stroke="none" stroke-width="1" />
<text x="9.6" y="883.6" font-size="13" text-anchor="start" font-weight="normal" fill="#161616"  stroke="#161616" stroke-width="0.49">PI</text>
<text x="117.4" y="1003.3" font-size="12.8" text-anchor="middle" font-weight="normal" fill="#161616"  stroke="#161616" stroke-width="0.49">Annexin V</text>
<text x="223.6" y="564.1" font-size="22" text-anchor="start" font-weight="bold" fill="#000"  stroke="#000" stroke-width="0.44">H</text>
<path d="M283,575.4V660.6" fill="none" stroke="#161616" stroke-width="1.2" />
<path d="M282.4,660.6H410.5" fill="none" stroke="#161616" stroke-width="1.2" />
<text x="279.2" y="577.66" font-size="6.0" text-anchor="end" font-weight="bold" fill="#222"  stroke="#222" stroke-width="0.12">20</text>
<text x="279.2" y="599.16" font-size="6.0" text-anchor="end" font-weight="bold" fill="#222"  stroke="#222" stroke-width="0.12">15</text>
<text x="279.2" y="620.46" font-size="6.0" text-anchor="end" font-weight="bold" fill="#222"  stroke="#222" stroke-width="0.12">10</text>
<text x="279.2" y="641.86" font-size="6.0" text-anchor="end" font-weight="bold" fill="#222"  stroke="#222" stroke-width="0.12">5</text>
<text x="279.2" y="663.06" font-size="6.0" text-anchor="end" font-weight="bold" fill="#222"  stroke="#222" stroke-width="0.12">0</text>
<path d="M279.8,575.5H283M279.8,597H283M279.8,618.3H283M279.8,639.7H283M279.8,660.9H283M298.95,660.6v3M331.15,660.6v3M363.40,660.6v3M395.45,660.6v3" fill="none" stroke="#161616" stroke-width="1.1" />
<rect x="288.3" y="624.8" width="21.3" height="35.8" fill="url(#ph)" stroke="none" stroke-width="1" />
<path d="M288.30,660.60V624.80H309.60V660.60" fill="none" stroke="#161616" stroke-width="1.3" />
<path d="M298.95,624.80V621.20M294.55,621.20H303.35" fill="none" stroke="#161616" stroke-width="1.3" />
<rect x="320.6" y="608.6" width="21.1" height="52.0" fill="url(#pc)" stroke="none" stroke-width="1" />
<path d="M320.60,660.60V608.60H341.70V660.60" fill="none" stroke="#161616" stroke-width="1.3" />
<path d="M331.15,608.60V600.60M326.75,600.60H335.55" fill="none" stroke="#161616" stroke-width="1.3" />
<rect x="352.5" y="625.3" width="21.8" height="35.3" fill="url(#pv)" stroke="none" stroke-width="1" />
<path d="M352.50,660.60V625.30H374.30V660.60" fill="none" stroke="#161616" stroke-width="1.3" />
<path d="M363.40,625.30V619.60M359.00,619.60H367.80" fill="none" stroke="#161616" stroke-width="1.3" />
<rect x="384.6" y="642.2" width="21.7" height="18.4" fill="url(#pg)" stroke="none" stroke-width="1" />
<path d="M384.60,660.60V642.20H406.30V660.60" fill="none" stroke="#161616" stroke-width="1.3" />
<path d="M395.45,642.20V641.20M391.05,641.20H399.85" fill="none" stroke="#161616" stroke-width="1.3" />
<line x1="300.9" y1="581.8" x2="330" y2="581.8" stroke="#333" stroke-width="1.25" />
<text x="315.45" y="582.4" font-size="6.6" text-anchor="middle" font-weight="bold" fill="#333"  stroke="#333" stroke-width="0.13">*</text>
<line x1="362.4" y1="581.8" x2="395.8" y2="581.8" stroke="#333" stroke-width="1.25" />
<text x="379.1" y="582.4" font-size="6.6" text-anchor="middle" font-weight="bold" fill="#333"  stroke="#333" stroke-width="0.13">**</text>
<text x="301.75" y="670.8" font-size="13" text-anchor="end" font-weight="normal" fill="#161616" transform="rotate(-35.5 301.75 670.8)"  stroke="#161616" stroke-width="0.49">NC mimic</text>
<text x="334.95" y="671.2" font-size="13" text-anchor="end" font-weight="normal" fill="#161616" transform="rotate(-35.5 334.95 671.2)"  stroke="#161616" stroke-width="0.49">125a mimic</text>
<text x="368.2" y="671.6" font-size="13" text-anchor="end" font-weight="normal" fill="#161616" transform="rotate(-35.5 368.2 671.6)"  stroke="#161616" stroke-width="0.49">NC inhibitor</text>
<text x="401.45" y="672.3" font-size="13" text-anchor="end" font-weight="normal" fill="#161616" transform="rotate(-35.5 401.45 672.3)"  stroke="#161616" stroke-width="0.49">125a inhibitor</text>
<text x="251.79" y="622.5" font-size="13.02" text-anchor="middle" font-weight="normal" fill="#161616" transform="rotate(-90 251.79 622.5)" stroke="#161616" stroke-width="0.35">The percentage of</text>
<text x="267.0" y="619.6" font-size="13.04" text-anchor="middle" font-weight="normal" fill="#161616" transform="rotate(-90 267.0 619.6)" stroke="#161616" stroke-width="0.35">early apoptotic cells</text>
<path d="M462.9,575.2V660.4" fill="none" stroke="#161616" stroke-width="1.2" />
<path d="M462.29999999999995,660.4H591" fill="none" stroke="#161616" stroke-width="1.2" />
<text x="459.1" y="577.36" font-size="6.0" text-anchor="end" font-weight="bold" fill="#222"  stroke="#222" stroke-width="0.12">25</text>
<text x="459.1" y="594.46" font-size="6.0" text-anchor="end" font-weight="bold" fill="#222"  stroke="#222" stroke-width="0.12">20</text>
<text x="459.1" y="611.56" font-size="6.0" text-anchor="end" font-weight="bold" fill="#222"  stroke="#222" stroke-width="0.12">15</text>
<text x="459.1" y="628.66" font-size="6.0" text-anchor="end" font-weight="bold" fill="#222"  stroke="#222" stroke-width="0.12">10</text>
<text x="459.1" y="645.56" font-size="6.0" text-anchor="end" font-weight="bold" fill="#222"  stroke="#222" stroke-width="0.12">5</text>
<text x="459.1" y="662.56" font-size="6.0" text-anchor="end" font-weight="bold" fill="#222"  stroke="#222" stroke-width="0.12">0</text>
<path d="M459.7,575.2H462.9M459.7,592.3H462.9M459.7,609.4H462.9M459.7,626.5H462.9M459.7,643.4H462.9M459.7,660.4H462.9M478.65,660.4v3M510.90,660.4v3M543.25,660.4v3M575.35,660.4v3" fill="none" stroke="#161616" stroke-width="1.1" />
<rect x="467.7" y="639.4" width="21.9" height="21.0" fill="url(#ph)" stroke="none" stroke-width="1" />
<path d="M467.70,660.40V639.40H489.60V660.40" fill="none" stroke="#161616" stroke-width="1.3" />
<path d="M478.65,639.40V635.00M474.25,635.00H483.05" fill="none" stroke="#161616" stroke-width="1.3" />
<rect x="499.8" y="606.1" width="22.2" height="54.3" fill="url(#pc)" stroke="none" stroke-width="1" />
<path d="M499.80,660.40V606.10H522.00V660.40" fill="none" stroke="#161616" stroke-width="1.3" />
<path d="M510.90,606.10V594.50M506.50,594.50H515.30" fill="none" stroke="#161616" stroke-width="1.3" />
<rect x="532.4" y="638.4" width="21.7" height="22.0" fill="url(#pv)" stroke="none" stroke-width="1" />
<path d="M532.40,660.40V638.40H554.10V660.40" fill="none" stroke="#161616" stroke-width="1.3" />
<path d="M543.25,638.40V631.70M538.85,631.70H547.65" fill="none" stroke="#161616" stroke-width="1.3" />
<rect x="564.5" y="651.8" width="21.7" height="8.6" fill="url(#pg)" stroke="none" stroke-width="1" />
<path d="M564.50,660.40V651.80H586.20V660.40" fill="none" stroke="#161616" stroke-width="1.3" />
<path d="M575.35,651.80V646.00M570.95,646.00H579.75" fill="none" stroke="#161616" stroke-width="1.3" />
<line x1="480.8" y1="580.2" x2="510.2" y2="580.2" stroke="#333" stroke-width="1.25" />
<text x="495.5" y="580.8" font-size="6.6" text-anchor="middle" font-weight="bold" fill="#333"  stroke="#333" stroke-width="0.13">**</text>
<line x1="542.7" y1="580.2" x2="576.1" y2="580.2" stroke="#333" stroke-width="1.25" />
<text x="559.4" y="578.2" font-size="6.5" text-anchor="middle" font-weight="normal" fill="#333"  stroke="#333" stroke-width="0.25">ns</text>
<text x="481.45" y="670.6" font-size="13" text-anchor="end" font-weight="normal" fill="#161616" transform="rotate(-35.5 481.45 670.6)"  stroke="#161616" stroke-width="0.49">NC mimic</text>
<text x="514.7" y="671.0" font-size="13" text-anchor="end" font-weight="normal" fill="#161616" transform="rotate(-35.5 514.7 671.0)"  stroke="#161616" stroke-width="0.49">125a mimic</text>
<text x="548.05" y="671.4" font-size="13" text-anchor="end" font-weight="normal" fill="#161616" transform="rotate(-35.5 548.05 671.4)"  stroke="#161616" stroke-width="0.49">NC inhibitor</text>
<text x="581.35" y="672.1" font-size="13" text-anchor="end" font-weight="normal" fill="#161616" transform="rotate(-35.5 581.35 672.1)"  stroke="#161616" stroke-width="0.49">125a inhibitor</text>
<text x="432.22" y="624" font-size="13.1" text-anchor="middle" font-weight="normal" fill="#161616" transform="rotate(-90 432.22 624)" stroke="#161616" stroke-width="0.35">The percentage of</text>
<text x="447.52" y="623.5" font-size="13.1" text-anchor="middle" font-weight="normal" fill="#161616" transform="rotate(-90 447.52 623.5)" stroke="#161616" stroke-width="0.35">late apoptotic cells</text>
<path d="M638.4,575.2V660.4" fill="none" stroke="#161616" stroke-width="1.2" />
<path d="M637.8,660.4H767.6" fill="none" stroke="#161616" stroke-width="1.2" />
<text x="634.6" y="577.36" font-size="6.0" text-anchor="end" font-weight="bold" fill="#222"  stroke="#222" stroke-width="0.12">50</text>
<text x="634.6" y="594.36" font-size="6.0" text-anchor="end" font-weight="bold" fill="#222"  stroke="#222" stroke-width="0.12">40</text>
<text x="634.6" y="611.46" font-size="6.0" text-anchor="end" font-weight="bold" fill="#222"  stroke="#222" stroke-width="0.12">30</text>
<text x="634.6" y="628.46" font-size="6.0" text-anchor="end" font-weight="bold" fill="#222"  stroke="#222" stroke-width="0.12">20</text>
<text x="634.6" y="645.56" font-size="6.0" text-anchor="end" font-weight="bold" fill="#222"  stroke="#222" stroke-width="0.12">10</text>
<text x="634.6" y="662.56" font-size="6.0" text-anchor="end" font-weight="bold" fill="#222"  stroke="#222" stroke-width="0.12">0</text>
<path d="M635.1999999999999,575.2H638.4M635.1999999999999,592.2H638.4M635.1999999999999,609.3H638.4M635.1999999999999,626.3H638.4M635.1999999999999,643.4H638.4M635.1999999999999,660.4H638.4M654.45,660.4v3M686.50,660.4v3M718.35,660.4v3M750.55,660.4v3" fill="none" stroke="#161616" stroke-width="1.1" />
<rect x="643.6" y="635.2" width="21.7" height="25.2" fill="url(#ph)" stroke="none" stroke-width="1" />
<path d="M643.60,660.40V635.20H665.30V660.40" fill="none" stroke="#161616" stroke-width="1.3" />
<path d="M654.45,635.20V631.90M650.05,631.90H658.85" fill="none" stroke="#161616" stroke-width="1.3" />
<rect x="675.3" y="612.7" width="22.4" height="47.7" fill="url(#pc)" stroke="none" stroke-width="1" />
<path d="M675.30,660.40V612.70H697.70V660.40" fill="none" stroke="#161616" stroke-width="1.3" />
<path d="M686.50,612.70V603.10M682.10,603.10H690.90" fill="none" stroke="#161616" stroke-width="1.3" />
<rect x="707.5" y="635.2" width="21.7" height="25.2" fill="url(#pv)" stroke="none" stroke-width="1" />
<path d="M707.50,660.40V635.20H729.20V660.40" fill="none" stroke="#161616" stroke-width="1.3" />
<path d="M718.35,635.20V632.30M713.95,632.30H722.75" fill="none" stroke="#161616" stroke-width="1.3" />
<rect x="739.7" y="648.2" width="21.7" height="12.2" fill="url(#pg)" stroke="none" stroke-width="1" />
<path d="M739.70,660.40V648.20H761.40V660.40" fill="none" stroke="#161616" stroke-width="1.3" />
<path d="M750.55,648.20V645.30M746.15,645.30H754.95" fill="none" stroke="#161616" stroke-width="1.3" />
<line x1="657.1" y1="580.2" x2="685.9" y2="580.2" stroke="#333" stroke-width="1.25" />
<text x="671.5" y="580.8" font-size="6.6" text-anchor="middle" font-weight="bold" fill="#333"  stroke="#333" stroke-width="0.13">*</text>
<line x1="717.2" y1="580.2" x2="750.8" y2="580.2" stroke="#333" stroke-width="1.25" />
<text x="734.0" y="580.8" font-size="6.6" text-anchor="middle" font-weight="bold" fill="#333"  stroke="#333" stroke-width="0.13">**</text>
<text x="657.25" y="670.6" font-size="13" text-anchor="end" font-weight="normal" fill="#161616" transform="rotate(-35.5 657.25 670.6)"  stroke="#161616" stroke-width="0.49">NC mimic</text>
<text x="690.3" y="671.0" font-size="13" text-anchor="end" font-weight="normal" fill="#161616" transform="rotate(-35.5 690.3 671.0)"  stroke="#161616" stroke-width="0.49">125a mimic</text>
<text x="723.15" y="671.4" font-size="13" text-anchor="end" font-weight="normal" fill="#161616" transform="rotate(-35.5 723.15 671.4)"  stroke="#161616" stroke-width="0.49">NC inhibitor</text>
<text x="756.55" y="672.1" font-size="13" text-anchor="end" font-weight="normal" fill="#161616" transform="rotate(-35.5 756.55 672.1)"  stroke="#161616" stroke-width="0.49">125a inhibitor</text>
<text x="610.62" y="621.5" font-size="13.1" text-anchor="middle" font-weight="normal" fill="#161616" transform="rotate(-90 610.62 621.5)" stroke="#161616" stroke-width="0.35">The percentage of</text>
<text x="623.62" y="623" font-size="13.1" text-anchor="middle" font-weight="normal" fill="#161616" transform="rotate(-90 623.62 623)" stroke="#161616" stroke-width="0.35">apoptotic cells</text>
<text x="224.8" y="728.9" font-size="21.5" text-anchor="start" font-weight="bold" fill="#000"  stroke="#000" stroke-width="0.43">J</text>
<path d="M283,730.9V807.5" fill="none" stroke="#161616" stroke-width="1.2" />
<path d="M282.4,807.5H410" fill="none" stroke="#161616" stroke-width="1.2" />
<text x="279.2" y="733.06" font-size="6.0" text-anchor="end" font-weight="bold" fill="#222"  stroke="#222" stroke-width="0.12">20</text>
<text x="279.2" y="754.16" font-size="6.0" text-anchor="end" font-weight="bold" fill="#222"  stroke="#222" stroke-width="0.12">15</text>
<text x="279.2" y="787.96" font-size="6.0" text-anchor="end" font-weight="bold" fill="#222"  stroke="#222" stroke-width="0.12">5</text>
<text x="279.2" y="809.66" font-size="6.0" text-anchor="end" font-weight="bold" fill="#222"  stroke="#222" stroke-width="0.12">0</text>
<path d="M279.8,730.9H283M279.8,752H283M279.8,785.8H283M279.8,807.5H283M299.40,807.5v3M330.45,807.5v3M362.55,807.5v3M394.75,807.5v3" fill="none" stroke="#161616" stroke-width="1.1" />
<rect x="289" y="770.5" width="20.8" height="37.0" fill="url(#ph)" stroke="none" stroke-width="1" />
<path d="M289.00,807.50V770.50H309.80V807.50" fill="none" stroke="#161616" stroke-width="1.3" />
<rect x="319.6" y="770.5" width="21.7" height="37.0" fill="url(#pc)" stroke="none" stroke-width="1" />
<path d="M319.60,807.50V770.50H341.30V807.50" fill="none" stroke="#161616" stroke-width="1.3" />
<path d="M330.45,770.50V769.30M326.05,769.30H334.85" fill="none" stroke="#161616" stroke-width="1.3" />
<rect x="351.6" y="770.5" width="21.9" height="37.0" fill="url(#pv)" stroke="none" stroke-width="1" />
<path d="M351.60,807.50V770.50H373.50V807.50" fill="none" stroke="#161616" stroke-width="1.3" />
<rect x="384" y="788.9" width="21.5" height="18.6" fill="url(#pg)" stroke="none" stroke-width="1" />
<path d="M384.00,807.50V788.90H405.50V807.50" fill="none" stroke="#161616" stroke-width="1.3" />
<path d="M394.75,788.90V784.20M390.35,784.20H399.15" fill="none" stroke="#161616" stroke-width="1.3" />
<line x1="300.3" y1="736.2" x2="329.4" y2="736.2" stroke="#333" stroke-width="1.25" />
<text x="314.85" y="736.8" font-size="6.6" text-anchor="middle" font-weight="bold" fill="#333"  stroke="#333" stroke-width="0.13">*</text>
<line x1="361.9" y1="736.2" x2="395.1" y2="736.2" stroke="#333" stroke-width="1.25" />
<text x="378.5" y="736.8" font-size="6.6" text-anchor="middle" font-weight="bold" fill="#333"  stroke="#333" stroke-width="0.13">*</text>
<text x="302.2" y="817.8" font-size="13" text-anchor="end" font-weight="normal" fill="#161616" transform="rotate(-35.5 302.2 817.8)"  stroke="#161616" stroke-width="0.49">NC mimic</text>
<text x="334.25" y="818.2" font-size="13" text-anchor="end" font-weight="normal" fill="#161616" transform="rotate(-35.5 334.25 818.2)"  stroke="#161616" stroke-width="0.49">125b mimic</text>
<text x="367.35" y="818.6" font-size="13" text-anchor="end" font-weight="normal" fill="#161616" transform="rotate(-35.5 367.35 818.6)"  stroke="#161616" stroke-width="0.49">NC inhibitor</text>
<text x="400.75" y="819.3" font-size="13" text-anchor="end" font-weight="normal" fill="#161616" transform="rotate(-35.5 400.75 819.3)"  stroke="#161616" stroke-width="0.49">125b inhibitor</text>
<text x="253.7" y="767.9" font-size="13.04" text-anchor="middle" font-weight="normal" fill="#161616" transform="rotate(-90 253.7 767.9)" stroke="#161616" stroke-width="0.35">The persntage of</text>
<text x="268.95" y="769.9" font-size="13.2" text-anchor="middle" font-weight="normal" fill="#161616" transform="rotate(-90 268.95 769.9)" stroke="#161616" stroke-width="0.35">early apctotic cells</text>
<path d="M462.2,730.3V807" fill="none" stroke="#161616" stroke-width="1.2" />
<path d="M461.59999999999997,807H589" fill="none" stroke="#161616" stroke-width="1.2" />
<text x="458.4" y="732.46" font-size="6.0" text-anchor="end" font-weight="bold" fill="#222"  stroke="#222" stroke-width="0.12">20</text>
<text x="458.4" y="753.46" font-size="6.0" text-anchor="end" font-weight="bold" fill="#222"  stroke="#222" stroke-width="0.12">15</text>
<text x="458.4" y="787.16" font-size="6.0" text-anchor="end" font-weight="bold" fill="#222"  stroke="#222" stroke-width="0.12">5</text>
<text x="458.4" y="809.16" font-size="6.0" text-anchor="end" font-weight="bold" fill="#222"  stroke="#222" stroke-width="0.12">0</text>
<path d="M459.0,730.3H462.2M459.0,751.3H462.2M459.0,785H462.2M459.0,807H462.2M477.75,807v3M509.45,807v3M541.55,807v3M573.40,807v3" fill="none" stroke="#161616" stroke-width="1.1" />
<rect x="466.9" y="779.6" width="21.7" height="27.4" fill="url(#ph)" stroke="none" stroke-width="1" />
<path d="M466.90,807.00V779.60H488.60V807.00" fill="none" stroke="#161616" stroke-width="1.3" />
<path d="M477.75,779.60V773.60M473.35,773.60H482.15" fill="none" stroke="#161616" stroke-width="1.3" />
<rect x="498.5" y="751.9" width="21.9" height="55.1" fill="url(#pc)" stroke="none" stroke-width="1" />
<path d="M498.50,807.00V751.90H520.40V807.00" fill="none" stroke="#161616" stroke-width="1.3" />
<path d="M509.45,751.90V745.20M505.05,745.20H513.85" fill="none" stroke="#161616" stroke-width="1.3" />
<rect x="530.6" y="778.3" width="21.9" height="28.7" fill="url(#pv)" stroke="none" stroke-width="1" />
<path d="M530.60,807.00V778.30H552.50V807.00" fill="none" stroke="#161616" stroke-width="1.3" />
<path d="M541.55,778.30V770.80M537.15,770.80H545.95" fill="none" stroke="#161616" stroke-width="1.3" />
<rect x="562.6" y="795.1" width="21.6" height="11.9" fill="url(#pg)" stroke="none" stroke-width="1" />
<path d="M562.60,807.00V795.10H584.20V807.00" fill="none" stroke="#161616" stroke-width="1.3" />
<path d="M573.40,795.10V789.00M569.00,789.00H577.80" fill="none" stroke="#161616" stroke-width="1.3" />
<line x1="480" y1="735.6" x2="509" y2="735.6" stroke="#333" stroke-width="1.25" />
<text x="494.5" y="736.2" font-size="6.6" text-anchor="middle" font-weight="bold" fill="#333"  stroke="#333" stroke-width="0.13">**</text>
<line x1="541" y1="736.6" x2="574.5" y2="736.6" stroke="#333" stroke-width="1.25" />
<text x="557.75" y="737.2" font-size="6.6" text-anchor="middle" font-weight="bold" fill="#333"  stroke="#333" stroke-width="0.13">*</text>
<text x="480.55" y="817.0" font-size="13" text-anchor="end" font-weight="normal" fill="#161616" transform="rotate(-35.5 480.55 817.0)"  stroke="#161616" stroke-width="0.49">NC mimic</text>
<text x="513.25" y="817.4" font-size="13" text-anchor="end" font-weight="normal" fill="#161616" transform="rotate(-35.5 513.25 817.4)"  stroke="#161616" stroke-width="0.49">125b mimic</text>
<text x="546.35" y="817.8" font-size="13" text-anchor="end" font-weight="normal" fill="#161616" transform="rotate(-35.5 546.35 817.8)"  stroke="#161616" stroke-width="0.49">NC inhibitor</text>
<text x="579.4" y="818.5" font-size="13" text-anchor="end" font-weight="normal" fill="#161616" transform="rotate(-35.5 579.4 818.5)"  stroke="#161616" stroke-width="0.49">125b inhibitor</text>
<text x="431.1" y="763.5" font-size="12.45" text-anchor="middle" font-weight="normal" fill="#161616" transform="rotate(-90 431.1 763.5)" stroke="#161616" stroke-width="0.35">The peeentage of</text>
<text x="445.81" y="762.4" font-size="13.08" text-anchor="middle" font-weight="normal" fill="#161616" transform="rotate(-90 445.81 762.4)" stroke="#161616" stroke-width="0.35">late apctotic cells</text>
<path d="M636.8,729.5V806.4" fill="none" stroke="#161616" stroke-width="1.2" />
<path d="M636.1999999999999,806.4H764" fill="none" stroke="#161616" stroke-width="1.2" />
<text x="633.0" y="731.66" font-size="6.0" text-anchor="end" font-weight="bold" fill="#222"  stroke="#222" stroke-width="0.12">50</text>
<text x="633.0" y="748.56" font-size="6.0" text-anchor="end" font-weight="bold" fill="#222"  stroke="#222" stroke-width="0.12">40</text>
<text x="633.0" y="765.56" font-size="6.0" text-anchor="end" font-weight="bold" fill="#222"  stroke="#222" stroke-width="0.12">30</text>
<text x="633.0" y="773.36" font-size="6.0" text-anchor="end" font-weight="bold" fill="#222"  stroke="#222" stroke-width="0.12">20</text>
<text x="633.0" y="790.96" font-size="6.0" text-anchor="end" font-weight="bold" fill="#222"  stroke="#222" stroke-width="0.12">10</text>
<text x="633.0" y="808.56" font-size="6.0" text-anchor="end" font-weight="bold" fill="#222"  stroke="#222" stroke-width="0.12">0</text>
<path d="M633.5999999999999,729.5H636.8M633.5999999999999,746.4H636.8M633.5999999999999,763.4H636.8M633.5999999999999,771.2H636.8M633.5999999999999,788.8H636.8M633.5999999999999,806.4H636.8M652.40,806.4v3M684.15,806.4v3M716.30,806.4v3M748.20,806.4v3" fill="none" stroke="#161616" stroke-width="1.1" />
<rect x="641.6" y="780.2" width="21.6" height="26.2" fill="url(#ph)" stroke="none" stroke-width="1" />
<path d="M641.60,806.40V780.20H663.20V806.40" fill="none" stroke="#161616" stroke-width="1.3" />
<path d="M652.40,780.20V777.30M648.00,777.30H656.80" fill="none" stroke="#161616" stroke-width="1.3" />
<rect x="673.3" y="770.6" width="21.7" height="35.8" fill="url(#pc)" stroke="none" stroke-width="1" />
<path d="M673.30,806.40V770.60H695.00V806.40" fill="none" stroke="#161616" stroke-width="1.3" />
<path d="M684.15,770.60V768.50M679.75,768.50H688.55" fill="none" stroke="#161616" stroke-width="1.3" />
<rect x="705.5" y="780.1" width="21.6" height="26.3" fill="url(#pv)" stroke="none" stroke-width="1" />
<path d="M705.50,806.40V780.10H727.10V806.40" fill="none" stroke="#161616" stroke-width="1.3" />
<path d="M716.30,780.10V777.40M711.90,777.40H720.70" fill="none" stroke="#161616" stroke-width="1.3" />
<rect x="737.4" y="794.5" width="21.6" height="11.9" fill="url(#pg)" stroke="none" stroke-width="1" />
<path d="M737.40,806.40V794.50H759.00V806.40" fill="none" stroke="#161616" stroke-width="1.3" />
<path d="M748.20,794.50V790.10M743.80,790.10H752.60" fill="none" stroke="#161616" stroke-width="1.3" />
<line x1="655" y1="735.8" x2="683" y2="735.8" stroke="#333" stroke-width="1.25" />
<text x="669.0" y="736.4" font-size="6.6" text-anchor="middle" font-weight="bold" fill="#333"  stroke="#333" stroke-width="0.13">**</text>
<line x1="718.1" y1="736.3" x2="748.8" y2="736.3" stroke="#333" stroke-width="1.25" />
<text x="733.45" y="736.9" font-size="6.6" text-anchor="middle" font-weight="bold" fill="#333"  stroke="#333" stroke-width="0.13">**</text>
<text x="655.2" y="816.8" font-size="13" text-anchor="end" font-weight="normal" fill="#161616" transform="rotate(-35.5 655.2 816.8)"  stroke="#161616" stroke-width="0.49">NC mimic</text>
<text x="687.95" y="817.2" font-size="13" text-anchor="end" font-weight="normal" fill="#161616" transform="rotate(-35.5 687.95 817.2)"  stroke="#161616" stroke-width="0.49">125b mimic</text>
<text x="721.1" y="817.6" font-size="13" text-anchor="end" font-weight="normal" fill="#161616" transform="rotate(-35.5 721.1 817.6)"  stroke="#161616" stroke-width="0.49">NC inhibitor</text>
<text x="754.2" y="818.3" font-size="13" text-anchor="end" font-weight="normal" fill="#161616" transform="rotate(-35.5 754.2 818.3)"  stroke="#161616" stroke-width="0.49">125b inhibitor</text>
<text x="607.62" y="762.3" font-size="13.4" text-anchor="middle" font-weight="normal" fill="#161616" transform="rotate(-90 607.62 762.3)" stroke="#161616" stroke-width="0.35">The peentage of</text>
<text x="622.42" y="764.9" font-size="13.4" text-anchor="middle" font-weight="normal" fill="#161616" transform="rotate(-90 622.42 764.9)" stroke="#161616" stroke-width="0.35">apoptic cells</text>
<defs><filter id="bl3" x="-20%" y="-50%" width="140%" height="200%"><feGaussianBlur stdDeviation="0.65"/></filter><filter id="bl5" x="-30%" y="-50%" width="160%" height="200%"><feGaussianBlur stdDeviation="1.5"/></filter></defs>
<text x="228.5" y="892.8" font-size="22.5" text-anchor="start" font-weight="bold" fill="#000"  stroke="#000" stroke-width="0.45">K</text>
<rect x="295.3" y="950.8" width="85.7" height="13.5" fill="#e4e4e4" stroke="#868686" stroke-width="1.1" />
<rect x="295.3" y="969.3" width="85.7" height="19.9" fill="#e4e4e4" stroke="#868686" stroke-width="1.1" />
<rect x="295.3" y="993.7" width="85.7" height="11.9" fill="#e4e4e4" stroke="#868686" stroke-width="1.1" />
<g filter="url(#bl3)">
<rect x="297.0" y="956.00" width="14.6" height="1.80" rx="0.90" fill="#5a5a5a" opacity="1.0"/>
<rect x="319.1" y="956.00" width="14.6" height="1.80" rx="0.90" fill="#8e8e8e" opacity="1.0"/>
<rect x="340.9" y="955.95" width="14.6" height="1.90" rx="0.95" fill="#4a4a4a" opacity="1.0"/>
<rect x="363.1" y="955.55" width="14.6" height="2.70" rx="1.35" fill="#161616" opacity="1.0"/>
<rect x="297.6" y="976.00" width="13.5" height="3.00" rx="1.50" fill="#1c1c1c" opacity="1.0"/>
<rect x="297.3" y="981.60" width="14.0" height="2.60" rx="1.30" fill="#8c8c8c" opacity="1.0"/>
<rect x="319.6" y="976.10" width="13.5" height="2.80" rx="1.40" fill="#5c5c5c" opacity="1.0"/>
<rect x="318.4" y="980.50" width="16.0" height="4.80" rx="2.40" fill="#060606" opacity="1.0"/>
<rect x="341.4" y="976.30" width="13.5" height="2.40" rx="1.20" fill="#bcbcbc" opacity="1.0"/>
<rect x="341.2" y="981.50" width="14.0" height="2.80" rx="1.40" fill="#2c2c2c" opacity="1.0"/>
<rect x="363.6" y="976.30" width="13.5" height="2.40" rx="1.20" fill="#c6c6c6" opacity="1.0"/>
<rect x="363.4" y="981.70" width="14.0" height="2.40" rx="1.20" fill="#b8b8b8" opacity="1.0"/>
<rect x="295.8" y="997.05" width="17.0" height="3.70" rx="1.85" fill="#0e0e0e" opacity="1.0"/>
<rect x="317.9" y="997.05" width="17.0" height="3.70" rx="1.85" fill="#0e0e0e" opacity="1.0"/>
<rect x="339.7" y="997.05" width="17.0" height="3.70" rx="1.85" fill="#0e0e0e" opacity="1.0"/>
<rect x="361.9" y="997.05" width="17.0" height="3.70" rx="1.85" fill="#0e0e0e" opacity="1.0"/>
<rect x="298" y="998.2" width="80" height="1.4" fill="#3a3a3a" stroke="none" stroke-width="1" />
</g>
<text x="289.2" y="961" font-size="12.2" text-anchor="end" font-weight="normal" fill="#161616"  stroke="#161616" stroke-width="0.46">PCNA</text>
<text x="291" y="982" font-size="12.3" text-anchor="end" font-weight="normal" fill="#161616"  stroke="#161616" stroke-width="0.47">Cleaved C3</text>
<text x="290" y="1003.2" font-size="12.2" text-anchor="end" font-weight="normal" fill="#161616"  stroke="#161616" stroke-width="0.46">β-actin</text>
<text x="384.4" y="960.4" font-size="9.3" text-anchor="start" font-weight="normal" fill="#161616"  stroke="#161616" stroke-width="0.35">37 kDa</text>
<text x="384.4" y="981" font-size="9.3" text-anchor="start" font-weight="normal" fill="#161616"  stroke="#161616" stroke-width="0.35">17/15 kDa</text>
<text x="384.4" y="1001.8" font-size="9.3" text-anchor="start" font-weight="normal" fill="#161616"  stroke="#161616" stroke-width="0.35">42 kDa</text>
<text x="297.5" y="949.5" font-size="13" text-anchor="start" font-weight="normal" fill="#161616" transform="rotate(-38.5 297.5 949.5)"  stroke="#161616" stroke-width="0.49">NC-mimic</text>
<text x="321" y="949.5" font-size="13" text-anchor="start" font-weight="normal" fill="#161616" transform="rotate(-38.5 321 949.5)"  stroke="#161616" stroke-width="0.49">miR125a mimic</text>
<text x="343" y="949.5" font-size="13" text-anchor="start" font-weight="normal" fill="#161616" transform="rotate(-38.5 343 949.5)"  stroke="#161616" stroke-width="0.49">NC inhibitor</text>
<text x="363" y="949.5" font-size="13" text-anchor="start" font-weight="normal" fill="#161616" transform="rotate(-38.5 363 949.5)"  stroke="#161616" stroke-width="0.49">miR125a inhibitor</text>
<rect x="501.1" y="943.4" width="84.9" height="17.9" fill="#dadada" stroke="#868686" stroke-width="1.1" />
<rect x="501.1" y="965.4" width="84.9" height="19.9" fill="#e2e2e2" stroke="#868686" stroke-width="1.1" />
<rect x="501.1" y="989.1" width="84.9" height="15.1" fill="#ebebeb" stroke="#868686" stroke-width="1.1" />
<g filter="url(#bl3)">
<rect x="502.8" y="951.65" width="14.6" height="1.90" rx="0.95" fill="#262626" opacity="1.0"/>
<rect x="524.0" y="951.65" width="14.6" height="1.90" rx="0.95" fill="#3a3a3a" opacity="1.0"/>
<rect x="545.8" y="951.65" width="14.6" height="1.90" rx="0.95" fill="#2a2a2a" opacity="1.0"/>
<rect x="568.1" y="951.65" width="14.6" height="1.90" rx="0.95" fill="#1c1c1c" opacity="1.0"/>
<rect x="502.3" y="993.80" width="15.6" height="4.00" rx="2.00" fill="#0a0a0a" opacity="1.0"/>
<rect x="523.5" y="993.80" width="15.6" height="4.00" rx="2.00" fill="#0a0a0a" opacity="1.0"/>
<rect x="545.3" y="993.80" width="15.6" height="4.00" rx="2.00" fill="#0a0a0a" opacity="1.0"/>
<rect x="567.6" y="993.00" width="15.6" height="4.00" rx="2.00" fill="#0a0a0a" opacity="1.0"/>
</g><g filter="url(#bl5)">
<rect x="503.4" y="973.70" width="13.5" height="7.00" rx="3.50" fill="#8e8e8e" opacity="1.0"/>
<rect x="524.5" y="973.45" width="13.5" height="7.50" rx="3.75" fill="#4e4e4e" opacity="1.0"/>
<rect x="546.4" y="973.95" width="13.5" height="6.50" rx="3.25" fill="#a6a6a6" opacity="1.0"/>
<rect x="568.6" y="973.95" width="13.5" height="6.50" rx="3.25" fill="#a0a0a0" opacity="1.0"/>
</g>
<text x="496.4" y="960.2" font-size="12.2" text-anchor="end" font-weight="normal" fill="#161616"  stroke="#161616" stroke-width="0.46">PCNA</text>
<text x="497.6" y="981" font-size="12.3" text-anchor="end" font-weight="normal" fill="#161616"  stroke="#161616" stroke-width="0.47">Cleaved C3</text>
<text x="496.4" y="1000.4" font-size="12.2" text-anchor="end" font-weight="normal" fill="#161616"  stroke="#161616" stroke-width="0.46">β-actin</text>
<text x="589.8" y="958.6" font-size="9.3" text-anchor="start" font-weight="normal" fill="#161616"  stroke="#161616" stroke-width="0.35">37 kDa</text>
<text x="589.8" y="979.3" font-size="9.3" text-anchor="start" font-weight="normal" fill="#161616"  stroke="#161616" stroke-width="0.35">17/15 kDa</text>
<text x="589.8" y="1000.4" font-size="9.3" text-anchor="start" font-weight="normal" fill="#161616"  stroke="#161616" stroke-width="0.35">42 kDa</text>
<text x="503" y="942.5" font-size="13" text-anchor="start" font-weight="normal" fill="#161616" transform="rotate(-38.5 503 942.5)"  stroke="#161616" stroke-width="0.49">NC-mimic</text>
<text x="526" y="942.5" font-size="13" text-anchor="start" font-weight="normal" fill="#161616" transform="rotate(-38.5 526 942.5)"  stroke="#161616" stroke-width="0.49">miR125b mimic</text>
<text x="548" y="942.5" font-size="13" text-anchor="start" font-weight="normal" fill="#161616" transform="rotate(-38.5 548 942.5)"  stroke="#161616" stroke-width="0.49">NC inhibitor</text>
<text x="568.5" y="942.5" font-size="13" text-anchor="start" font-weight="normal" fill="#161616" transform="rotate(-38.5 568.5 942.5)"  stroke="#161616" stroke-width="0.49">miR125b inhibitor</text>
</g>
</svg>
</body></html>
